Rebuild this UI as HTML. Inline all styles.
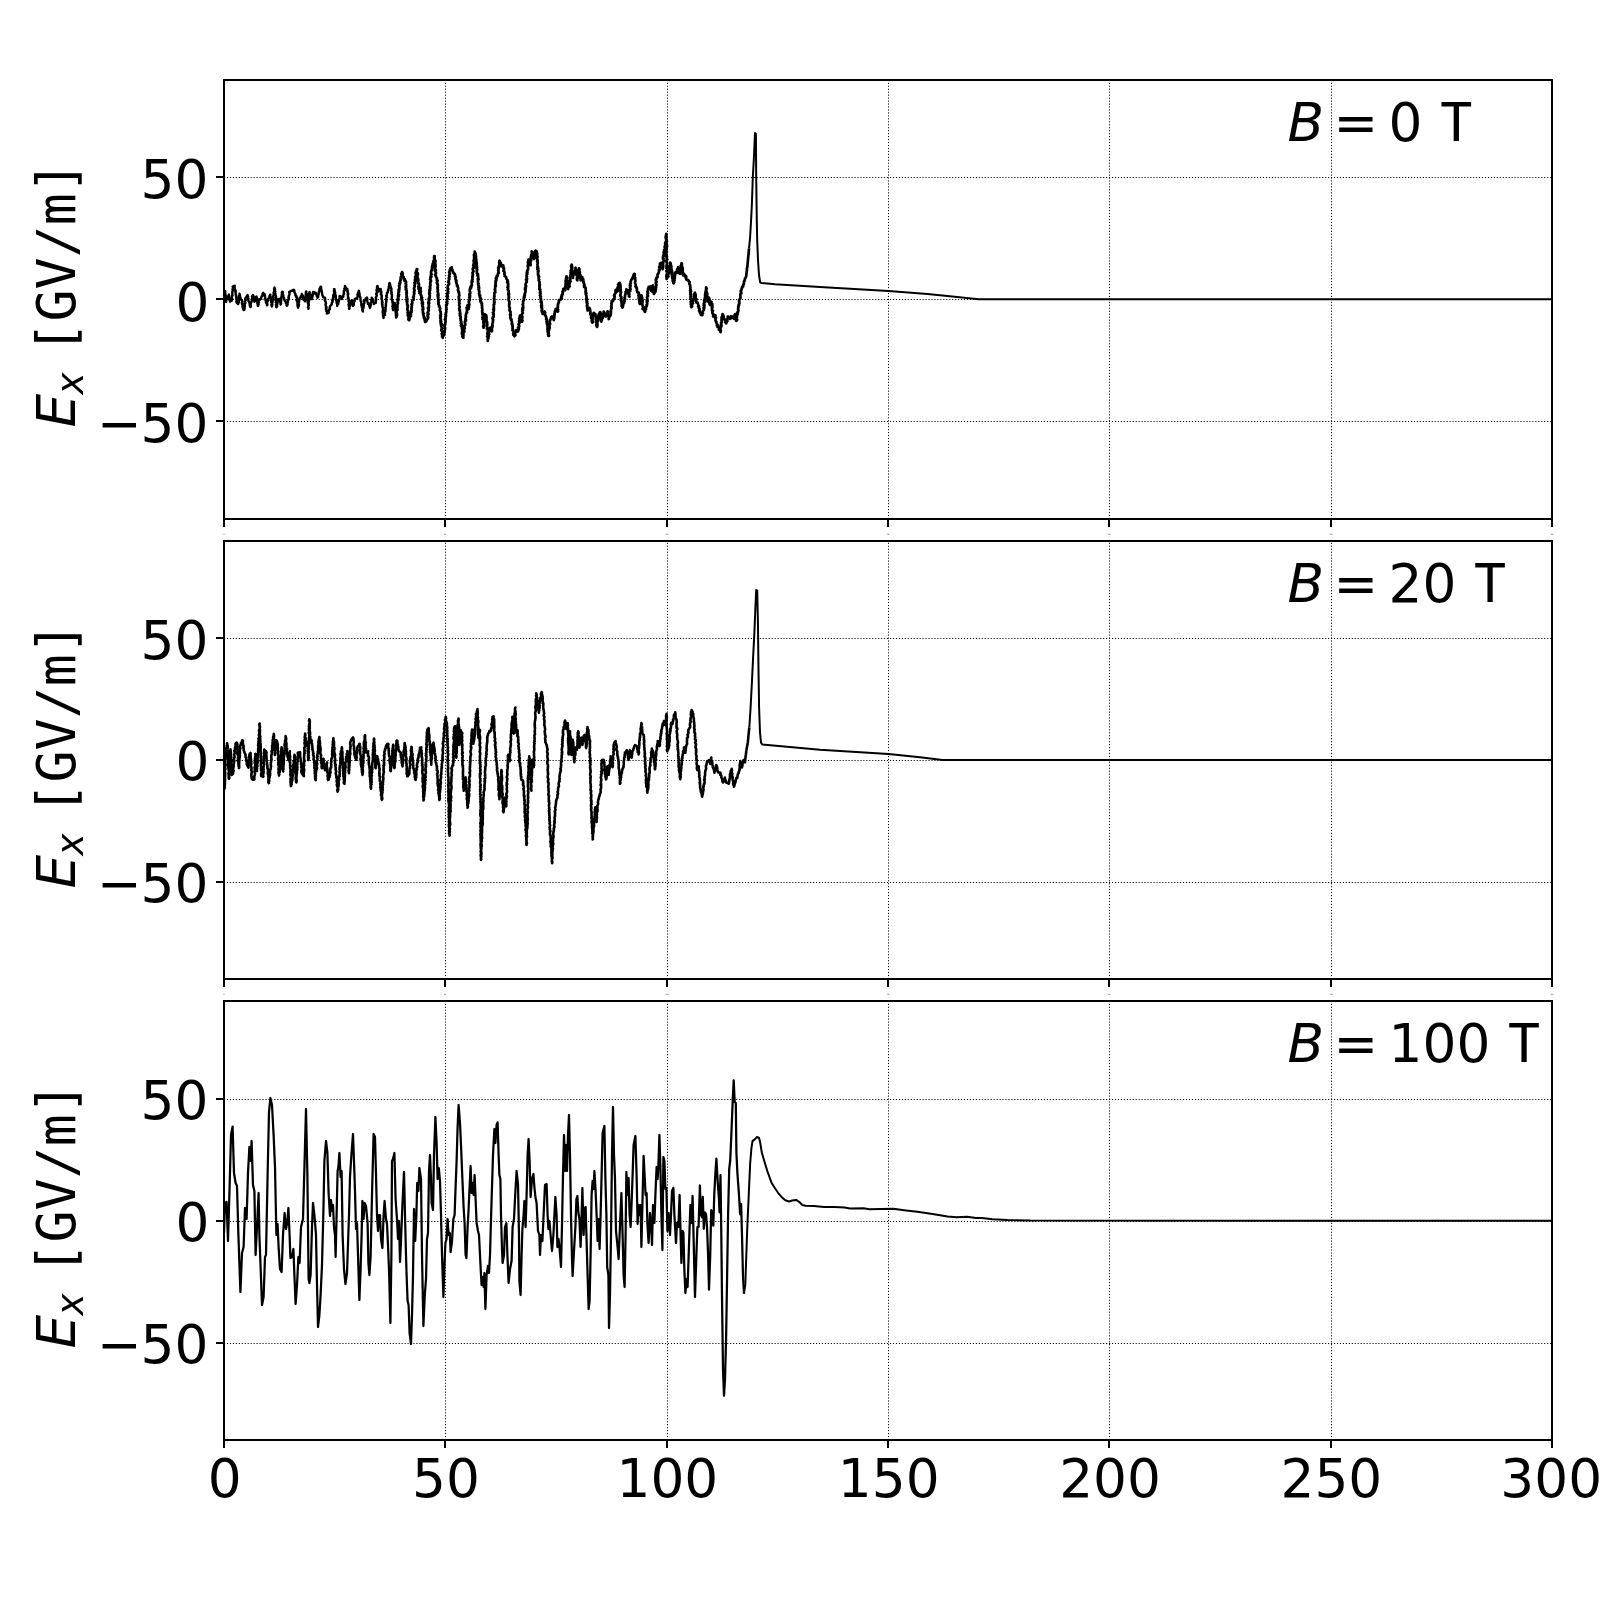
<!DOCTYPE html>
<html><head><meta charset="utf-8"><title>Ex</title>
<style>
html,body{margin:0;padding:0;background:#fff}
svg{display:block;will-change:transform}
text{font-family:"DejaVu Sans","Liberation Sans",sans-serif;fill:#000}
.m{font-family:"DejaVu Sans Mono","Liberation Mono",monospace}
.i{font-style:oblique}
.g{stroke:#000;stroke-width:1;stroke-dasharray:1.1 1.86}
.s{stroke:#000;stroke-width:2;fill:none}
.c{fill:none;stroke:#000;stroke-linejoin:round;stroke-linecap:butt}
</style></head><body>
<svg width="1600" height="1600" viewBox="0 0 1600 1600">
<rect width="1600" height="1600" fill="#fff"/>
<g id="p0">
<line class="g" x1="445.5" y1="519.0" x2="445.5" y2="80.0"/>
<line class="g" x1="667.5" y1="519.0" x2="667.5" y2="80.0"/>
<line class="g" x1="888.5" y1="519.0" x2="888.5" y2="80.0"/>
<line class="g" x1="1109.5" y1="519.0" x2="1109.5" y2="80.0"/>
<line class="g" x1="1331.5" y1="519.0" x2="1331.5" y2="80.0"/>
<line class="g" x1="224.0" y1="421.5" x2="1552.0" y2="421.5"/>
<line class="g" x1="224.0" y1="299.5" x2="1552.0" y2="299.5"/>
<line class="g" x1="224.0" y1="177.5" x2="1552.0" y2="177.5"/>
<polyline class="c" stroke-width="2.4" points="224.2,299.0 223.7,298.7 224.6,297.7 224.4,296.3 224.6,295.8 224.0,295.6 224.4,294.7 224.7,293.4 224.4,292.6 224.4,292.3 225.3,291.1 225.0,290.9 225.0,291.1 225.1,292.0 225.1,293.2 225.3,293.5 225.5,294.9 225.4,295.1 225.9,295.8 225.9,296.0 225.6,297.1 226.0,298.0 226.0,298.6 226.1,299.8 225.6,300.6 226.2,300.4 226.3,301.1 226.1,302.0 226.0,301.9 226.2,301.0 226.4,299.7 226.9,299.0 227.5,298.6 227.7,297.9 227.8,297.3 228.0,296.6 228.7,295.3 228.9,294.5 228.9,294.9 229.0,296.6 229.2,297.3 229.2,297.9 229.6,298.7 229.3,298.9 229.4,299.8 230.2,301.1 230.0,301.7 230.9,300.6 231.8,300.7 231.7,299.6 232.0,298.9 232.4,299.0 231.9,298.5 231.7,297.0 231.8,296.4 232.0,295.7 232.5,295.6 232.3,294.8 232.3,294.1 232.4,293.2 232.2,292.3 232.3,291.9 232.6,290.8 232.9,290.2 232.5,288.9 232.8,289.2 233.1,287.4 232.7,286.6 232.9,286.6 233.9,286.0 234.8,285.8 234.6,286.3 234.6,287.2 234.7,288.7 235.0,289.3 235.2,289.8 234.9,290.8 235.7,290.7 235.5,292.2 235.7,292.0 235.7,292.9 235.6,294.1 236.1,295.1 235.9,295.8 236.2,295.9 236.4,296.7 236.2,297.9 236.3,298.2 236.4,298.8 236.6,299.9 236.8,300.6 236.3,301.3 236.6,302.2 236.8,302.9 237.4,303.0 238.1,304.1 237.8,302.8 238.7,302.7 238.8,302.2 238.9,301.0 238.7,300.2 239.1,299.5 238.5,299.3 238.6,298.3 239.0,297.4 238.9,296.6 238.9,296.4 239.3,295.5 239.6,294.5 239.5,293.8 240.0,295.2 239.3,295.7 239.5,296.3 240.2,296.9 240.6,297.8 240.6,298.5 240.5,299.0 241.2,299.8 241.8,300.3 242.1,301.0 242.4,301.7 241.8,303.0 242.6,303.2 242.3,303.5 242.1,304.4 242.9,305.3 242.7,306.4 242.5,306.6 242.7,307.6 243.0,308.4 243.1,308.9 243.6,310.0 244.4,309.8 244.6,308.4 244.3,308.6 244.5,308.0 244.8,306.7 244.7,305.6 244.8,304.9 244.7,305.2 244.7,304.2 245.2,303.6 245.4,303.1 245.1,301.8 245.0,301.4 245.1,300.1 245.8,300.0 245.7,299.2 245.2,298.9 245.7,297.6 246.4,297.3 246.6,296.4 247.0,296.1 247.6,295.0 247.8,296.5 248.2,296.7 247.7,297.4 248.1,298.1 248.5,298.5 248.1,299.8 248.5,300.1 248.5,301.3 248.9,301.6 249.2,301.8 249.5,303.3 249.8,304.1 249.6,304.8 249.8,305.3 250.0,306.1 250.2,306.7 250.5,307.1 250.2,306.5 251.0,306.1 250.5,305.2 250.9,304.2 250.7,303.7 251.0,302.9 251.2,302.5 251.7,301.1 251.7,300.1 251.7,300.2 252.0,298.9 252.0,298.3 252.3,298.1 252.0,296.3 252.7,295.8 252.8,295.3 253.2,295.3 252.7,296.5 253.6,296.7 253.3,298.0 253.8,299.3 253.5,299.8 253.7,299.8 253.8,300.3 254.4,301.7 255.0,301.1 255.2,300.2 254.8,299.7 255.1,298.4 255.6,297.7 256.0,296.8 256.5,296.5 256.6,297.2 257.0,297.7 256.5,299.2 257.3,299.0 256.7,300.7 257.3,300.9 257.4,301.5 257.4,302.6 257.3,303.3 258.0,303.4 257.6,304.7 257.8,305.5 258.0,306.0 258.3,305.1 258.5,304.6 258.6,304.1 258.3,303.4 258.9,302.5 258.5,301.5 258.6,300.6 258.9,300.3 259.5,299.9 259.4,299.1 260.4,299.5 261.2,298.5 261.2,297.9 261.5,296.6 261.6,296.5 262.4,296.1 262.5,294.4 262.6,293.8 262.9,293.1 263.2,292.8 263.4,293.6 263.9,293.8 264.6,294.1 264.7,295.1 265.0,295.9 264.9,296.1 265.3,297.3 265.0,298.4 265.5,299.1 265.4,299.9 265.8,300.0 265.9,300.4 265.9,301.3 265.9,302.6 266.2,303.0 266.8,303.7 267.1,304.4 267.0,305.3 267.4,304.9 267.4,304.2 267.1,302.6 267.3,302.0 267.7,301.2 267.7,301.4 268.1,299.9 267.6,300.1 268.0,299.0 268.8,298.2 268.9,297.9 269.4,297.0 269.4,296.2 269.7,296.1 270.1,294.7 270.4,294.7 270.1,295.5 270.2,296.3 270.5,296.9 270.6,297.9 270.9,298.0 271.1,298.5 271.4,299.9 270.8,300.5 271.1,300.7 271.2,301.7 271.2,302.2 271.5,302.6 271.9,304.1 271.8,304.5 271.3,304.8 271.8,305.7 271.8,306.5 272.1,306.3 272.2,304.8 272.4,304.4 272.2,303.9 272.1,303.2 272.6,302.1 272.3,300.6 273.0,300.1 273.1,300.0 273.0,299.0 273.0,298.7 273.5,298.0 273.2,297.4 273.0,296.2 273.4,295.5 273.8,294.3 273.9,294.6 274.0,292.8 273.5,293.0 274.0,291.8 274.1,291.7 274.2,290.0 274.1,289.5 274.1,288.9 274.2,288.7 274.5,287.6 274.6,288.8 275.0,288.9 275.1,290.1 274.8,290.8 275.4,291.8 274.9,292.5 274.9,292.9 275.5,293.8 275.4,294.6 275.6,295.1 275.7,295.9 276.1,296.6 275.8,297.4 276.0,297.8 276.2,298.3 275.5,299.7 275.5,299.9 276.2,300.6 276.4,301.7 275.7,302.2 276.4,302.8 276.6,303.4 276.0,304.6 276.8,304.4 276.3,305.4 276.2,307.0 276.6,307.2 276.9,306.2 277.2,306.2 276.9,305.4 277.0,304.2 277.6,303.7 277.2,302.3 277.9,301.8 277.6,301.0 277.8,300.3 278.4,300.0 278.1,299.1 279.1,299.0 280.0,299.0 279.7,299.4 280.3,300.3 279.9,301.6 280.1,301.4 280.5,303.0 280.5,303.3 280.8,303.7 280.6,304.5 280.9,304.1 281.1,303.5 280.9,302.1 280.9,302.0 281.0,300.6 281.1,300.2 281.4,299.9 280.9,298.5 281.2,297.6 281.9,297.5 281.3,297.1 282.0,295.8 281.6,295.2 281.8,294.4 282.4,293.8 282.3,293.5 281.8,292.8 282.1,291.7 282.7,291.7 282.9,292.8 282.3,294.1 283.2,294.5 283.2,294.7 283.3,296.1 283.3,296.9 283.5,296.9 283.6,297.6 284.1,298.0 284.1,299.1 284.2,299.9 284.9,300.2 284.9,301.3 285.7,301.7 286.1,302.0 285.9,303.2 286.2,303.3 286.8,304.6 286.5,305.2 286.8,305.8 287.4,305.0 287.6,304.4 287.3,303.2 287.3,303.2 287.8,302.8 287.5,301.1 287.9,301.3 288.2,300.6 287.9,300.0 288.5,299.1 288.9,298.7 288.4,297.2 288.9,297.3 288.8,295.7 289.4,294.8 289.5,294.3 289.5,293.6 289.5,293.2 289.2,292.1 289.8,291.7 290.4,291.3 291.2,290.8 291.9,291.0 292.6,290.5 293.0,290.1 293.6,289.7 294.4,290.4 294.3,291.6 294.6,292.4 294.4,292.2 295.0,293.3 295.5,294.2 295.3,295.4 296.3,295.6 296.0,296.3 296.4,297.3 297.0,297.3 296.8,298.0 296.9,299.1 296.6,300.3 296.8,300.9 296.9,301.2 297.6,301.9 297.4,303.0 297.5,304.1 297.4,304.2 297.8,304.9 297.4,305.8 298.1,306.9 297.9,307.0 298.2,307.7 298.1,307.0 298.8,305.9 298.8,306.1 298.3,305.2 299.0,304.6 298.7,303.5 298.6,302.1 299.0,302.3 299.1,301.0 299.2,300.0 299.3,299.4 299.3,298.8 300.0,298.7 300.3,298.1 300.7,297.2 300.6,296.4 301.6,296.1 301.7,295.0 301.9,293.9 302.0,294.9 302.6,295.3 302.8,295.5 302.9,297.2 303.1,297.5 303.0,298.4 303.0,298.9 303.6,299.1 303.7,300.0 304.8,300.7 305.0,301.3 305.2,300.7 305.6,299.9 304.9,299.9 304.9,298.6 305.3,298.4 305.2,296.9 305.8,296.6 305.6,295.5 305.8,295.1 306.3,294.3 305.6,294.1 306.4,293.2 305.8,292.3 306.3,291.4 306.0,292.6 306.2,292.6 307.0,294.0 306.6,293.7 307.1,295.0 307.4,295.7 307.4,296.1 307.4,296.7 307.4,297.8 307.6,298.0 307.8,298.7 307.4,299.7 308.0,300.2 308.0,301.1 307.6,302.2 308.1,303.2 308.0,302.9 308.2,303.9 308.4,305.2 308.3,305.2 308.6,305.7 307.9,307.4 308.4,307.5 308.5,308.2 308.4,308.9 308.6,307.8 308.2,307.8 308.2,307.1 308.4,305.8 308.9,305.0 308.9,305.1 308.8,303.9 308.5,303.3 308.5,303.0 308.8,301.9 308.9,301.3 308.6,300.6 309.4,300.2 308.8,299.7 309.1,298.1 309.4,297.3 309.0,296.4 309.5,295.8 308.9,296.0 309.6,295.3 309.0,294.5 309.1,293.3 309.5,292.7 309.5,292.0 309.6,293.4 310.1,293.2 310.7,294.7 310.6,295.1 311.2,295.8 311.0,296.8 311.0,297.7 311.3,298.7 311.9,299.0 311.8,298.0 312.3,297.8 312.5,296.4 312.5,295.8 312.5,295.7 313.1,294.5 313.2,293.6 313.1,293.2 313.1,291.9 313.9,292.0 314.7,293.1 315.6,292.7 316.2,293.7 315.8,294.2 316.8,295.2 316.8,295.3 316.8,296.3 317.6,296.7 317.5,297.8 317.7,297.4 318.2,297.0 318.3,295.2 318.3,295.4 318.7,293.8 318.7,293.9 318.7,293.3 318.7,292.3 319.2,291.8 319.2,291.2 319.5,289.6 319.4,289.0 319.9,288.0 320.2,288.2 320.6,287.1 320.6,286.6 321.0,286.8 321.1,287.3 321.2,288.7 321.3,289.2 321.1,290.4 321.7,290.6 321.8,291.4 321.8,292.8 322.0,292.5 322.2,294.2 322.2,294.9 322.4,294.9 322.7,295.8 323.3,296.8 323.1,297.2 324.0,297.6 324.9,297.6 325.2,299.0 324.8,299.6 325.3,300.1 324.9,300.8 325.3,301.1 325.5,301.6 325.9,303.1 325.9,303.7 325.5,304.4 325.6,305.1 325.6,305.1 326.2,306.8 326.4,306.9 325.9,307.9 326.6,307.8 325.9,309.4 326.6,310.0 326.9,310.6 326.3,311.1 326.9,311.8 327.1,312.7 326.9,313.5 327.9,313.1 328.8,312.6 328.9,312.1 328.6,311.6 328.8,310.5 329.7,309.5 329.2,309.4 329.9,309.1 329.7,307.3 329.9,307.5 329.9,306.6 330.3,306.2 331.1,305.0 331.5,304.8 331.8,304.1 331.7,303.5 331.9,302.6 332.7,301.5 332.2,300.7 332.4,300.2 333.1,299.6 333.1,299.1 332.9,298.2 333.2,297.4 333.6,297.2 333.1,296.1 333.4,294.8 333.6,294.7 333.7,294.6 334.3,293.4 334.1,292.3 334.4,291.6 333.9,291.1 334.3,290.4 334.0,289.1 334.5,289.1 334.2,289.2 334.8,290.7 334.9,291.1 334.7,291.5 335.3,292.8 334.9,293.3 335.1,293.9 335.4,294.6 335.7,295.3 335.8,296.5 335.4,296.2 335.8,296.9 335.8,298.2 336.0,298.6 336.1,300.0 336.6,299.9 336.2,300.7 336.9,301.1 336.7,301.8 336.6,303.1 337.0,303.4 337.3,304.1 337.2,305.2 337.2,305.9 337.3,305.1 337.6,303.8 338.3,304.2 338.3,302.5 338.1,302.7 338.8,301.6 338.6,300.6 338.8,300.4 339.2,300.0 339.4,298.6 339.3,298.3 339.8,297.7 339.5,296.1 340.0,295.9 340.5,296.3 341.0,296.4 340.9,298.1 341.8,298.6 341.9,299.0 341.9,298.3 342.1,297.2 343.0,297.0 343.3,296.6 343.3,295.0 343.6,294.7 343.7,293.9 344.1,293.6 343.8,292.8 343.8,291.4 343.8,291.1 344.6,289.8 344.8,289.4 344.3,288.6 344.9,287.7 345.1,287.5 345.3,287.0 344.9,285.9 345.4,286.6 345.3,287.5 345.9,288.1 346.2,288.2 346.0,289.4 346.1,290.2 347.2,289.6 347.4,288.9 347.4,290.1 347.3,290.6 347.8,291.1 347.5,291.4 347.7,292.7 348.2,293.5 348.2,294.5 347.7,294.7 347.9,295.5 348.0,296.3 348.1,297.3 347.9,298.2 348.4,297.7 348.6,298.4 348.5,299.7 349.0,299.8 348.4,301.0 349.0,302.4 348.9,302.1 349.2,302.8 349.1,303.7 348.5,304.4 349.2,304.8 348.8,306.6 349.5,307.1 349.3,308.0 349.0,308.9 349.4,308.9 349.6,308.4 349.4,307.2 349.9,306.4 350.1,306.0 350.0,305.0 350.0,304.1 350.3,304.3 350.2,303.1 350.4,302.4 350.7,301.5 351.3,300.7 351.9,300.3 352.3,300.7 352.5,301.2 352.3,301.9 352.1,303.6 352.3,303.9 352.5,304.0 352.6,305.0 353.0,306.0 353.1,305.7 353.8,305.0 353.9,304.0 353.5,303.2 353.9,302.9 354.1,301.3 354.7,300.9 354.3,300.5 354.7,299.4 355.0,298.9 356.1,298.5 357.0,298.6 357.1,298.3 357.6,296.6 357.6,296.0 357.6,295.7 357.4,294.8 357.9,294.1 357.6,294.1 358.1,293.5 358.1,292.2 359.0,291.7 358.8,290.7 359.0,291.0 358.6,292.0 359.3,292.9 359.7,294.2 359.3,294.8 359.4,294.9 359.8,296.4 360.0,296.5 360.2,297.5 360.6,297.7 360.6,298.1 360.5,298.9 360.5,300.5 360.8,301.3 361.3,301.5 361.1,302.4 361.2,302.7 361.6,303.8 361.3,304.4 361.3,305.4 362.0,306.0 362.3,306.5 361.7,307.1 362.4,308.0 362.6,309.0 362.1,309.7 362.3,310.0 362.7,311.3 363.0,311.4 362.8,311.3 362.8,310.4 362.9,309.6 362.9,308.9 363.2,308.5 363.5,307.9 363.6,306.8 363.9,305.7 363.7,304.9 363.8,303.9 363.8,304.2 364.2,303.6 364.4,302.9 364.2,301.5 363.9,300.5 364.4,300.4 365.1,300.5 365.5,299.6 365.6,298.4 366.5,298.4 367.0,297.6 367.3,298.8 367.3,299.4 367.2,300.1 367.0,300.5 367.2,300.8 367.5,302.2 368.0,302.8 367.9,303.4 368.0,304.1 368.9,304.1 369.1,305.0 369.4,306.3 369.4,306.6 370.0,307.9 370.1,307.3 370.6,305.8 370.4,306.1 370.6,304.8 370.9,304.6 370.4,303.1 371.2,302.2 371.1,302.5 371.4,301.4 371.4,300.6 371.1,299.9 371.3,299.4 372.1,299.0 371.8,297.7 372.0,298.6 372.1,298.6 372.9,299.4 372.9,300.5 373.0,300.8 372.7,301.6 373.4,302.5 373.8,303.1 373.8,304.1 374.6,303.4 374.9,302.7 375.7,302.9 375.9,301.5 375.8,301.7 375.7,300.4 376.3,299.7 375.8,298.9 376.1,298.0 376.1,298.2 375.8,297.3 376.2,296.9 376.6,296.2 376.8,295.2 376.1,294.1 376.4,293.7 376.3,293.4 377.0,292.7 376.8,292.0 376.9,290.7 376.6,290.5 376.5,289.9 377.2,288.8 377.0,288.2 377.0,287.0 377.1,286.3 377.3,286.0 377.8,286.4 377.7,287.0 377.8,288.0 377.8,289.3 377.8,289.4 378.5,290.1 378.6,290.6 378.7,291.5 379.0,290.8 379.9,290.1 379.9,289.0 380.8,289.1 380.6,289.2 380.4,290.4 381.3,291.5 381.4,292.2 381.1,293.1 380.9,293.4 380.8,294.5 381.3,294.2 381.3,295.0 381.9,295.9 381.4,297.3 381.8,297.9 381.4,298.6 381.7,298.9 381.7,299.7 382.1,300.4 382.1,300.6 381.9,301.9 382.6,302.2 382.0,302.9 382.0,304.5 382.5,304.3 382.4,305.8 382.4,306.6 382.4,306.9 383.0,307.4 382.7,307.8 383.1,309.5 383.1,310.1 382.6,311.1 382.6,310.9 383.4,311.8 382.7,312.7 383.1,313.5 383.2,314.3 382.9,314.4 383.1,316.0 383.2,316.9 383.6,317.6 383.5,317.9 383.5,316.5 383.7,316.1 384.3,315.0 385.1,315.0 384.9,313.9 384.9,312.9 385.0,312.8 384.8,311.6 385.0,311.7 385.6,311.0 385.4,309.6 385.7,309.2 385.6,308.7 385.3,307.7 385.9,306.9 385.8,305.6 386.0,305.6 385.7,305.4 386.0,304.3 385.9,303.5 386.2,303.0 386.1,302.1 386.1,301.7 386.6,300.9 386.2,300.4 386.0,298.6 386.2,298.2 386.7,297.6 386.9,297.4 386.1,296.0 386.7,295.5 386.8,295.1 386.9,293.8 387.2,292.9 386.9,292.8 387.6,292.8 388.0,291.6 387.8,291.1 388.4,290.0 388.1,289.4 388.6,288.8 388.9,287.8 388.7,287.1 389.0,285.8 389.2,285.5 389.5,285.5 389.0,284.0 389.7,283.6 389.5,283.0 389.8,283.2 390.1,284.1 390.1,285.2 390.3,285.6 390.6,286.1 390.8,287.4 390.7,287.2 391.5,288.7 391.2,289.0 391.4,289.3 391.4,290.5 391.0,290.8 391.7,292.2 391.2,292.6 391.4,293.7 391.9,294.1 391.7,294.4 392.0,295.5 391.8,296.6 391.9,296.5 391.9,297.6 391.7,297.9 391.7,299.1 392.5,299.7 392.1,300.6 392.4,301.1 392.7,301.5 392.4,302.3 392.7,303.4 392.8,304.4 392.8,304.6 392.8,304.9 392.4,306.5 393.0,307.1 392.8,307.5 392.7,308.3 393.0,308.4 393.3,309.2 393.0,310.1 392.9,309.5 393.8,308.6 393.7,308.2 393.6,307.7 394.4,306.4 394.1,305.3 394.0,304.9 394.7,303.9 394.2,303.8 394.7,302.9 394.9,303.0 395.1,303.7 394.8,305.2 394.7,305.3 394.9,305.9 394.9,306.7 395.2,307.8 394.9,308.3 395.2,309.1 395.9,310.4 395.6,310.2 395.4,311.7 395.9,311.5 396.2,312.5 395.8,313.6 396.2,313.6 396.0,315.1 396.2,316.1 396.5,316.2 396.4,316.6"/>
<polyline class="c" stroke-width="2.7" points="396.4,316.6 396.2,317.5 396.6,316.6 396.1,316.6 397.0,315.6 396.1,315.4 397.0,314.9 396.2,313.2 397.0,313.4 396.4,312.2 396.7,311.1 396.8,310.3 396.5,310.3 397.4,309.9 397.5,309.1 397.4,308.4 397.3,307.5 397.5,306.5 397.1,305.2 397.4,304.8 397.6,304.4 398.0,303.1 398.1,303.1 397.6,302.3 397.8,301.3 398.0,301.0 397.4,299.6 398.4,300.1 398.4,299.1 398.0,297.9 398.5,297.1 398.1,296.5 398.9,296.0 398.0,295.4 399.1,294.5 398.3,293.9 398.3,293.5 398.5,291.9 399.1,291.8 399.1,290.4 398.5,290.0 399.3,288.9 399.4,289.1 399.1,288.5 399.5,287.8 399.4,286.9 399.0,285.6 399.6,285.2 400.0,283.9 399.3,283.4 399.9,282.8 400.4,282.8 400.0,281.6 400.2,281.2 400.6,280.0 400.6,280.1 400.6,278.1 401.3,277.7 400.8,277.0 401.5,276.2 401.5,275.1 401.5,275.0 401.2,273.8 401.9,273.7 402.2,273.2 402.1,272.1 401.9,272.6 402.7,273.1 402.3,274.1 402.7,274.7 402.8,276.1 403.1,276.6 403.3,277.0 403.7,277.1 403.8,278.3 403.9,279.7 404.9,279.1 404.4,280.6 405.6,280.8 405.7,281.3 406.1,282.5 405.8,282.7 405.6,283.5 406.2,284.3 405.9,284.5 406.1,285.6 406.2,286.4 405.5,286.6 405.9,288.3 406.3,288.3 405.7,289.6 406.4,289.9 406.6,290.2 406.6,291.9 406.3,292.4 406.7,292.1 406.8,293.9 406.4,294.3 406.6,294.9 406.6,295.8 406.9,296.4 406.4,297.4 407.2,298.1 407.2,298.7 406.8,299.0 406.6,300.4 407.3,301.0 406.7,301.5 407.3,301.8 407.1,302.0 407.1,303.4 407.1,304.4 407.4,304.7 408.0,305.6 407.4,305.5 407.8,306.5 407.7,307.3 407.7,307.6 407.2,309.2 407.6,310.2 408.0,310.4 408.3,311.4 407.6,312.5 408.2,312.2 407.8,313.9 408.2,313.9 407.7,315.3 408.0,315.0 407.9,315.8 408.3,316.3 408.9,318.1 408.4,318.8 408.5,319.0 408.3,319.1 408.8,320.1 409.3,320.1 409.5,319.5 409.5,318.5 410.1,316.9 410.5,316.3 411.0,316.2 410.2,314.6 410.9,314.4 410.9,313.1 410.5,312.9 411.5,312.2 411.3,310.8 411.6,311.0 411.6,309.3 411.4,308.5 411.3,308.8 411.8,307.6 411.5,306.8 411.8,306.1 412.0,304.8 411.5,304.2 411.8,304.0 412.1,303.9 412.4,302.3 412.1,301.9 412.2,300.7 412.3,300.9 412.6,300.2 413.5,300.0 413.7,298.1 413.4,297.6 413.1,297.2 413.9,296.4 413.9,296.3 413.7,295.7 414.0,294.5 414.3,293.7 414.2,293.3 414.3,292.2 413.9,292.2 414.2,291.0 414.6,290.5 414.4,289.5 413.9,288.6 414.3,287.6 414.4,287.1 414.4,286.7 414.9,286.6 414.4,285.8 415.0,284.4 414.6,283.4 414.4,282.6 415.1,282.9 414.9,282.4 415.2,281.8 415.3,280.1 414.8,280.2 415.3,278.9 415.1,277.6 415.7,278.1 415.1,277.0 415.7,276.3 416.1,276.1 415.8,275.1 416.0,274.3 415.6,272.9 416.8,273.1 416.0,271.3 416.5,271.2 416.4,270.4 417.2,269.2 416.8,269.1 416.9,269.4 417.0,270.1 416.7,270.5 416.8,271.8 417.1,272.7 417.7,273.1 417.8,273.6 417.9,274.5 417.4,275.9 417.4,276.6 417.2,277.1 417.4,277.7 417.5,277.6 418.3,279.3 417.7,280.2 418.3,280.4 417.7,281.1 418.4,282.2 417.9,283.1 418.3,283.2 418.7,283.3 419.0,284.7 419.1,284.6 418.5,286.3 418.3,286.3 418.5,288.1 419.4,288.1 418.5,288.9 419.4,289.0 419.5,290.6 419.6,291.5 419.2,291.4 419.7,292.2 419.3,293.1 419.6,292.8 419.6,291.8 420.0,290.9 419.5,290.0 420.1,290.4 419.5,288.6 419.5,288.4 420.1,287.8 420.6,287.9 420.5,289.5 420.5,290.4 420.2,291.2 420.8,291.9 420.9,291.7 420.4,292.2 420.6,294.0 420.9,294.6 420.7,295.0 421.4,295.6 421.4,295.8 421.3,296.8 422.1,297.7 421.3,298.2 421.9,298.9 421.7,299.7 421.6,300.3 422.4,301.0 422.5,302.4 421.9,301.9 422.9,302.6 421.9,303.5 422.9,304.1 422.3,305.5 422.2,305.9 423.1,307.1 422.7,306.8 423.1,308.7 423.2,309.0 422.5,309.3 423.0,310.6 422.8,310.3 422.9,312.3 422.9,312.9 423.8,313.5 423.6,313.7 423.2,313.9 423.3,314.7 423.7,315.9 423.7,316.4 423.9,317.8 424.4,317.2 424.7,318.3 424.6,319.2 424.5,319.6 425.0,320.6 425.0,321.8 425.1,322.0 425.5,321.8 426.3,321.2 426.6,320.5 427.0,319.6 427.8,318.8 427.6,318.6 428.2,317.6 428.1,316.7 427.6,316.4 427.6,315.2 428.5,314.3 427.7,313.7 428.2,313.0 427.7,312.4 427.9,312.2 428.4,310.9 428.5,311.0 428.8,310.3 427.9,308.3 428.8,308.2 428.4,307.5 428.9,307.5 429.0,306.3 428.8,306.1 428.7,304.4 428.7,304.1 428.3,302.8 429.3,303.1 428.5,302.1 428.6,301.4 429.3,300.4 428.8,300.0 428.7,298.5 429.6,298.7 429.7,297.1 429.6,297.5 429.5,296.8 429.9,295.9 429.4,294.6 429.1,293.6 430.0,293.4 429.3,292.6 429.6,291.3 429.4,290.5 429.4,289.9 430.1,290.4 430.2,288.6 429.9,288.0 430.2,287.8 429.8,286.4 430.5,285.6 430.3,285.0 430.4,284.7 430.1,283.5 430.4,283.2 430.3,281.9 430.9,281.4 430.7,281.0 431.0,280.6 430.1,279.4 430.5,278.7 430.6,277.6 431.3,277.2 430.4,277.1 431.4,276.7 430.8,274.9 431.3,274.7 431.6,274.5 431.1,273.3 431.0,271.9 431.4,271.1 431.3,270.4 431.5,270.3 432.0,270.0 432.0,268.4 431.9,267.9 432.1,267.9 432.1,266.2 433.1,265.6 432.3,265.1 432.6,265.0 433.2,264.2 432.8,263.6 433.8,263.1 433.7,261.4 433.2,261.6 434.2,259.8 434.4,260.0 434.1,259.5 434.1,258.6 434.2,257.0 434.1,256.1 434.6,256.1 434.2,257.0 434.7,257.4 434.6,257.8 434.5,259.2 434.8,259.2 434.4,260.7 435.4,260.7 435.5,261.9 434.6,262.2 435.3,263.6 434.9,263.8 435.5,264.5 434.9,265.1 434.7,266.5 435.7,266.2 435.5,266.9 434.8,267.9 435.0,268.8 435.0,269.9 435.9,269.9 434.9,270.8 435.9,272.1 435.7,272.5 435.9,272.6 436.0,274.0 435.1,274.6 435.5,275.4 435.7,275.9 436.3,277.3 436.7,277.9 437.0,279.1 436.9,279.0 436.8,280.1 437.6,280.4 437.1,281.5 437.4,281.6 436.7,282.7 437.5,283.5 437.2,284.3 437.9,285.1 437.8,284.9 437.7,286.0 437.6,287.2 437.9,287.2 437.4,288.0 437.9,289.6 437.8,289.5 437.7,290.2 437.9,290.8 437.6,291.6 437.8,292.3 438.1,293.2 438.4,294.3 437.6,294.8 438.4,295.5 437.7,296.0 438.3,297.3 438.0,297.1 438.0,298.3 438.5,299.1 438.6,300.3 438.2,300.7 438.2,301.1 438.8,302.5 438.7,302.5 438.4,302.8 438.4,304.2 438.6,304.4 439.3,305.8 439.4,305.8 438.9,306.5 439.5,306.9 440.2,308.8 440.1,308.8 439.8,310.1 439.9,309.9 440.0,310.5 440.7,312.1 440.5,312.6 440.8,313.4 440.9,314.7 440.8,314.2 440.1,315.7 440.9,316.1 440.5,317.5 440.2,318.0 440.4,317.9 440.7,319.8 440.9,319.2 440.4,321.3 440.5,321.4 441.2,321.3 440.6,322.8 441.7,323.6 440.8,323.6 440.9,324.8 441.7,325.4 441.1,326.2 441.5,326.9 441.7,327.6 441.6,328.2 441.8,329.1 441.2,330.3 441.5,330.8 442.2,331.8 442.5,331.8 442.6,332.9 441.7,333.8 441.8,334.0 442.3,334.5 442.0,336.3 442.7,335.7 442.7,336.7 442.7,337.8 442.7,337.2 443.0,336.8 443.3,336.0 444.0,334.6 444.3,333.7 443.6,333.0 444.4,332.8 444.8,332.0 444.5,330.8 444.7,330.5 444.9,330.0 445.0,329.1 444.4,328.3 445.1,327.8 444.9,327.6 444.4,326.0 444.4,325.1 444.9,325.3 445.3,324.1 445.2,323.6 445.1,323.5 445.4,322.4 445.5,322.1 445.5,320.2 444.9,319.4 445.6,319.9 445.4,319.1 445.7,317.8 445.4,317.0 445.9,316.8 445.9,316.5 446.0,315.4 445.5,314.5 446.0,313.6 445.9,312.7 446.1,313.2 446.3,311.6 446.3,310.7 446.3,310.1 446.5,309.4 446.2,309.1 446.7,309.0 446.5,308.3 446.2,307.1 446.3,306.6 446.1,304.9 446.9,304.9 446.6,304.1 447.3,303.3 446.8,302.8 446.7,301.9 447.3,301.4 447.1,301.0 446.9,300.4 447.6,298.8 447.2,297.9 447.1,297.5 447.9,296.5 447.7,296.3 447.0,295.0 447.4,294.7 447.3,293.4 448.2,293.1 447.5,292.9 447.6,292.3 448.2,291.8 447.5,290.1 448.2,289.6 448.3,288.9 447.7,288.7 447.8,287.3 447.8,287.3 447.8,285.7 448.1,285.2 449.0,284.4 448.8,284.5 449.1,283.3 448.2,282.1 448.9,282.0 448.8,281.4 448.6,280.8 449.4,279.0 449.1,279.5 448.7,278.0 449.5,277.0 449.6,276.3 449.4,275.9 449.0,275.6 449.9,273.9 449.8,273.2 449.4,273.2 449.1,272.2 449.4,271.9 449.8,270.7 449.8,270.4 449.8,270.0 450.5,268.2 450.8,268.7 451.4,267.8 451.8,267.3 451.5,267.9 451.7,268.3 451.8,270.0 452.4,269.7 452.5,271.0 453.1,271.6 452.9,271.9 453.0,272.7 453.8,273.2 454.2,274.0 454.8,273.9 455.2,275.3 454.9,276.1 455.8,277.1 455.4,278.0 455.4,277.9 455.3,278.7 456.1,280.0 456.0,281.1 456.4,280.8 456.0,281.6 456.4,281.9 456.6,283.8 456.8,284.1 457.2,284.8 456.9,285.7 457.7,285.8 457.5,286.6 457.9,287.2 458.2,288.3 458.2,289.0 458.1,289.2 457.9,290.1 458.3,290.9 458.8,291.4 458.4,291.9 458.9,292.4 459.2,293.1 458.9,293.7 459.4,295.5 458.7,296.5 458.8,297.0 459.0,297.4 458.8,298.2 459.1,299.1 459.3,299.3 459.0,300.3 459.6,300.4 459.4,301.0 459.2,302.6 459.0,302.5 459.6,303.4 459.2,304.3 459.1,305.5 459.2,305.4 459.8,306.9 459.7,307.0 459.1,308.7 459.3,309.4 459.3,309.9 460.0,310.2 459.7,311.1 459.9,311.7 460.2,312.8 459.7,313.7 460.3,313.2 460.3,315.0 460.1,315.4 459.8,315.5 460.5,316.2 460.7,317.1 460.4,318.6 460.8,319.2 460.6,319.8 460.7,320.6 461.0,321.3 461.3,321.4 461.2,322.6 460.7,323.5 461.6,323.3 461.8,325.1 460.9,325.6 461.5,325.7 461.6,326.2 462.0,328.1 461.9,328.9 462.0,329.0 462.2,330.1 462.4,330.3 462.3,331.8 462.1,331.4 462.0,332.1 461.9,334.0 462.6,334.6 462.9,334.6 462.6,335.1 462.4,336.6 463.2,336.9 462.8,337.5 463.4,337.7 462.8,336.9 463.5,335.7 463.2,335.3 463.4,334.7 463.5,332.8 463.7,332.3 463.8,331.2 464.4,331.7 464.3,330.9 463.8,330.3 464.3,328.9 464.8,328.5 464.5,327.1 464.6,327.4 464.3,325.5 464.6,325.5 465.3,324.9 465.3,323.7 464.8,322.8 465.1,322.2 464.9,322.0 465.0,321.1 465.9,320.7 466.0,319.9 465.4,319.4 465.5,318.2 465.8,317.8 466.0,316.7 465.9,316.0 465.6,315.9 466.1,314.3 466.2,314.0 466.1,313.9 466.7,312.0 467.1,312.6 466.9,311.6 467.0,310.3 466.9,310.2 467.0,309.1 466.6,307.6 467.6,308.2 467.6,306.2 467.5,305.8 467.4,305.3 467.6,305.6 467.5,306.7 468.3,308.0 468.5,308.7 468.6,309.2 468.3,308.7 468.8,308.0 468.9,307.3 469.0,305.8 469.3,305.1 469.3,304.3 469.0,304.0 469.1,302.8 469.0,302.7 468.7,301.3 468.9,301.3 469.8,300.1 469.4,299.5 469.6,298.8 469.7,298.8 469.2,297.3 469.9,297.5 469.6,296.1 470.1,295.9 469.3,294.8 469.6,293.6 470.2,293.7 470.3,292.7 470.1,291.6 469.8,291.5 469.7,290.0 469.7,290.3 470.0,288.8 470.2,288.2 470.9,288.4 470.4,287.1 471.4,286.9 471.0,285.9 471.9,285.3 471.8,283.8 471.6,283.0 471.9,282.8 471.7,281.5 472.5,281.6 472.0,280.2 471.9,280.1 472.6,279.4 472.3,277.9 472.4,277.9 472.7,277.1 472.4,276.4 472.6,275.3 473.0,274.9 472.9,273.8 472.7,274.1 472.5,272.6 473.4,271.6 473.2,271.1 473.4,271.0 472.7,269.3 472.8,268.7 473.1,267.9 473.9,267.8 473.8,267.0 473.6,266.3 473.2,265.4 473.6,265.7 473.5,264.4 474.0,263.3 473.8,263.4 474.1,262.7 473.9,262.1 473.5,260.3 474.4,260.6 474.4,259.6 474.6,258.6 474.1,258.4 474.1,256.6 474.8,256.2 474.0,255.5 474.3,255.2 473.9,254.7 474.7,253.8 474.8,253.1 474.7,251.9 474.7,251.5 474.9,252.4 474.7,253.4 475.4,253.2 475.1,254.3 475.8,254.3 475.1,255.1 476.1,256.1 475.8,256.9 475.8,257.9 476.1,258.1 476.2,259.8 476.1,260.1 476.3,260.5 476.2,261.3 476.5,262.3 476.8,263.0 476.8,264.1 476.1,263.9 476.5,265.8 476.9,266.0 476.3,267.1 477.1,267.4 476.6,268.4 477.2,269.2 476.7,269.4 477.1,270.1 476.6,271.2 477.0,271.8 476.8,273.0 477.6,273.7 477.2,273.9 477.9,273.9 478.1,275.8 477.4,275.5 478.1,276.4 478.3,278.1 477.7,279.0 478.3,278.9 478.6,279.4 478.0,279.9 478.1,281.4 478.0,282.5 478.0,282.7 478.6,283.7 478.1,283.7 478.2,284.4 478.3,285.6 478.9,285.8 478.5,287.4 478.7,287.7 479.2,288.0 478.5,289.4 478.9,289.1 479.1,290.6 479.0,291.4 479.2,291.1 479.4,292.0 479.1,293.6 479.0,293.2 479.4,294.5 479.4,295.8 480.2,295.5 479.7,296.4 479.9,297.6 480.5,297.5 480.5,299.2 481.0,299.0 480.3,300.7 480.4,301.5 480.8,301.2 481.6,302.5 481.3,303.0 482.1,303.6 481.7,305.1 482.0,305.2 482.0,306.3 482.0,306.0 482.2,307.0 482.0,307.5 482.3,309.4 482.3,308.9 482.4,310.6 482.2,310.3 482.1,311.1 482.3,312.7 482.6,313.5 482.7,313.0 482.4,314.1 482.9,315.5 483.3,315.9 483.1,316.7 483.2,317.7 482.4,317.3 483.3,317.9 482.5,319.2 483.3,319.5 483.4,320.4 483.6,321.1 483.3,321.7 483.3,322.7 483.8,323.8 483.9,324.3 483.7,324.6 483.2,326.0 484.0,325.8 483.2,326.6 483.6,327.7 483.5,327.3 483.9,325.9 484.1,325.1 483.7,325.2 484.0,324.2 484.0,323.5 484.1,322.0 484.5,321.9 484.2,321.8 484.4,320.0 484.4,320.2 485.0,319.7 485.0,318.4 484.4,318.2 484.2,316.4 484.9,316.8 484.9,315.2 485.2,314.4 484.9,314.1 485.1,314.5 485.9,315.4 486.2,315.2 486.4,316.7 486.5,316.7 486.6,317.3 486.5,318.1 486.5,320.0 486.2,320.3 486.6,321.4 487.0,322.0 487.0,321.6 487.3,323.0 487.0,323.8 487.0,324.0 487.3,324.6 487.0,325.8 486.7,326.1 487.4,327.4 487.5,328.6 486.8,328.6 487.6,328.8 487.8,329.6 487.7,330.3 487.9,331.4 487.8,331.9 487.4,333.4 487.5,334.0 487.4,333.8 488.0,335.1 487.2,336.5 487.3,336.9 487.8,337.4 488.0,338.7 487.8,338.2 488.1,339.6 487.7,339.6 487.8,340.9 487.8,340.1 487.9,339.6 488.2,338.2 488.5,337.8 488.4,337.2 488.9,336.5 488.4,335.5 488.7,335.2 489.3,334.1 488.9,334.1 489.0,333.1 488.9,332.7 488.8,331.5 489.9,330.8 489.3,331.0 489.8,330.2 490.1,329.6 489.5,328.9 490.2,327.7 489.9,329.0 490.9,328.8 491.6,329.8 491.6,331.2 491.8,331.3 492.0,331.1 491.9,329.8 491.9,329.4 491.9,329.2 492.1,327.6 492.4,327.0 492.0,326.7 492.2,325.7 492.7,325.8 492.3,325.1 492.4,323.8 492.6,323.0 492.9,322.2 492.9,322.0 492.9,320.5 493.1,320.4 493.2,319.4 492.6,318.6 492.5,318.4 492.8,317.3 493.6,316.9 493.6,316.5 493.7,314.7 493.2,314.4 493.3,314.1 493.7,313.7 492.9,312.6 493.5,312.1 493.7,311.3 494.0,309.8 493.2,309.6 493.8,309.1 494.0,308.6 493.6,308.0 493.8,307.2 493.9,306.8 493.7,304.7 494.2,304.7 494.2,304.4 494.3,303.9 494.1,302.6 494.7,302.2 494.1,301.4 494.2,300.0 494.5,299.2 493.9,298.4 493.9,298.1 494.3,298.0 494.2,296.3 494.6,296.3 494.2,295.4 494.4,294.5 494.4,293.3 494.3,293.4 494.4,292.8 495.3,292.4 495.0,291.8 495.3,290.1 494.7,289.5 495.0,289.1 495.2,288.1 495.2,287.2 495.5,286.4 495.2,286.5 495.8,285.9 495.2,285.4 495.8,284.2 495.4,283.1 495.8,282.8 495.6,282.5 496.0,281.4 495.5,281.2 496.4,280.2 496.4,278.9 495.8,278.7 496.1,277.7 497.0,277.6 496.8,276.1 497.8,275.7 497.7,274.2 498.0,273.9 498.3,272.7 498.8,273.0 498.8,272.2 498.1,270.5 498.5,270.1 498.6,269.6 498.7,268.6 498.1,267.9 498.5,267.6 499.2,266.3 498.7,266.3 499.4,264.8 499.3,264.3 499.6,264.4 499.1,262.6 499.3,262.0 499.7,262.0 499.4,260.7 499.6,261.2 500.1,262.2 500.1,262.9 500.8,262.8 500.9,263.6 501.2,264.9 501.2,265.5 501.2,266.4 501.9,265.6 502.3,266.0 503.3,265.4 502.9,266.2 502.9,266.7 503.8,267.5 503.4,268.3 504.0,268.7 503.9,269.7 503.4,270.9 503.8,271.2 504.2,271.2 504.6,273.1 504.5,272.9 504.3,274.1 504.8,275.2 504.9,275.8 504.7,276.1 505.9,276.8 506.1,277.3 506.4,278.6 506.4,278.9 507.0,279.5 507.6,280.1 507.3,281.6 508.0,281.6 507.2,282.4 508.0,282.7 507.9,284.0 508.3,283.8 508.0,285.5 508.3,286.4 507.5,287.2 508.2,286.6 508.1,288.6 508.1,288.4 507.7,289.4 508.2,290.4 508.3,290.3 508.7,290.8 508.8,292.0 508.3,293.5 508.3,294.1 508.3,294.2 509.1,294.2 508.6,295.4 508.6,296.1 509.2,297.3 508.8,298.2 508.5,297.9 508.7,299.8 508.6,300.5 509.1,300.7 509.2,301.4 509.5,302.6 509.2,303.3 509.4,302.8 509.4,304.1 509.1,305.0 509.1,305.3 509.2,306.1 509.3,306.9 509.7,307.8 509.9,307.9 509.4,309.8 509.7,309.2 509.9,310.9 509.7,310.8 510.6,311.8 510.5,312.4 510.4,313.7 510.8,314.9 510.0,314.7 510.2,315.5 510.5,316.7 510.2,317.8 510.8,318.4 510.6,318.8 511.1,318.8 511.5,319.4 511.2,320.4 511.7,321.0 512.0,322.6 512.2,323.4 511.9,323.7 511.7,323.7 511.9,324.4 512.6,325.2 512.5,326.4 512.8,326.9 512.6,327.5 512.5,328.8 513.1,329.8 512.5,330.4 513.5,331.0 513.5,331.4 513.5,332.8 513.5,332.8 513.4,334.4 513.4,334.9 514.0,335.1 514.4,335.6 514.4,336.3 514.5,335.7 514.5,334.6 515.5,335.2 514.7,333.1 515.5,332.7 515.6,332.3 516.2,331.7 516.4,331.1 516.3,330.1 516.6,331.4 517.8,331.2 518.0,331.5 518.0,330.8 518.5,329.8 518.8,329.1 518.9,328.6 518.0,327.6 519.0,326.8 519.2,326.1 519.3,326.0 518.5,324.4 518.6,324.5 518.7,324.1 519.5,322.9 519.5,322.2 519.0,321.2 519.3,320.6 519.5,319.6 520.0,318.9 519.1,318.4 519.4,318.5 519.8,317.4 520.0,317.0 520.2,316.4 520.2,315.3 519.7,316.6 520.5,316.2 520.9,317.1 520.5,318.8 521.5,319.0 521.5,318.7 521.9,320.0 522.2,321.2 522.0,321.7 522.1,321.1 522.5,320.4 521.8,319.5 522.3,318.1 521.6,317.5 521.7,316.6 522.5,317.1 522.0,316.0 521.8,315.1 522.0,314.1 522.7,313.2 522.6,312.9 522.9,313.1 522.2,311.5 522.5,310.3 522.2,309.7 523.1,310.1 522.3,308.3 523.3,307.9 523.0,306.8 523.2,307.2 523.0,305.6 523.1,305.5 522.6,304.5 523.1,304.1 523.1,303.4 523.2,301.9 523.1,302.3 523.1,301.2 523.6,300.6 523.7,300.1 524.1,299.8 523.7,298.2 523.9,297.0 524.6,297.3 524.3,295.6 524.6,295.6 524.9,295.2 524.5,294.4 525.2,293.0 525.0,292.9 525.4,292.2 525.5,291.6 525.6,290.2 525.0,289.6 524.9,288.8 525.8,288.8 525.6,287.7 525.2,287.4 526.0,286.8 526.2,285.9 525.5,285.2 525.5,284.4 526.0,283.0 526.6,282.2 526.5,281.8 526.8,281.7 526.9,281.0 526.0,279.9 526.9,279.6 527.1,279.1 526.5,277.8 527.0,276.8 526.7,276.6 526.5,275.4 526.8,275.1 526.7,273.9 527.4,273.9 526.8,272.9 527.5,272.3 526.9,272.2 527.2,271.3 527.6,270.1 527.6,269.8 528.1,269.4 528.1,268.6 528.1,266.8 527.7,266.1 528.3,265.5 528.3,264.7 527.9,265.0 528.3,263.6 528.0,262.8 527.8,262.2 528.0,262.3 528.4,261.7 528.5,260.2 528.5,259.5 528.7,261.0 528.4,260.8 528.8,261.7 529.5,262.1 530.0,263.7 529.4,263.9 529.4,264.7 530.0,265.0 530.6,265.2 530.5,264.2 530.5,263.6 530.5,262.4 530.3,262.1 530.5,261.3 531.2,260.6 530.6,259.4 530.4,259.3 531.4,258.4 530.7,257.4 530.9,257.1 531.0,256.3 531.2,255.2 531.6,253.8 531.8,253.4 532.0,252.5 531.8,252.1 531.7,251.4 532.1,251.6 532.1,253.4 532.1,253.3 532.2,254.0 532.5,255.2 532.9,255.2 533.5,256.2 532.8,257.3 533.8,257.6 533.8,258.3 533.8,259.1 533.8,258.8 534.1,256.9 534.4,257.3 534.4,256.4 534.4,254.8 534.2,254.4 534.5,253.6 534.9,253.7 534.8,252.0 535.0,251.5 535.6,250.6 536.6,251.1 536.2,250.9 536.7,251.8 536.6,253.3 537.2,253.4 537.2,254.2 536.8,255.1 536.6,256.4 537.5,256.1 537.6,257.2 536.9,258.7 536.6,258.5 537.5,259.7 537.6,260.8 537.5,261.4 537.0,261.2 537.7,262.5 537.7,263.7 537.6,263.9 537.4,264.6 537.6,265.4 538.0,266.6 537.7,266.0 537.2,267.7 538.3,268.3 537.4,269.2 537.7,269.0 538.4,270.2 538.5,271.6 537.8,271.6 538.1,271.8 537.9,273.9 538.3,273.8 538.1,274.9 538.1,275.6 538.7,275.5 539.1,277.1 538.6,276.9 538.7,278.8 538.9,279.4 539.3,279.5 538.6,280.2 539.2,281.4 539.5,282.2 539.6,283.1 539.5,283.5 539.4,284.2 539.9,284.8 539.3,285.7 539.5,286.8 539.6,286.3 539.7,287.1 539.3,288.5 539.4,289.2 540.3,289.5 540.0,289.9 540.3,291.7 540.6,291.9 540.0,291.9 540.0,293.3 540.6,293.8 540.1,294.8 539.9,295.4 541.0,296.6 540.4,297.0 540.5,297.1 540.5,298.7 541.0,299.0 541.0,300.3 540.9,300.9 541.0,301.5 541.5,301.3 540.7,301.9 541.7,302.8 541.4,304.1 541.9,304.1 541.1,305.8 542.0,305.9 541.9,307.2 541.2,307.2 542.3,308.9 541.9,309.1 542.2,309.2 541.6,310.6 541.8,310.5 541.9,312.0 542.6,312.4 542.6,313.8 542.6,314.0 543.2,313.4 543.5,313.1 543.6,312.5 544.4,311.5 544.4,311.6 545.2,312.6 544.5,314.2 545.2,314.8 545.1,315.4 545.6,315.5 545.9,316.1 545.8,316.6 546.2,317.2 546.5,318.6 546.1,319.2 546.8,319.4 546.9,319.8 546.5,321.6 546.8,322.1 546.8,323.0 547.0,323.7 546.9,323.9 547.8,324.0 547.4,325.5 547.6,326.4 547.5,326.0 547.6,327.9 548.3,328.7 547.4,329.0 547.8,329.1 547.6,330.8 547.9,330.3 547.6,331.6 548.3,332.1 547.9,332.4 548.7,334.4 548.0,334.3 548.3,335.8 548.6,336.0 549.1,335.9 548.6,334.1 548.6,333.6 548.7,332.8 548.7,331.8 548.5,331.2 548.7,330.3 548.9,330.5 549.3,329.7 548.8,329.0 549.3,328.0 549.8,327.9 549.4,326.4 549.6,325.6 549.5,325.0 550.2,323.9 549.4,324.2 549.8,322.8 549.4,321.8 549.9,321.4 549.8,320.6 550.3,320.2 550.3,319.4 551.0,318.4 551.0,317.7 551.2,317.0 551.9,316.4 552.5,317.2 552.6,317.9 553.4,319.0 553.9,319.3 553.7,320.1 553.7,319.4 554.2,318.7 554.2,318.2 554.2,317.4 554.4,316.3 554.2,315.7 554.7,314.8 554.5,315.2 554.4,314.0 554.8,313.3 554.7,313.0 554.7,311.9 554.9,311.4 555.2,310.7 555.5,310.3 555.6,309.2 556.1,309.8 556.4,310.5 557.2,311.3 557.6,311.7 558.1,311.3 557.9,310.1 558.2,309.6 557.3,308.1 557.9,307.4 558.0,307.0 557.7,306.4 557.9,306.0 557.8,304.8 558.0,305.0 558.3,303.2 558.1,303.7 559.0,302.0 558.6,302.3 559.0,300.8 558.8,300.2 559.7,299.8 560.6,299.5 561.3,299.2 561.9,298.1 561.1,297.4 561.8,296.6 561.4,296.3 561.7,295.1 562.2,294.3 562.7,294.4 562.6,292.8 562.9,292.6 562.4,291.6 562.7,291.8 563.2,290.8 563.3,289.4 563.2,288.8 563.8,289.8 564.4,289.6 565.1,290.2 565.0,290.1 565.3,289.5 565.0,288.6 565.1,286.7 565.9,286.9 566.0,286.4 565.9,284.9 566.0,283.9 565.5,284.2 565.7,283.4 566.2,281.9 565.6,281.8 565.6,280.4 566.1,280.7 565.7,280.0 566.7,278.7 566.0,278.3 566.5,276.6 566.5,276.3 566.8,276.7 567.0,278.5 566.7,278.9 566.8,279.6 566.8,280.3 567.6,280.8 567.1,281.4 566.8,281.5 567.6,282.5 567.2,283.6 567.2,284.4 567.2,284.6 567.7,286.1 567.9,286.9 567.4,287.1 568.0,287.4 567.8,288.6 568.1,289.1 568.3,288.0 568.6,287.4 568.5,286.5 569.0,286.2 569.7,286.3 569.2,284.7 569.3,284.1 569.7,283.2 570.1,282.6 569.8,282.0 570.6,281.3 569.8,280.3 570.2,279.3 570.4,279.5 569.8,277.9 570.3,277.9 570.9,276.4 570.2,276.0 571.1,275.8 570.4,274.6 570.9,273.8 570.6,272.8 570.6,272.2 571.4,272.4 571.4,270.8 570.7,270.5 571.3,270.3 571.5,268.6 571.3,267.9 571.8,268.1 571.2,266.9 571.1,265.9 571.9,265.2 571.6,264.6 571.1,266.0 571.4,265.9 572.0,266.9 572.3,266.9 572.2,268.5 572.2,268.8 572.0,269.7 571.8,270.7 572.1,271.1 572.3,271.9 572.4,272.8 573.0,273.8 573.2,273.6 573.3,275.2 573.3,275.2 572.5,277.0 572.9,276.6 573.1,277.9 572.9,277.0 573.1,276.4 573.4,275.1 573.6,274.7 574.3,273.7 573.7,272.8 574.5,272.9 574.4,272.6 574.8,270.9 574.7,271.1 575.2,270.3 575.6,268.7 575.6,268.1 575.5,267.7 575.6,268.8 575.7,269.7 575.9,270.5 576.3,270.1 576.0,270.8 576.1,271.7 576.7,272.5 576.5,273.9 576.2,274.6 576.8,275.1 577.1,275.8 577.1,275.5 577.0,277.4 577.0,277.4 577.4,277.6 576.8,278.9 577.1,280.0 577.3,280.4 577.0,279.3 577.9,278.3 577.1,278.1 577.2,276.7 577.8,276.4 578.2,276.0 578.2,275.0 578.2,274.9 578.3,274.6 578.2,273.0 578.4,272.6 578.7,271.8 578.3,271.7 578.4,270.1 578.6,270.2 579.1,269.7 578.9,268.3 579.0,269.0 579.5,269.1 579.2,270.5 579.2,270.9 579.7,271.4 579.9,272.5 579.5,272.9 579.7,273.9 580.1,274.4 580.5,274.9 580.2,275.9 580.1,276.5 580.3,277.3 580.6,278.1 580.6,278.9 580.9,279.2 580.6,280.3 580.6,280.0 581.0,279.1 581.6,278.9 582.0,278.0 582.3,277.1 582.5,278.3 583.1,278.8 583.3,279.7 582.9,279.7 583.2,281.5 583.8,281.6 583.5,282.6 583.6,282.7 584.4,284.3 583.9,285.2 584.5,285.3 584.1,286.9 584.6,287.1 585.0,287.3 585.7,287.8 585.6,289.2 585.8,290.2 585.6,290.6 585.9,291.8 585.5,292.0 585.7,291.9 585.7,293.6 586.4,293.4 585.8,294.5 586.4,295.7 586.5,296.0 586.4,296.3 586.6,297.8 586.2,298.9 587.0,298.8 586.0,299.2 586.9,300.9 586.8,300.7 586.6,302.0 587.3,301.9 586.7,302.7 587.4,303.8 587.1,304.0 587.3,305.6 586.8,305.9 587.5,307.3 587.1,307.7 587.1,308.1 587.8,308.4 587.5,309.3 587.5,310.4 588.3,309.3 588.3,309.2 589.0,308.1 589.4,307.9 589.9,308.9 590.0,309.6 590.1,309.8 590.0,311.3 590.3,311.0 590.5,312.2 590.3,313.3 590.3,314.2 591.3,314.3 590.8,314.4 591.2,315.9 591.2,316.4 591.0,317.3 591.3,318.5 591.6,318.2 592.2,319.1 591.8,319.5 592.0,321.1 591.8,321.3 591.9,321.8 592.3,322.6 593.1,322.0 592.6,320.7 592.3,319.9 592.7,319.2 592.6,319.4 592.7,318.2 592.8,317.2 593.1,317.0 593.6,315.9 593.5,315.3 593.5,315.1 593.2,314.1 593.8,312.8 593.7,313.1 593.9,313.9 594.9,313.7 595.5,314.2 595.6,315.4 595.4,316.2 595.8,316.2 596.0,316.8 596.4,317.8 595.7,318.4 595.9,320.1 596.3,319.9 596.6,321.0 596.1,322.1 596.8,322.4 596.6,322.8 597.0,324.1 596.3,324.1 596.4,325.3 596.6,325.8 597.3,326.3 596.9,326.9 596.8,326.6 597.5,325.8 597.0,324.6 597.5,324.0 597.4,323.4 597.0,323.2 597.6,321.6 598.0,320.9 597.8,321.2 597.6,320.1 597.6,319.3 598.4,319.2 597.6,318.0 598.0,316.5 598.2,316.3 598.7,315.8 598.9,315.5 598.6,314.8 599.3,313.4 599.9,312.8 600.1,312.0 599.8,312.8 600.6,312.8 600.8,314.4 600.1,315.2 600.0,315.9 600.9,317.0 600.3,317.4 600.5,318.3 600.6,318.3 601.3,319.5 601.1,320.4 601.5,321.2 601.3,321.6 600.9,320.3 601.8,319.9 601.5,318.9 601.7,318.8 602.4,318.6 602.7,317.7 603.0,316.2 602.5,315.3 602.3,314.3 603.3,314.6 603.6,314.4 603.7,313.2 603.6,312.5 603.7,311.5 604.2,312.4 604.3,312.4 605.0,314.1 605.1,314.7 605.0,315.3 605.2,316.1 605.7,316.6 605.8,315.1 606.5,315.3 606.9,314.0 606.7,314.0 607.3,312.9 607.7,312.6 607.5,311.3 608.0,311.7 607.8,313.5 607.7,313.7 607.9,313.9 608.4,314.9 608.3,316.1 608.7,316.3 608.8,318.1 608.7,318.1 608.7,319.2 609.0,318.6 608.9,316.8 609.3,317.0 610.3,315.6 610.4,315.7 610.7,314.7 610.9,314.0 610.8,313.1 610.9,311.9 610.6,311.2 611.1,311.0 610.8,309.9 611.4,308.9 611.7,308.1 611.4,307.9 611.1,306.7 611.4,306.9 611.5,305.3 611.3,305.6 611.6,304.8 611.6,303.6 611.4,303.5 612.0,301.6 611.7,301.2 612.7,300.5 613.0,301.0 613.2,299.4 613.7,298.8 614.3,299.0 614.5,297.0 614.7,296.5 614.1,295.8 614.6,295.0 614.4,294.4 615.1,293.4 615.5,293.2 615.3,293.0 615.8,292.5 615.4,290.9 615.7,290.0 616.3,291.1 617.1,291.1 617.6,291.4 617.4,291.1 618.2,290.7 617.5,289.1 617.5,288.3 617.6,287.2 618.4,286.5 618.5,286.9 618.9,285.9 618.0,284.6 618.7,284.4 618.8,283.3 619.9,282.9 619.8,282.9 620.2,284.5 619.9,284.9 620.5,284.9 620.5,286.8 620.0,287.7 620.7,287.6 620.1,287.9 620.6,289.6 620.8,289.3 620.6,290.4 620.5,291.8 620.9,292.0 621.1,292.1 620.7,293.0 620.7,294.2 620.2,295.5 620.2,295.2 620.7,296.6 621.4,297.1 621.3,298.1 621.5,298.6 620.8,298.9 621.3,299.4 620.8,300.4 621.4,300.8 621.4,301.7 621.5,302.3 621.6,303.3 621.8,304.6 622.2,305.1 621.9,305.2 621.6,306.0 622.5,306.8 622.4,307.6 622.5,306.6 623.0,306.8 622.9,305.6 623.1,305.4 622.8,304.8 623.1,303.9 624.1,303.1 623.4,301.6 624.1,302.0 624.6,301.3 624.5,300.3 624.1,300.0 625.0,298.8 624.5,297.8 624.5,297.9 625.0,296.7 624.9,296.4 625.0,295.5 625.3,294.3 625.8,293.6 625.5,293.6 626.3,293.0 625.5,291.9 626.4,291.6 626.5,290.9 626.4,289.4 627.1,289.8 627.7,291.2 628.3,291.4 628.3,291.9 628.8,293.3 628.9,293.9 628.4,293.9 629.3,294.8 628.9,296.1 629.5,296.6 628.9,295.5 629.2,295.2 629.4,294.3 629.2,293.3 629.2,292.8 629.2,291.5 630.3,290.9 630.0,290.3 629.5,289.7 630.5,289.3 629.8,289.3 630.4,288.6 630.0,287.1 630.5,286.3 629.9,285.6 630.6,285.4 630.1,283.8 630.6,283.6 630.9,283.0 630.5,281.7 630.8,281.4 630.8,281.0 631.4,279.5 632.2,279.1 632.4,278.1 632.4,277.9 632.9,276.7 633.5,276.3 633.5,275.0 633.9,274.2 634.3,273.8 634.8,274.0 634.5,275.5 634.8,275.5 634.5,277.1 634.6,277.8 635.3,277.9 635.1,279.5 635.2,279.8 635.2,280.9 635.5,280.9 635.0,282.5 635.1,282.5 635.1,283.1 635.4,283.8 635.8,285.2 635.8,285.8 635.4,286.6 635.5,286.4 636.4,287.1 636.7,287.6 636.5,288.2 637.0,289.0 636.8,290.3 637.2,291.5 637.3,292.1 637.5,292.5 638.8,292.5 638.9,293.8 638.9,294.4 638.4,295.3 639.0,296.5 639.4,296.6 638.7,297.0 638.7,298.8 639.0,299.3 639.8,299.4 639.3,300.4 639.2,300.7 640.0,302.5 639.9,302.0 639.5,302.9 639.9,303.9 639.7,302.5 639.5,301.8 640.3,302.1 640.3,301.8 640.0,300.8 640.6,299.7 640.8,298.3 640.8,298.6 640.7,298.0 641.1,296.8 641.3,296.6 641.4,295.3 641.7,296.2 641.9,297.3 642.2,297.9 641.3,298.5 641.6,298.6 642.4,299.4 642.6,300.0 642.6,301.6 641.9,301.9 642.5,302.0 642.4,303.1 642.0,304.4 642.7,305.2 642.7,306.1 643.2,306.8 643.0,307.4 643.3,307.6 642.6,308.8 643.1,308.7 643.4,309.4 644.2,309.6 644.4,310.8 644.9,311.8 645.3,311.5 644.8,310.6 645.9,309.2 645.8,309.1 646.0,307.9 646.2,307.0 646.0,306.8 646.5,306.4 647.0,305.1 646.6,304.7 647.1,304.3 647.2,303.5 647.2,303.1 646.7,301.8 647.6,301.1 646.8,300.3 647.4,300.2 647.3,298.4 647.2,297.6 646.9,297.6 647.4,296.4 647.9,296.4 648.1,296.0 647.2,294.7 647.5,294.0 648.1,293.6 647.6,291.9 647.5,292.4 647.5,291.7 647.8,290.9 647.9,289.8 648.0,288.8 648.5,288.3 648.7,286.8 649.2,287.1 650.1,286.5 650.7,286.4 650.0,287.7 650.8,289.1 650.7,289.7 650.9,290.7 651.1,290.8 652.0,291.6 652.2,291.0 651.8,290.4 652.2,289.2 652.4,289.3 652.5,287.8 652.1,287.9 652.0,286.9 653.0,286.2 652.9,285.3 653.1,286.0 652.6,286.5 653.1,286.9 653.0,288.7 653.4,288.9 652.7,289.0 653.3,291.0 653.2,291.4 653.8,291.7 653.4,292.3 653.7,292.9 653.9,294.0 653.8,293.5 654.6,293.0 654.5,291.6 655.5,291.8 655.4,290.2 655.7,290.2 655.9,289.1 655.5,287.9 656.2,287.4 655.9,286.5 656.2,285.6 656.5,284.8 655.9,283.9 655.9,283.9 655.8,282.7 655.9,282.2 656.6,281.9 655.9,280.7 655.8,279.4 656.4,279.3 656.1,279.1 656.5,277.7 656.9,277.5 657.6,277.2 657.6,276.1 657.5,274.4 657.7,274.4 658.2,273.9 658.7,272.5 659.0,271.6 659.0,271.6 658.9,270.2 659.6,270.4 659.7,268.9 659.9,268.0 659.2,267.8 659.1,267.3 660.1,265.8 659.9,265.2 660.0,265.3 659.9,263.7 660.7,263.1 661.3,262.9 661.9,263.0 661.6,264.1 661.2,264.5 661.6,265.5 661.6,266.9 661.8,266.9 662.0,268.0 662.4,267.6 662.6,269.2 662.6,267.8 663.1,267.8 663.1,267.2 663.2,266.5 663.3,265.7 663.1,265.2 662.8,263.7 663.2,263.4 663.1,262.0 663.2,261.6 663.4,261.6 663.8,260.8 663.4,259.4 662.9,258.8 663.7,258.9 663.0,258.0 663.0,256.4 664.0,256.0 663.3,255.5 663.8,255.2 663.7,254.1 663.8,253.6 664.1,252.6 663.6,252.2 664.2,250.9 664.0,250.1 664.0,250.0 665.1,249.5 665.1,248.7 664.6,246.8 665.0,246.5 665.0,245.2 665.5,244.8 665.5,243.7 665.1,243.5 665.5,242.2 666.0,242.2 665.9,241.7 666.1,241.2 666.2,239.6 666.3,239.3 665.7,238.2 665.6,237.3 666.1,236.3 665.8,236.3 666.0,235.2 666.5,234.6 666.3,233.8 666.4,235.3 666.6,234.7 666.1,236.3 666.5,236.4 666.5,237.1 666.2,238.7 666.7,239.3 666.1,239.1 666.2,239.8 667.0,241.3 666.1,241.5 666.3,242.7 666.3,242.6 666.9,244.1 666.1,245.0 667.0,245.4 667.1,246.6 666.9,246.4 666.3,246.9 666.8,248.5 666.6,249.3 666.4,250.1 666.3,249.9 666.2,251.3 666.9,251.9 666.7,252.2 666.2,252.7 666.2,253.9 666.5,254.2 666.3,254.9 667.0,256.4 666.4,256.9 666.8,257.6 666.6,258.0 666.9,259.2 666.9,259.1 667.3,259.4 666.4,260.2 666.3,262.0 666.6,261.5 667.0,262.6 666.9,263.4 666.8,264.6 666.5,265.4 666.9,266.0 666.8,266.2 666.5,266.8 666.7,267.8 666.4,268.2 667.0,268.7 667.3,269.9 666.3,270.9 666.5,271.2 667.0,271.6 667.1,273.3 667.0,273.8 667.2,273.8 666.6,274.6 666.5,275.4 666.4,276.5 666.7,277.3 667.4,277.2 666.5,277.6 666.7,279.0 667.1,278.0 667.5,277.3 667.9,276.5 668.5,276.6 667.9,275.9 668.3,274.1 668.6,273.7 668.5,272.9 669.0,272.2 669.5,272.2 668.6,271.1 669.1,269.9 669.4,270.3 668.9,269.7 669.2,267.9 669.3,268.1 670.1,267.6 670.2,266.4 669.5,265.9 670.1,265.1 670.4,264.5 669.9,263.7 670.2,262.6 670.7,263.1 670.7,264.1 670.8,265.1 671.1,265.4 671.1,266.9 671.4,266.4 671.1,267.5 671.4,268.3 671.5,269.0 671.3,269.4 672.0,271.1 671.7,271.0 672.2,272.4 671.8,273.0 671.5,273.9 672.5,274.3 671.9,275.5 672.4,275.4 672.2,276.9 672.5,277.6 672.3,278.1 673.0,277.8 672.6,278.9 672.7,280.5 673.2,280.7 672.7,280.9 673.2,281.9 673.6,283.1 673.6,283.5 673.3,282.9 673.7,282.5 674.3,281.9 674.0,280.2 674.6,280.2 674.0,279.6 674.8,278.3 674.8,277.4 674.0,276.8 675.1,276.0 675.0,275.1 675.1,275.1 674.9,273.7 675.3,272.5 676.1,272.9 677.0,272.9 677.1,272.0 676.7,271.8 677.2,270.3 677.1,269.7 677.4,268.9 678.3,268.1 678.1,268.5 678.1,267.1 678.3,268.3 678.8,268.1 678.6,269.4 679.0,270.3 679.1,271.2 679.1,271.3 679.0,272.5 680.0,272.5 679.6,273.7 679.9,273.8 680.1,273.0 680.6,271.9 679.8,271.8 680.5,270.6 680.9,271.0 680.3,269.7 680.7,269.1 680.6,268.3 681.2,267.9 680.8,267.5 681.1,265.8 680.7,265.7 681.8,264.7 681.9,264.3 681.5,263.2 681.9,263.7 681.3,264.6 681.6,265.1 682.0,265.9 681.5,267.6 682.5,267.7 682.1,267.7 682.7,268.6 682.3,270.1 682.7,269.8 682.9,271.0 682.5,272.4 682.4,271.8 683.3,273.0 682.6,274.4 682.9,274.1 683.1,275.4 684.1,274.3 685.0,275.1 684.8,276.4 686.0,276.1 686.3,276.8 686.1,277.5 685.9,278.4 686.6,279.8 686.9,279.9 687.8,279.9 688.7,280.5 688.5,281.2 689.2,281.7 689.6,281.9 689.7,282.6 689.4,283.1 689.3,284.0 690.2,285.3 690.3,286.4 690.1,286.4 690.2,286.6 690.4,288.0 690.2,288.3 690.6,289.6 690.5,290.0 690.1,290.6 691.0,291.1 690.3,292.2 690.8,293.5 690.2,294.1 691.0,294.7 691.0,295.4 690.3,296.4 691.3,296.5 691.2,296.5 690.6,297.5 690.5,298.8 690.7,299.2 691.2,299.5 691.0,301.1 690.6,301.8 691.2,301.5 691.7,303.2 691.2,303.6 690.8,304.0 691.5,304.4 691.0,306.3 691.6,306.8 691.4,307.2 692.1,306.6 691.9,305.5 692.0,305.1 692.3,304.0 693.0,303.2 692.4,303.1 692.5,301.9 693.0,301.5 693.1,300.3 693.6,299.4 693.5,298.8 694.1,298.9 694.1,297.6 694.5,297.2 694.3,296.1 694.4,295.7 694.1,294.3 694.3,294.5 695.0,292.9 694.9,292.7 694.6,293.9 695.3,294.4 695.6,294.4 695.7,295.0 695.7,295.9 695.7,297.1 695.6,297.3 695.9,299.1 695.5,299.1 696.6,299.4 696.0,300.0 696.1,301.0 696.1,301.7 696.5,302.6 697.6,302.6 698.0,304.0 698.4,305.4 698.6,305.7 698.1,306.6 699.1,306.3 698.8,307.7 698.8,308.2 699.7,309.0 699.6,309.2 699.1,310.9 699.9,311.2 699.7,311.7 699.9,312.9 700.8,313.1 700.7,314.8 701.5,315.1 701.8,315.0 702.4,315.1 702.5,313.3 703.0,313.4 702.4,312.6 702.5,312.2 703.1,310.8 703.2,310.7 703.9,309.9 703.8,309.1 703.5,307.9 704.3,308.1 704.3,306.8 703.7,305.4 704.6,305.2 703.7,304.6 703.8,303.8 704.0,302.7 704.1,303.0 704.9,302.3 704.2,300.7 705.1,299.8 704.6,299.1 705.3,298.8 704.9,297.8 705.1,297.7 705.1,296.6 705.1,295.3 705.7,295.5 705.0,294.8 705.7,293.3 705.2,293.3 705.7,291.6 705.7,291.1 706.2,291.4 706.1,290.2 706.0,288.8 706.1,288.9 706.4,287.8 706.1,287.4 706.1,287.9 706.8,288.7 706.5,289.2 706.3,289.9 706.4,290.9 706.5,291.7 706.5,292.6 707.0,292.8 707.3,294.0 707.0,294.6 707.3,294.7 706.7,296.3 707.0,296.9 707.7,297.1 707.1,298.3 706.7,298.2 707.0,299.4 707.8,300.2 708.0,300.6 707.5,301.4 708.2,300.4 707.7,299.6 708.9,299.8 708.3,297.7 708.9,297.6 709.4,298.9 709.0,299.9 709.6,300.2 709.5,300.3 709.5,302.0 709.4,301.9 709.5,303.5 709.6,304.4 709.7,304.2 710.1,305.0 710.4,304.3 711.0,304.3 711.3,302.6 711.3,302.6 711.5,301.7 711.1,302.3 711.3,303.6 712.3,304.0 712.0,304.0 711.7,305.3 712.5,305.1 712.0,306.1 712.5,307.0 711.8,307.8 711.9,308.2 712.2,308.8 711.9,310.5 713.0,310.8 712.5,311.7 712.5,311.7 712.2,312.4 712.6,313.6 713.2,314.1 713.3,314.6 713.3,315.8 713.1,316.4 713.5,315.9 714.3,315.3 715.0,315.1 715.5,315.4 715.3,317.3 715.1,318.0 716.0,317.7 715.5,319.4 715.4,319.6 715.6,320.9 716.3,321.7 715.9,321.6 716.5,323.1 716.6,323.1 717.0,323.9 716.8,325.4 717.8,325.4 717.5,327.0 717.9,326.9 718.8,327.8 719.4,327.8 718.8,329.7 719.8,329.3 719.9,330.1 720.2,331.1 720.4,332.1 720.7,331.9 720.3,330.6 720.9,330.7 720.5,328.8 720.3,328.7 720.4,328.4 721.0,327.3 720.4,326.6 721.5,325.9 721.5,325.1 720.8,324.9 721.4,323.4 721.1,322.7 721.4,322.5 721.7,321.9 721.5,320.4 721.9,320.0 721.5,319.3 722.2,318.2 722.2,318.4 721.5,318.0 722.0,316.4 722.7,316.8 722.4,315.6 722.9,314.4 722.5,314.1 722.9,314.4 723.3,315.1 723.4,316.2 723.8,316.8 723.4,317.6 723.9,318.7 724.4,319.0 724.7,319.9 725.3,320.9 725.5,321.5 725.1,322.2 726.4,322.6 726.2,323.4 726.6,322.1 726.5,321.9 726.5,321.8 727.4,321.1 727.1,319.5 727.6,318.7 727.6,318.4 727.7,318.3 727.8,317.7 727.7,316.5 728.5,316.6 729.2,317.8 729.8,318.5 730.1,318.9 730.6,318.5 731.1,317.6 731.1,316.2 732.0,316.5 732.6,317.6 732.6,317.4 733.3,317.7 733.8,318.8 734.3,318.9 734.6,317.4 734.3,316.4 734.2,316.5 734.9,315.9 734.6,315.1 735.1,314.1 735.2,314.7 735.5,315.6 735.8,315.5 735.9,317.2 735.4,317.9 735.4,318.0 736.4,318.9 736.7,319.9 736.2,320.8 736.5,320.8 736.4,320.2 737.2,319.8 736.5,318.7 736.4,317.4 737.0,317.3 736.9,316.5 737.1,315.3 737.0,315.1 737.5,314.6 737.7,313.8 737.8,313.8 737.2,312.5 738.0,312.4 737.8,311.6 738.4,310.9 738.4,309.4 738.0,308.9 738.4,307.8 738.5,307.3 738.1,306.7 738.3,306.4 739.0,305.3 738.6,305.0 739.0,303.6 739.3,303.9 739.5,302.4 739.1,302.1 739.1,300.3 739.3,300.1 739.6,299.4 739.8,298.9 740.3,298.6 740.5,296.8 740.6,297.2 740.4,296.1 740.3,295.7 740.4,293.9 741.1,293.4 741.3,293.4 741.3,292.1 740.8,291.8 740.8,290.6 741.4,290.1 741.5,289.0 741.9,288.4 742.0,288.2 742.0,286.9 742.9,286.7 743.1,286.6 743.2,285.4 743.2,284.6 743.8,284.4 743.9,282.9 743.9,282.3 744.0,281.7 744.0,281.2 744.7,280.6 744.8,279.6 744.9,279.1 744.9,278.7 745.6,277.8 745.8,277.1 746.1,276.6 746.3,275.8 746.3,275.2 746.4,274.3 746.4,273.3 746.6,272.8 746.7,271.8 746.7,271.4 747.0,270.5 746.9,269.7 746.9,269.0 747.1,268.1 747.2,267.3 747.4,266.8 747.4,265.8 747.5,265.0 747.5,264.5 747.7,263.6 747.6,262.8 747.8,262.2 747.8,261.4 747.9,260.7 748.0,259.9 748.0,259.2 748.1,258.4 748.2,257.7 748.2,256.9 748.3,256.3 748.4,255.5 748.5,254.8 748.6,254.0 748.6,253.3 748.7,252.6 748.7,251.8 748.8,251.1 748.9,250.4 748.9,249.7 749.0,249.0 749.0,248.2"/>
<polyline class="c" stroke-width="2.0" points="749.0,248.2 749.1,247.5 750.1,237.2 751.1,220.0 751.9,203.8 752.8,177.5 753.8,160.0 755.0,133.1 755.9,133.8 756.2,177.5 756.8,220.0 757.2,240.6 758.0,259.9 759.0,275.0 760.1,282.2 761.1,282.9 775.0,284.2 820.0,286.9 888.5,291.0 927.5,294.0 950.0,296.2 978.5,299.2 1552.0,299.2"/>
<rect class="s" x="224.0" y="80.0" width="1328.0" height="439.0"/>
<line class="s" x1="224" y1="519.0" x2="224" y2="527.0"/>
<text x="224" y="535.1" font-size="1.6" text-anchor="middle">0</text>
<line class="s" x1="445" y1="519.0" x2="445" y2="527.0"/>
<text x="445" y="535.1" font-size="1.6" text-anchor="middle">50</text>
<line class="s" x1="667" y1="519.0" x2="667" y2="527.0"/>
<text x="667" y="535.1" font-size="1.6" text-anchor="middle">100</text>
<line class="s" x1="888" y1="519.0" x2="888" y2="527.0"/>
<text x="888" y="535.1" font-size="1.6" text-anchor="middle">150</text>
<line class="s" x1="1109" y1="519.0" x2="1109" y2="527.0"/>
<text x="1109" y="535.1" font-size="1.6" text-anchor="middle">200</text>
<line class="s" x1="1331" y1="519.0" x2="1331" y2="527.0"/>
<text x="1331" y="535.1" font-size="1.6" text-anchor="middle">250</text>
<line class="s" x1="1552" y1="519.0" x2="1552" y2="527.0"/>
<text x="1552" y="535.1" font-size="1.6" text-anchor="middle">300</text>
<line class="s" x1="216.0" y1="177" x2="224.0" y2="177"/>
<text x="208.4" y="197.5" font-size="53.3" text-anchor="end">50</text>
<line class="s" x1="216.0" y1="299" x2="224.0" y2="299"/>
<text x="209.5" y="320.7" font-size="53.3" text-anchor="end">0</text>
<line class="s" x1="216.0" y1="421" x2="224.0" y2="421"/>
<text x="208.4" y="442.1" font-size="53.3" text-anchor="end">50</text>
<text x="96.9" y="442.1" font-size="53.3">−</text>
<text x="1287.5" y="140.7" font-size="53.3" class="i">B</text>
<text x="1333.4" y="140.7" font-size="53.3">=</text>
<text x="1388.6" y="140.7" font-size="53.3">0</text>
<text x="1440.2" y="140.7" font-size="53.3" class="m">T</text>
<text transform="translate(74.8,427.4) rotate(-90)" font-size="53.3" class="i">E</text>
<text transform="translate(83.2,394.4) rotate(-90)" font-size="37.3" class="i">x</text>
<text transform="translate(74.8,353.7) rotate(-90)" font-size="53.3" class="m">[GV/m]</text>
</g>
<g id="p1">
<line class="g" x1="445.5" y1="979.0" x2="445.5" y2="541.0"/>
<line class="g" x1="667.5" y1="979.0" x2="667.5" y2="541.0"/>
<line class="g" x1="888.5" y1="979.0" x2="888.5" y2="541.0"/>
<line class="g" x1="1109.5" y1="979.0" x2="1109.5" y2="541.0"/>
<line class="g" x1="1331.5" y1="979.0" x2="1331.5" y2="541.0"/>
<line class="g" x1="224.0" y1="882.5" x2="1552.0" y2="882.5"/>
<line class="g" x1="224.0" y1="760.5" x2="1552.0" y2="760.5"/>
<line class="g" x1="224.0" y1="638.5" x2="1552.0" y2="638.5"/>
<polyline class="c" stroke-width="2.6" points="223.9,787.5 224.6,788.7 224.2,788.0 224.7,787.1 224.4,785.2 224.9,784.7 224.7,783.9 224.9,783.1 224.9,782.0 224.9,780.9 225.1,779.1 224.8,779.2 224.9,777.1 225.2,776.3 224.9,775.5 225.2,774.3 224.8,773.5 225.3,772.7 224.9,771.6 224.9,770.5 224.7,769.6 225.5,769.0 224.9,767.5 225.3,766.2 225.2,765.2 225.5,764.8 225.2,763.2 224.9,762.7 225.4,761.1 225.0,760.5 225.6,759.0 225.7,758.7 225.1,757.6 225.3,756.0 225.9,755.7 225.7,754.5 225.5,754.0 225.7,752.6 226.1,751.1 225.9,750.9 226.2,749.7 226.3,747.8 226.7,747.3 226.7,746.0 226.8,745.5 227.1,744.7 227.1,743.3 227.2,744.4 227.6,745.5 227.7,745.7 227.8,747.7 227.8,747.7 227.2,749.6 227.7,750.3 228.0,751.8 227.3,752.6 227.9,753.5 227.6,754.1 228.1,755.3 227.9,756.7 227.9,757.4 227.7,758.1 228.3,759.0 228.3,760.2 228.5,761.2 228.1,762.4 228.4,764.0 228.2,764.0 227.9,765.3 228.4,766.2 228.3,767.9 228.6,768.4 228.7,769.8 228.8,771.0 228.9,771.3 229.0,772.9 228.4,773.4 228.9,775.2 228.6,775.9 228.9,777.1 228.6,778.1 229.0,778.7 229.4,777.7 228.9,776.3 228.9,775.3 229.6,774.4 229.7,774.2 229.5,772.3 229.0,771.6 229.1,770.1 229.2,769.3 229.8,769.1 229.7,768.1 229.6,766.4 229.9,766.0 229.5,764.4 229.9,763.1 229.8,762.8 229.8,761.5 229.8,760.2 230.3,759.3 230.2,758.9 230.4,757.5 230.0,756.0 230.6,755.2 230.4,753.9 230.2,753.0 230.6,752.8 230.5,750.9 230.3,750.8 230.5,749.3 230.5,749.8 230.7,751.3 230.9,752.6 230.7,753.7 231.0,754.1 230.9,755.9 231.3,757.1 230.7,757.9 230.9,759.0 231.4,759.9 231.5,760.5 231.3,761.5 230.9,763.2 231.2,764.2 231.4,765.2 231.6,765.6 231.5,766.6 231.7,768.0 231.7,768.4 231.5,770.2 231.4,771.4 231.8,772.0 231.5,772.6 232.2,773.9 231.8,775.0 233.0,773.6 233.1,772.9 233.1,771.7 233.7,770.6 233.0,769.9 233.2,768.7 233.4,767.6 233.7,766.2 233.6,765.0 233.6,764.3 233.9,763.4 234.0,762.8 233.8,761.6 234.4,760.9 233.8,759.6 234.2,757.8 234.6,757.3 234.5,755.8 234.2,754.9 234.4,753.6 234.7,753.6 235.0,751.8 234.3,751.1 234.7,750.1 235.1,749.3 234.9,748.1 235.4,747.1 235.7,745.3 235.5,744.4 235.6,743.4 236.8,742.5 237.2,743.8 237.4,744.8 237.0,745.0 237.2,746.8 237.5,747.1 237.2,748.6 237.4,750.0 237.7,750.2 237.6,751.3 237.6,752.4 237.3,754.0 237.8,754.8 238.0,755.4 238.2,756.6 237.9,758.2 237.9,758.8 238.1,760.1 237.9,761.1 238.7,762.0 238.4,762.8 238.4,764.6 239.1,765.3 238.5,765.9 239.2,766.8 238.9,768.1 239.2,767.6 239.2,766.1 239.0,765.4 239.1,764.1 239.2,762.9 239.2,762.2 239.1,761.0 239.5,760.2 239.3,758.9 239.3,758.5 239.7,757.6 239.7,755.6 239.9,755.3 239.4,754.1 240.0,752.9 239.9,751.8 239.7,751.2 240.0,749.5 239.8,749.0 240.4,748.5 239.8,746.4 240.2,745.9 240.3,745.2 240.9,744.4 240.9,742.9 241.8,742.6 241.9,741.5 242.4,740.1 243.0,741.2 242.7,742.1 242.8,742.9 243.0,743.4 242.8,745.5 243.6,745.5 243.6,747.2 243.2,747.6 243.8,749.1 243.7,750.2 244.2,751.6 244.2,751.5 244.7,753.0 245.0,753.7 245.6,754.9 245.5,755.7 245.6,757.1 246.3,757.9 246.1,759.4 246.5,759.7 246.4,761.1 246.7,762.1 247.0,762.9 246.7,763.8 247.0,764.7 247.6,766.1 248.5,767.7 248.2,766.4 248.5,765.1 248.7,764.7 248.7,763.8 248.7,762.6 248.6,761.7 248.7,760.8 249.4,759.5 249.4,757.9 249.0,756.9 249.3,755.8 249.3,755.1 249.8,753.7 250.5,753.0 250.6,754.3 250.4,754.7 250.8,756.6 250.7,757.4 250.6,757.7 250.9,758.9 251.2,760.8 251.4,761.7 250.7,761.9 251.4,763.8 251.3,764.4 250.9,765.0 251.1,766.5 251.4,767.4 251.6,768.2 251.2,770.0 251.4,770.7 251.8,771.4 251.7,772.8 251.5,773.3 251.3,775.0 251.3,775.9 252.0,776.6 251.5,777.3 251.9,778.9 253.0,779.8 254.4,779.4 254.3,778.1 254.3,777.3 254.3,776.8 254.5,775.7 254.8,774.8 255.0,773.6 254.5,771.9 254.8,771.0 254.6,769.6 254.9,769.2 254.9,768.3 254.5,767.6 255.2,766.0 255.3,764.5 255.1,764.4 254.7,762.4 254.9,761.9 255.0,760.6 255.1,760.2 254.9,758.7 255.4,757.5 255.1,757.4 255.6,755.6 255.6,754.9 255.3,753.9 255.6,754.8 255.5,756.2 255.6,756.9 256.1,757.8 256.0,759.4 256.0,759.5 255.8,760.6 256.2,762.5 256.3,763.2 256.3,764.2 256.6,765.1 256.3,766.6 256.4,767.7 256.3,768.5 256.3,769.2 256.7,770.6 257.0,771.2 256.8,770.8 256.8,768.7 257.2,768.1 256.8,766.9 257.4,766.2 257.2,764.9 257.0,764.5 257.7,762.8 257.3,762.5 257.9,760.6 257.5,759.7 257.4,759.1 257.5,758.1 258.1,757.0 257.8,756.4 258.1,754.7 257.6,753.8 258.2,753.3 258.2,751.5 258.1,751.4 258.2,750.2 258.1,748.5 258.5,748.3 258.5,746.6 258.0,745.5 258.2,744.7 258.6,743.7 258.3,743.4 258.6,742.5 258.4,741.5 258.9,740.3 258.5,738.6 259.2,738.0 259.2,736.4 259.3,735.6 258.8,735.0 259.1,734.0 259.5,733.2 259.2,731.3 259.0,730.9 259.0,730.0 259.6,729.3 259.6,727.8 259.7,726.6 259.8,726.1 259.3,724.3 259.6,723.5 259.6,724.2 259.5,726.0 260.0,726.3 259.9,727.5 259.7,728.9 260.0,730.0 260.0,730.9 259.9,732.2 259.9,733.1 259.8,733.5 259.9,735.2 259.7,735.9 260.4,736.5 260.0,737.7 260.3,739.4 260.1,739.4 260.4,741.2 260.0,741.6 260.2,743.0 260.7,744.0 260.2,745.1 260.7,745.8 260.7,746.6 260.7,748.0 260.6,748.7 260.7,750.0 260.5,751.0 260.8,751.8 260.9,752.7 260.9,753.8 260.8,754.9 261.0,755.9 260.8,757.4 260.9,758.4 261.1,758.7 260.8,759.9 260.6,761.1 261.1,762.3 261.4,762.9 261.0,763.7 260.8,765.4 261.0,766.3 261.2,767.6 261.4,768.6 261.0,768.7 261.1,770.3 261.6,770.8 261.5,772.6 261.8,773.2 261.1,773.7 261.1,775.3 261.5,776.1 263.0,776.7 263.4,776.4 263.0,775.2 263.3,773.3 263.5,773.3 263.7,771.7 263.3,770.4 263.3,769.7 263.7,769.2 263.2,768.1 263.6,767.0 264.0,765.2 263.9,764.3 263.9,763.7 263.7,762.3 263.6,761.1 263.6,760.9 263.8,759.0 263.9,758.7 263.8,757.6 263.8,756.2 264.5,756.0 264.2,754.1 263.9,753.5 264.3,752.9 264.4,751.4 264.1,750.7 264.3,749.6 265.0,750.7 266.0,751.1 266.4,752.5 266.5,752.8 266.1,754.3 266.4,755.0 266.4,756.8 266.6,758.1 266.5,758.7 266.6,759.9 266.6,760.9 266.8,762.0 267.0,762.5 267.0,764.4 267.3,764.9 267.5,766.3 267.4,766.7 267.3,768.1 267.9,768.8 267.9,769.7 268.0,770.7 267.9,772.3 267.7,773.1 267.9,774.3 268.2,774.9 268.4,776.3 268.4,777.6 268.6,777.5 268.4,779.7 268.4,780.0 268.4,781.0 268.4,782.5 268.9,783.1 268.6,782.4 269.2,780.9 269.3,780.4 268.9,779.4 269.3,778.2 269.7,776.4 269.4,775.8 270.1,775.2 270.1,773.5 270.1,773.1 269.8,772.4 270.2,770.8 270.1,770.3 270.7,768.9 270.9,767.2 270.8,767.0 271.1,766.2 270.8,764.8 270.8,763.2 270.8,762.8 271.1,762.1 271.2,760.5 271.2,759.6 271.6,759.3 271.2,757.3 271.4,757.1 271.2,755.5 271.6,754.7 271.9,753.6 271.9,752.8 271.6,751.6 271.8,750.3 272.3,750.0 272.2,748.7 272.2,747.9 272.2,747.2 272.1,745.6 272.7,745.4 272.5,743.9 272.6,742.4 272.9,741.5 272.6,740.2 272.9,739.8 273.2,738.8 273.1,737.2 273.6,736.2 273.8,735.6 273.7,734.4 273.8,733.9 274.0,734.9 274.0,735.2 274.0,737.3 273.7,738.0 273.9,739.3 273.7,740.0 273.9,741.3 274.4,742.3 274.4,742.7 274.0,743.4 274.1,744.5 274.8,746.1 274.8,747.3 274.4,748.3 275.0,748.6 274.7,749.7 274.7,751.5 274.7,752.1 275.2,752.8 274.8,754.1 274.9,755.0 275.2,753.6 275.1,752.6 274.9,751.6 275.1,750.6 275.1,750.0 275.8,749.6 275.2,747.5 275.6,746.4 275.9,746.4 276.0,744.8 276.2,744.4 276.0,743.3 276.3,741.7 276.2,740.6 276.1,740.0 276.9,741.1 277.1,741.9 277.3,742.9 277.8,744.6 277.8,745.5 277.6,746.3 277.6,747.0 278.0,748.2 277.7,749.5 278.1,750.9 277.9,751.2 278.3,752.1 277.9,752.9 278.2,754.8 278.6,755.5 278.4,756.5 278.6,757.1 278.0,758.1 278.1,759.6 278.4,760.3 278.7,761.0 278.2,762.6 278.5,763.2 278.3,764.8 278.6,766.0 278.8,766.6 278.8,767.8 278.5,768.9 278.4,769.4 279.1,770.6 278.5,771.8 278.6,773.1 278.7,773.9 279.3,774.2 279.0,775.6 278.9,774.2 279.0,773.1 279.7,772.1 279.7,771.6 279.7,770.8 280.1,769.3 280.2,768.2 280.1,768.0 280.4,766.6 280.1,766.0 280.7,764.2 280.7,763.6 280.5,762.4 280.8,762.1 280.6,760.5 281.1,759.2 280.7,758.5 280.6,757.9 281.1,756.8 281.4,755.4 281.1,754.9 281.2,753.7 281.5,752.6 281.1,751.5 281.2,750.9 281.7,749.7 281.7,748.8 281.6,747.3 281.8,748.2 281.3,749.2 281.6,750.7 281.6,752.1 281.7,752.8 281.7,753.1 282.3,755.2 282.1,755.8 282.2,756.9 282.0,758.2 282.2,758.7 282.7,760.1 282.3,760.5 282.2,761.6 282.3,763.6 282.5,764.3 282.8,764.9 282.6,766.5 283.1,766.8 282.5,768.0 283.0,769.8 282.8,770.2 283.2,771.4 282.9,770.2 283.4,769.1 283.4,768.5 283.0,766.7 283.5,766.7 283.3,765.7 283.8,763.9 283.7,763.5 283.8,761.7 283.8,760.6 283.9,760.7 283.8,758.9 283.8,758.2 283.9,757.6 284.0,756.2 284.1,755.6 284.4,754.6 284.6,753.5 284.0,751.5 284.2,751.3 284.5,750.1 284.6,749.4 284.8,747.6 284.9,746.5 284.8,746.0 284.5,745.1 284.7,743.6 285.4,743.1 285.0,741.5 285.2,740.2 285.6,739.8 285.6,738.5 285.7,737.0 285.6,736.1 286.0,737.9 286.1,737.8 286.2,739.8 285.7,740.2 285.9,741.4 286.1,742.1 286.5,743.5 286.4,745.2 286.5,745.7 286.4,746.7 286.3,747.8 287.0,748.8 286.8,750.0 286.8,751.4 287.0,752.2 287.1,753.5 287.8,754.5 287.4,754.7 287.5,756.1 287.7,757.1 288.3,758.3 288.7,758.8 288.4,760.2 288.3,758.9 288.7,757.4 288.7,757.0 289.4,756.1 289.4,755.0 289.3,753.4 289.9,752.0 289.9,751.3 289.6,752.6 289.6,752.9 289.6,753.8 289.8,754.6 290.1,756.7 290.2,757.0 289.7,758.6 290.3,759.8 290.1,760.7 289.7,761.2 289.8,762.3 290.2,762.7 290.1,764.7 290.0,765.6 290.7,766.4 290.1,767.5 290.1,768.1 290.6,769.4 290.6,770.4 290.4,771.4 290.6,772.4 290.6,772.8 290.2,774.5 290.7,775.8 290.8,776.0 291.0,776.9 290.7,778.1 290.4,779.0 290.9,779.7 290.6,780.9 290.5,782.8 291.3,783.5 290.8,784.0 290.7,785.0 291.0,786.1 291.0,785.1 291.6,784.5 291.5,783.4 291.8,782.0 292.1,780.3 292.5,779.7 292.3,778.3 292.4,777.3 292.7,776.0 292.5,775.2 292.9,774.9 292.4,773.3 292.8,771.9 293.4,771.3 293.2,770.9 293.2,769.0 293.4,768.5 293.2,767.4 293.8,766.3 293.1,765.5 293.6,763.8 294.1,762.7 293.5,761.7 293.8,760.8 294.2,760.7 294.3,759.1 294.5,757.9 294.2,757.6 294.4,755.7 294.5,754.8 294.8,756.0 294.4,756.8 294.9,757.6 294.5,759.2 295.0,759.5 294.7,761.4 295.0,762.3 294.6,763.1 294.8,764.7 295.1,764.7 294.9,766.0 295.2,767.7 295.5,768.2 295.4,769.3 295.8,769.9 295.7,770.8 295.3,772.0 295.3,773.0 296.0,774.5 295.9,775.0 295.9,776.5 295.6,778.0 295.8,778.5 295.8,779.7 296.3,780.6 296.0,781.6 296.4,782.4 296.6,781.3 296.6,780.3 296.6,779.6 296.2,778.6 296.4,777.5 296.5,776.7 296.4,775.6 296.7,774.5 296.9,773.3 296.9,772.3 296.8,771.9 297.0,770.6 297.4,769.9 297.1,768.9 297.4,767.2 297.1,766.0 297.1,765.6 297.3,764.9 297.3,763.4 297.1,762.4 297.6,761.9 297.8,760.8 297.5,759.2 297.6,758.6 297.6,757.8 297.6,756.6 298.0,755.4 298.1,754.6 297.7,753.0 298.1,752.5 300.1,752.3 300.1,753.4 300.0,754.5 300.1,755.2 300.2,756.1 300.1,757.1 300.6,758.6 300.7,759.8 301.0,760.8 300.6,761.4 301.3,763.2 301.3,763.4 301.0,764.3 301.5,765.0 301.2,767.1 301.7,768.1 301.8,769.2 301.4,770.2 301.6,770.7 301.3,771.2 301.4,772.2 301.9,773.5 302.6,774.1 303.0,775.3 303.9,776.1 303.7,775.4 303.8,774.6 303.8,773.2 303.9,772.2 304.0,771.2 303.9,770.0 304.3,769.8 303.8,768.5 303.6,767.5 303.9,765.6 304.3,765.3 303.9,764.6 304.0,763.4 303.9,761.6 304.5,761.6 304.6,760.6 304.1,759.2 304.0,758.2 304.1,756.4 304.2,756.2 304.3,755.0 304.1,754.2 304.7,753.1 304.3,752.1 304.7,750.4 304.4,750.5 304.4,749.0 304.2,747.7 304.7,747.3 305.0,746.1 304.9,744.4 304.7,744.1 304.4,743.2 305.1,741.8 304.7,741.0 304.6,739.7 305.1,738.6 305.2,738.3 304.7,737.3 304.8,736.2 305.3,734.7 305.1,733.6 305.2,735.1 305.3,735.5 305.0,736.3 305.7,738.4 305.6,738.8 305.6,740.0 305.4,741.5 305.6,741.9 305.8,743.5 306.0,743.6 306.4,745.0 306.2,746.0 306.5,745.5 307.3,743.9 307.6,742.3 307.8,743.1 307.9,744.9 308.0,746.1 308.1,747.1 307.9,748.1 307.7,748.7 308.3,750.2 307.6,750.7 307.9,751.8 308.4,753.1 307.9,753.5 308.4,754.3 308.1,755.6 308.1,757.3 308.4,757.5 308.2,759.5 308.5,759.9 308.3,758.7 308.9,757.9 308.3,756.9 308.8,755.4 308.5,754.8 308.3,753.4 308.7,752.9 308.8,751.4 308.5,750.4 308.6,749.5 308.6,749.2 308.9,747.4 308.8,747.1 308.8,746.1 308.8,744.6 308.8,743.6 309.0,742.6 308.8,742.2 308.6,740.7 309.3,739.1 308.8,738.2 309.1,737.9 309.3,736.7 309.2,735.5 309.4,734.5 309.3,734.2 308.7,733.0 309.5,731.8 308.9,730.6 309.0,729.1 308.9,728.7 309.2,727.4 308.9,726.5 309.1,725.2 309.5,724.4 309.7,723.9 309.6,722.0 309.6,721.4 309.0,721.0 309.3,719.3 309.8,720.9 309.8,721.5 309.8,722.6 309.3,723.7 309.8,725.0 309.7,725.7 309.7,726.4 309.5,727.2 309.9,728.1 309.4,729.3 309.8,730.8 309.8,731.3 310.1,732.8 309.7,733.2 310.3,733.9 309.6,735.7 310.4,736.7 310.3,737.2 310.3,738.0 309.8,739.6 310.0,741.0 310.6,741.0 310.3,742.6 310.9,741.6 311.2,739.9 311.8,741.1 311.6,741.6 311.6,743.0 312.1,744.1 312.0,745.3 312.3,746.0 312.4,747.8 312.5,748.9 312.3,749.3 312.8,750.0 312.8,751.0 313.2,752.4 313.6,753.6 313.0,754.4 313.4,755.5 313.9,756.8 313.9,757.2 313.4,759.1 313.9,759.6 314.3,761.3 314.0,762.3 314.3,762.9 314.6,764.1 314.4,764.9 314.5,765.6 314.6,766.4 314.2,768.0 315.0,768.5 314.8,770.0 314.6,770.5 315.2,772.5 314.7,772.9 315.2,774.5 314.9,774.8 315.2,776.5 315.0,776.5 315.1,778.3 315.3,779.5 315.7,780.1 315.8,778.8 315.6,777.8 315.6,776.7 316.0,775.9 315.7,774.7 315.8,774.4 315.9,773.5 316.0,771.4 316.1,771.5 316.3,770.0 316.9,768.5 317.0,768.0 316.5,766.5 316.5,765.9 317.0,765.1 317.3,763.7 316.6,762.9 316.9,761.5 316.9,760.8 317.3,760.1 317.5,759.1 317.1,757.7 317.7,756.5 317.2,755.8 317.5,754.3 317.6,754.1 317.8,752.6 317.7,751.8 318.1,751.1 318.2,749.2 318.1,748.5 318.3,747.2 318.1,745.9 318.6,745.8 318.4,744.9 318.6,743.3 318.3,742.1 318.8,741.4 318.8,739.9 319.0,738.7 319.5,737.6 319.4,737.0 319.1,738.1 319.5,738.5 319.3,740.2 319.9,741.1 319.7,741.6 320.1,742.9 319.7,744.2 320.0,745.2 319.8,746.3 320.4,746.6 320.3,748.4 320.7,748.9 320.6,750.1 320.4,751.6 320.3,752.1 320.4,753.7 320.7,754.6 321.2,755.1 320.9,756.2 320.9,757.7 321.1,758.6 321.3,759.4 321.1,760.1 321.1,761.8 321.1,762.8 321.7,764.0 321.9,765.1 321.7,765.4 321.6,766.9 321.8,768.2 322.4,767.7 322.4,766.1 322.5,765.1 322.5,763.9 323.2,763.1 322.6,761.9 323.3,760.5 323.6,760.0 323.4,758.7 323.6,760.3 323.6,761.4 323.8,762.0 323.7,762.7 323.9,764.2 324.6,764.4 324.5,765.6 324.8,767.3 324.8,767.5 324.6,768.6 325.0,770.2 325.3,769.4 325.8,768.1 326.1,766.5 326.0,765.3 326.3,764.9 326.8,763.8 327.0,762.4 327.0,763.7 326.8,764.0 326.7,765.9 327.0,767.0 327.0,768.0 327.2,769.1 327.4,769.6 327.2,771.3 327.5,772.4 327.5,772.4 328.0,774.4 327.8,774.9 327.5,776.0 327.8,776.8 328.2,778.5 327.8,779.2 328.1,780.0 328.7,779.6 328.8,777.5 329.6,777.3 329.6,775.6 330.0,775.1 329.9,773.9 329.8,772.5 330.7,772.4 330.1,771.4 330.3,769.2 330.6,768.7 330.4,768.2 331.2,767.4 331.1,765.8 331.3,764.6 331.1,763.8 331.0,762.9 331.4,762.0 331.2,760.8 331.4,759.1 331.8,758.3 331.9,757.5 332.2,756.2 332.4,754.9 332.0,754.2 332.3,753.6 332.4,752.8 332.2,751.8 332.3,749.8 332.8,749.0 332.4,748.2 332.5,747.1 333.0,746.0 332.8,744.9 332.6,744.2 332.9,743.8 332.9,741.6 332.9,741.3 333.5,739.9 333.2,739.4 333.4,738.3 333.4,739.2 333.3,740.0 333.7,740.8 334.1,742.6 333.9,742.9 334.0,744.1 334.1,745.8 333.8,746.7 334.5,747.7 334.2,747.8 334.5,749.1 334.2,750.5 334.1,751.7 334.3,751.8 334.4,752.8 334.7,753.7 335.1,755.2 334.8,756.4 334.8,757.4 334.9,757.8 335.3,759.9 334.8,760.6 335.1,760.9 335.0,762.2 335.0,763.6 335.8,765.0 335.1,765.8 335.4,766.6 335.7,767.5 335.7,768.5 335.6,769.5 336.0,770.7 336.2,771.5 335.7,773.4 336.0,774.6 336.2,774.8 336.4,776.2 336.3,777.7 336.9,778.3 337.0,778.7 336.7,780.7 336.6,780.8 336.9,782.5 337.3,784.0 336.7,784.8 337.5,785.2 337.1,786.2 337.8,787.4 337.6,789.2 337.2,790.1 337.5,790.4 337.6,791.7 337.7,790.9 338.3,789.4 338.2,788.8 337.8,787.4 338.4,786.8 338.6,785.5 338.8,784.9 338.7,782.9 338.7,782.0 338.4,781.1 338.9,780.0 339.3,779.8 339.0,778.2 338.9,776.9 339.7,776.3 339.4,775.2 339.8,774.2 339.9,773.4 339.4,772.2 339.8,771.0 339.7,770.2 339.6,769.2 339.5,768.3 339.7,767.4 339.8,766.0 340.2,764.5 340.4,763.5 340.3,763.4 340.4,761.8 340.5,760.8 340.3,760.0 340.4,759.5 340.4,757.9 340.9,756.8 340.8,756.5 340.7,755.0 340.4,754.1 340.9,753.4 340.9,751.4 341.5,751.1 341.7,749.5 341.6,748.8 341.8,747.4 342.1,749.1 341.9,750.1 342.1,750.9 342.4,751.6 342.5,753.1 342.3,753.5 342.4,754.1 342.3,755.9 342.5,756.2 342.5,758.2 342.2,759.2 342.8,759.3 342.3,760.7 342.5,762.0 342.9,762.2 342.9,763.7 342.6,765.1 343.3,765.4 342.9,767.0 342.6,767.9 343.3,769.0 343.0,770.2 343.0,770.8 343.5,772.4 343.3,772.7 343.4,774.3 343.5,775.0 343.4,776.4 343.9,777.0 343.7,779.0 343.7,779.5 344.3,780.4 343.8,782.1 343.9,783.2 344.5,783.8 344.3,783.2 344.6,781.3 344.7,781.3 344.6,779.9 344.9,778.4 344.8,777.4 344.6,776.2 345.1,775.8 344.7,775.1 344.9,773.6 345.1,772.4 345.1,771.4 345.1,770.9 345.1,769.4 345.2,769.1 345.2,768.0 345.7,767.1 345.4,766.0 345.4,764.8 345.2,763.3 345.6,762.5 345.7,761.7 346.2,760.5 345.9,759.2 346.2,757.9 346.1,756.8 347.0,757.0 347.2,755.3 346.7,754.6 346.9,753.5 347.5,752.4 347.4,751.1 347.9,751.9 347.9,753.6 347.8,753.8 348.1,755.7 348.1,756.6 348.1,757.3 348.4,758.3 348.2,760.1 348.4,761.2 348.4,761.2 348.5,762.5 348.7,763.2 348.8,764.9 348.7,766.0 348.6,767.1 348.6,768.0 349.0,769.1 348.5,770.6 349.1,770.5 348.9,771.6 349.0,773.1 348.7,771.8 348.8,771.0 349.3,769.6 348.9,768.7 349.1,768.3 349.4,766.9 349.2,766.4 349.5,765.4 349.4,764.0 349.5,763.4 349.9,761.8 349.6,761.5 349.6,760.3 349.8,758.6 349.7,758.1 349.8,757.4 349.7,755.9 350.2,754.6 350.3,753.9 350.3,752.7 349.9,751.7 350.2,751.0 350.1,749.6 350.4,748.6 350.4,747.7 350.1,747.2 350.7,746.3 350.5,744.8 350.2,744.4 350.2,742.5 350.5,741.6 350.8,741.2 351.4,739.4 351.8,739.3 352.3,738.3 353.1,737.4 353.4,739.0 353.6,739.3 353.4,740.2 353.8,741.7 353.8,742.4 353.6,743.2 353.5,745.1 353.5,745.0 354.1,746.9 354.1,747.6 353.9,748.5 354.1,749.0 354.1,750.0 354.7,751.4 354.4,752.6 354.3,754.2 354.7,755.2 354.8,755.4 355.2,757.1 355.4,758.0 355.8,758.5 356.2,759.8 356.4,758.4 356.9,757.4 356.6,756.6 356.5,756.0 356.4,754.2 357.1,753.3 356.7,752.4 357.0,751.6 357.4,750.3 357.1,749.9 357.1,748.0 357.4,747.3 357.8,746.3 358.7,746.0 359.1,744.3 359.7,743.8 359.6,744.4 359.6,746.5 360.2,746.5 360.2,747.5 360.2,749.4 359.8,750.2 360.2,751.5 359.9,752.3 360.3,752.8 360.3,754.1 360.7,755.5 360.9,756.6 360.8,756.9 361.1,758.6 360.4,759.0 360.7,759.9 360.8,761.5 361.0,762.6 360.8,763.8 361.2,765.1 361.1,765.3 361.3,766.8 361.7,767.2 361.9,768.9 361.7,769.5 362.1,771.1 361.9,772.1 362.5,772.9 362.7,773.9 362.4,774.8 362.4,773.9 362.9,773.1 362.4,771.9 363.0,771.3 362.8,769.6 362.5,768.5 362.7,767.4 362.9,767.0 363.0,765.8 362.9,764.4 362.6,764.0 363.4,763.3 363.4,762.2 363.4,760.2 362.9,759.1 363.1,759.3 363.6,757.3 363.2,756.8 363.7,755.8 363.3,754.3 363.9,753.7 363.8,752.7 363.5,751.7 363.9,750.5 363.9,749.1 363.5,748.2 363.8,747.4 364.0,746.0 363.9,744.9 363.7,743.8 364.5,743.4 363.9,742.7 364.3,740.9 364.8,740.8 364.6,739.5 364.8,738.7 364.6,736.5 364.8,735.9 365.1,735.1 365.2,735.7 365.1,737.0 365.1,738.5 365.0,738.9 365.4,740.7 365.6,741.5 365.9,742.5 365.5,743.4 365.5,744.7 365.6,745.8 365.6,746.6 365.5,747.7 366.2,748.9 365.9,748.9 366.0,750.8 366.5,751.6 366.3,752.4 367.2,751.9 368.2,751.3 367.8,751.9 368.1,753.5 368.0,753.9 368.0,755.9 368.8,756.5 368.9,757.6 369.0,758.8 368.6,759.4 368.7,760.2 368.8,760.9 368.7,762.8 368.9,762.9 368.8,764.0 369.1,765.3 369.6,766.8 369.4,767.6 369.7,768.4 369.6,769.0 369.9,770.5 369.9,771.3 369.5,772.3 369.9,774.1 370.0,774.0 369.7,775.6 369.9,777.2 370.2,777.4 370.6,778.9 370.1,779.2 370.4,780.4 370.3,781.2 370.6,782.9 370.6,783.9 370.5,784.4 371.0,785.9 370.5,786.6 371.2,787.3 370.9,788.7 370.8,787.9 371.1,786.5 370.8,785.1 371.5,784.5 371.5,784.2 371.1,783.1 371.8,781.9 371.4,780.9 371.6,779.6 371.5,778.9 371.5,777.3 371.3,776.5 371.9,775.5 371.4,774.6 371.8,773.1 372.2,772.1 371.8,771.1 371.7,770.7 372.3,769.7 372.3,769.0 372.1,767.3 372.1,766.7 372.1,765.1 372.1,764.0 372.2,763.0 372.6,762.1 372.6,761.7 372.7,760.5 372.9,759.9 372.9,759.0 372.8,757.5 373.0,756.7 372.9,755.3 372.7,754.3 373.1,753.1 373.0,752.3 373.5,751.9 373.0,750.4 373.1,749.2 373.5,748.2 373.4,747.5 373.2,746.5 373.6,745.2 373.4,743.6 374.1,743.0 373.8,742.4 374.0,740.3 374.3,739.5 373.9,738.6 373.9,739.4 374.0,741.2 374.3,741.7 374.4,742.6 373.9,743.6 374.5,745.0 374.5,746.0 374.5,746.9 374.8,747.7 374.7,748.8 374.7,749.5 375.0,750.8 374.5,752.0 374.6,753.5 374.7,754.1 375.1,755.0 375.2,755.5 374.8,757.5 374.7,757.9 375.4,759.4 375.1,760.3 375.2,761.3 375.6,762.0 375.2,763.1 375.7,764.2 375.1,764.9 375.6,766.1 375.2,767.4 375.7,768.1 375.6,767.3 376.0,765.5 376.1,764.5 376.5,764.2 376.2,762.6 376.4,761.2 377.1,760.5 376.6,759.8 376.9,758.4 377.5,756.8 377.3,756.3 377.3,757.6 377.7,758.7 378.1,759.0 378.1,760.9 378.3,761.5 378.7,763.0 379.1,764.4 379.1,764.8 379.1,766.5 379.2,767.6 379.5,768.6 379.6,768.6 379.6,770.0 379.3,771.4 379.4,772.5 379.3,773.8 379.7,773.8 379.3,775.8 379.6,776.2 380.0,776.9 379.7,778.8 380.0,779.8 379.7,780.9 380.4,781.3 380.5,783.0 380.2,783.7 380.3,784.9 380.8,785.6 380.6,786.5 380.2,787.4 380.6,788.6 380.7,789.9 380.8,791.1 381.1,791.4 381.2,793.4 381.0,794.2 381.0,795.0 381.4,795.7 381.8,797.1 381.5,798.0 381.5,798.8 381.9,799.8 382.1,799.5 382.3,797.8 381.7,797.0 382.1,795.5 382.0,794.4 382.0,794.3 382.2,793.2 382.5,792.4 382.4,790.9 382.8,789.5 382.5,789.4 382.4,788.1 382.8,787.4 382.5,786.2 382.5,785.5 383.1,784.3 382.7,783.4 383.1,781.7 383.1,781.2 383.2,780.0 383.3,779.5 383.4,777.7 382.9,776.9 383.3,775.4 383.3,774.9 383.5,773.8 383.5,772.9 383.9,771.9 383.8,771.4 383.4,769.9 383.8,769.0 383.5,768.1 383.7,767.0 383.4,765.4 384.2,765.2 383.9,763.3 384.3,763.0 383.9,761.6 383.7,761.0 384.3,760.1 383.9,759.2 384.4,758.0 384.3,756.2 383.9,755.5 384.6,754.0 384.6,753.6 384.3,752.3 384.5,751.4 385.0,750.4 385.0,750.0 385.2,748.8 386.0,748.2 385.7,747.0 386.3,745.5 387.1,744.2 388.1,743.8 388.4,744.2 388.1,746.0 388.2,746.9 388.5,747.7 388.8,748.4 388.6,749.7 388.7,750.6 388.9,752.1 388.8,752.9 388.9,753.8 388.9,754.9 389.2,756.0 389.6,756.4 389.7,757.9 389.9,758.5 389.4,760.4 390.0,761.0 389.7,761.9 389.9,763.3 390.1,764.1 390.3,764.6 390.4,766.6 390.2,767.6 390.5,767.8 390.4,769.0 390.2,770.2 390.7,771.2 390.9,770.8 390.7,769.3 391.1,767.8 391.2,766.6 391.2,765.8 391.5,765.1 391.0,764.5 391.3,763.8 391.1,762.2 391.4,761.4 391.4,760.4 391.9,758.9 391.7,758.1 392.1,757.1 392.0,756.4 392.3,754.9 392.6,753.7 392.2,753.4 392.7,751.9 392.2,751.0 392.7,749.5 392.7,748.5 392.6,748.3 393.1,746.7 393.0,745.5 393.1,744.9 393.5,746.2 393.3,747.4 393.1,748.1 393.1,749.3 393.5,749.5 393.5,751.4 393.4,751.9 393.8,753.5 393.4,754.4 393.6,755.1 393.5,756.0 393.7,756.8 393.9,758.5 394.1,758.7 393.7,760.4 394.1,761.0 393.9,761.9 393.8,763.4 394.1,764.3 393.9,765.4 394.2,765.8 394.1,767.0 394.4,768.1 394.7,766.8 394.5,766.4 394.7,764.5 394.9,763.9 394.7,763.1 395.3,761.9 394.8,761.0 394.9,760.4 395.5,758.6 395.3,758.4 395.4,756.5 395.4,755.8 395.7,755.4 395.6,753.5 395.6,752.5 395.9,751.8 396.1,750.2 396.4,749.4 396.0,748.8 396.4,747.6 396.5,746.6 396.2,745.6 396.2,744.3 396.3,743.1 397.0,743.0 396.4,741.1 396.9,740.5 397.4,741.1 397.5,742.6 397.3,743.7 398.0,744.8 397.6,745.5 398.5,747.1 398.0,747.8 398.3,748.6 398.8,750.2 399.3,751.3 399.7,751.8 400.6,752.3 400.8,753.5 400.6,754.9 401.1,755.7 400.9,756.9 401.3,757.6 401.5,758.8 401.6,760.1 401.8,761.1 401.6,762.3 401.9,763.5 402.2,763.6 402.1,765.1 402.6,766.3 402.4,765.0 402.6,764.6 403.0,763.2 402.9,762.6 402.9,761.6 403.4,760.0 402.9,759.5 403.1,758.5 403.0,757.5 403.2,755.6 403.3,754.6 403.6,754.0 404.1,753.3 403.5,752.1 403.6,751.1 404.1,750.1 404.1,749.4 404.5,747.9 404.2,747.7 404.6,745.6 404.5,745.2 404.5,743.9 404.7,743.0 404.9,744.7 405.3,745.8 405.2,746.7 405.7,747.4 405.3,748.0 405.6,749.0 405.8,750.9 406.1,751.5 405.6,752.7 406.1,754.2 405.7,755.3 405.9,756.1 406.1,756.8 406.3,757.7 406.6,759.3 406.0,759.8 406.2,761.0 406.2,762.2 406.3,762.8 406.4,763.4 406.7,764.7 406.4,765.6 406.8,766.8 406.8,768.1 406.5,769.4 406.8,769.9 406.8,771.5 406.8,772.0 406.6,773.8 407.3,774.1 407.4,774.6 407.1,776.2 407.9,776.1 408.7,774.9 409.4,773.6 409.4,772.6 409.2,772.0 409.4,771.1 409.4,769.6 409.5,768.5 410.0,768.2 409.8,766.8 410.1,765.6 410.4,764.9 409.9,763.0 409.9,761.9 410.0,761.2 410.8,760.1 410.1,759.1 410.5,758.3 410.4,756.8 411.0,756.1 411.2,754.9 411.1,754.4 411.1,752.7 411.3,752.1 410.8,750.8 411.1,750.0 411.2,748.9 411.8,747.4 411.4,746.8 411.6,748.4 411.8,749.1 411.8,749.5 411.8,751.4 412.0,751.8 411.9,753.5 412.5,753.7 412.6,755.4 412.4,755.5 412.4,757.5 412.7,758.1 412.5,759.5 412.9,759.8 412.5,760.8 413.1,761.8 413.1,763.4 413.0,763.5 413.1,764.8 413.3,766.3 413.1,767.3 413.3,768.1 414.0,768.7 413.8,769.4 414.2,771.0 414.3,771.5 414.1,772.5 414.5,773.5 414.9,775.3 414.7,776.6 414.9,777.4 415.6,778.5 415.1,779.1 415.7,779.9 415.4,778.8 415.6,778.3 416.3,777.4 416.1,776.5 416.4,774.6 416.4,773.3 416.2,772.8 416.2,771.6 416.3,770.5 416.9,769.3 416.8,769.2 416.6,768.1 417.4,766.7 416.8,765.4 417.1,764.1 417.1,763.8 417.6,762.5 418.0,761.9 417.5,760.1 418.0,759.3 417.9,758.5 418.7,757.3 418.4,755.9 418.8,755.5 418.7,754.5 419.2,753.2 419.5,752.5 419.6,751.8 419.9,750.3 420.0,749.5 420.0,748.0 420.0,747.7 421.3,747.4 421.0,748.8 421.0,749.6 421.6,750.6 421.3,752.0 421.6,752.4 421.9,753.3 421.6,755.0 421.6,755.7 421.5,756.5 421.9,757.2 422.1,758.0 422.2,759.2 422.1,760.5 422.1,761.4 422.3,762.4 421.9,763.9 422.5,764.8 422.0,765.6 422.6,766.6 422.6,767.4 422.4,768.2 422.8,770.1 422.3,770.1 422.3,771.6 422.3,773.0 422.5,773.5 422.7,774.0 422.9,775.2 422.8,776.7 422.5,778.1 422.7,778.6 422.6,779.9 422.7,780.5 422.6,781.7 422.9,782.8 423.3,783.5 423.4,785.1 422.7,785.2 422.7,786.2 422.9,787.9 423.4,788.3 423.3,789.4 423.2,790.6 423.1,791.3 423.4,793.1 423.2,793.4 423.6,794.8 423.3,795.1 423.2,796.7 423.4,797.9 423.7,798.4 423.4,799.9 423.5,800.5 423.9,799.1 423.5,798.9 423.7,797.2 424.3,796.2 423.7,795.1 424.4,794.7 424.4,793.1 424.4,791.9 424.1,791.4 424.7,790.8 424.9,788.8 424.7,787.9 425.0,787.5 424.9,786.1 424.8,784.8 425.2,784.5 425.2,783.1 425.0,782.7 425.1,780.6 425.6,780.0 425.1,779.8 425.0,777.8 425.7,777.2 425.5,776.4 425.3,774.8 425.4,773.9 425.9,773.2 425.9,771.8 425.5,770.7 425.7,769.9 425.4,769.5 425.6,767.7 426.1,766.5 425.6,765.6 425.4,764.9 426.1,764.7 425.8,762.9 425.7,762.5 426.4,761.2 426.4,760.0 426.0,759.4 426.4,758.0 426.5,756.7 425.8,755.5 426.4,755.0 425.9,753.5 426.4,752.9 426.5,752.1 426.2,751.0 426.8,749.4 426.2,749.4 426.4,747.6 426.9,746.9 426.5,746.3 427.0,744.9 426.3,744.4 426.6,742.6 426.8,742.1 426.7,741.2 426.5,739.8 426.9,739.0 426.9,737.7 426.6,737.4 426.8,735.8 427.1,734.6 426.9,733.8 426.9,732.9 426.9,732.4 427.2,730.9 427.2,729.9 427.9,729.0 428.6,728.2 428.8,728.9 428.7,730.4 428.9,731.2 428.8,731.9 428.8,733.2 429.2,734.2 429.3,735.5 429.3,737.0 429.5,737.1 429.3,738.6 429.3,739.2 429.1,740.8 429.9,741.4 429.7,743.0 429.8,743.6 429.8,745.0 430.1,745.6 430.2,747.5 430.2,748.2 430.0,749.1 430.3,749.8 430.2,750.6 430.0,751.7 430.4,752.6 430.5,754.1 430.5,755.5 431.0,756.0 430.9,757.6 430.9,758.3 430.7,759.0 430.9,760.1 431.0,761.0 431.2,762.3 431.3,763.3 431.2,764.6 431.2,763.9 431.4,762.4 431.2,761.6 431.3,760.6 431.6,759.2 431.9,758.0 431.8,757.1 431.5,755.8 431.7,755.4 431.9,753.7 432.1,753.2 432.1,751.9 432.2,750.7 431.8,749.7 431.8,748.6 432.3,747.9 431.9,747.1 432.4,745.5 432.4,745.1 432.6,744.1 433.5,742.6 433.5,743.1 433.7,744.0 433.5,745.4 434.1,746.3 434.1,747.9 434.6,749.0 434.2,749.4 434.8,750.9 434.3,751.6 434.6,753.5 435.1,753.8 435.0,755.0 435.5,756.2 435.7,757.5 435.2,758.3 435.7,759.1 435.5,760.8 435.6,761.3 435.8,762.1 436.2,762.8 436.4,764.2 436.7,765.9 437.0,766.3 436.9,767.3 437.0,768.4 436.8,770.2 437.4,770.4 437.6,771.1 437.6,772.9 437.1,774.0 437.1,774.6 437.6,776.3 437.5,777.0 437.5,777.6 437.6,778.5 437.9,780.5 437.5,780.9 437.8,782.0 437.5,783.5 438.1,784.0 437.7,785.2 438.1,786.1 438.5,786.9 438.4,788.7 438.0,789.9 438.3,790.6 438.7,791.4 438.4,793.1 438.7,794.0 439.1,794.7 438.9,796.2 439.1,796.4 439.4,797.8 439.2,798.9 439.4,799.9 439.4,798.7 439.9,798.6 439.5,797.5 439.8,795.5 439.7,795.5 439.6,793.7 439.8,792.8 440.0,791.6 440.1,790.5 440.4,789.8 440.0,788.4 440.4,788.2 440.6,786.5 440.2,786.4 440.4,784.9 440.8,783.7 440.2,783.6 440.9,782.5 440.4,781.0 440.6,779.8 440.7,778.8 440.9,778.1 441.2,777.4 440.8,775.4 440.7,774.8 441.4,774.1 441.2,772.2 441.4,771.2 441.5,770.6 441.5,769.7 441.5,768.4 441.9,767.5 441.6,766.6 442.0,766.0 441.7,764.7 441.9,763.5 442.2,762.7 442.4,760.9 442.4,760.2 442.7,759.1 442.4,758.4 442.6,757.3 442.5,756.8 442.5,754.7 442.5,754.8 443.0,753.6 443.0,752.5 442.7,751.0 442.6,749.5 443.0,749.7 442.9,747.7 443.3,746.8 443.4,745.7 443.1,745.0 442.8,743.5 443.2,742.8 443.0,741.9 443.7,741.5 443.4,739.5 443.4,739.4 443.6,737.6 444.0,736.5 443.9,735.5 443.9,734.3 443.6,733.3 443.9,732.8 444.3,731.8 444.5,730.0 444.0,729.1 444.0,728.4 444.4,727.6 444.4,726.1 444.8,725.3 444.4,723.9 445.0,723.4 445.0,722.5 445.4,720.7 444.9,720.0 445.7,719.0 445.6,718.2 445.7,716.7 446.1,718.4 445.8,719.4 445.9,720.6 446.3,721.4 446.3,722.2 446.8,722.5 447.0,723.9 446.9,725.0 446.9,725.5 447.1,726.6 447.4,728.0 446.8,728.9 447.2,730.2 447.3,730.9 447.2,732.5 447.0,733.1 447.4,733.5 446.8,735.4 447.5,736.0 447.1,737.2 447.1,738.6 447.8,739.0 447.2,739.6 447.8,741.4 447.3,741.5 447.5,743.3 447.8,743.9 447.4,745.1 447.8,746.0 447.8,747.4 448.1,747.7 447.6,749.5 447.8,750.2 448.1,751.0 447.4,752.0 447.6,752.5 448.1,753.8 448.2,755.0 447.9,756.0 447.7,757.2 447.8,757.9 448.0,759.2 447.7,759.5 447.6,761.4 448.0,762.5 447.8,763.3 448.0,763.8 448.1,764.8 447.8,766.2 448.2,767.0 448.3,768.3 447.7,769.2 448.1,770.1 447.9,771.1 448.0,772.5 448.2,773.3 448.3,773.7 448.0,774.9 448.2,776.6 448.6,777.7 448.5,778.0 448.4,779.1 448.5,780.1 448.3,781.3 448.6,782.0 448.6,783.2 448.0,784.9 448.7,785.4 448.4,786.6 448.4,787.4 448.6,789.0 448.4,789.8 448.6,790.5 448.1,791.6 448.5,792.5 448.5,793.9 448.7,794.8 448.4,795.3 448.5,796.0 448.7,797.0 448.3,798.4 448.5,799.5 448.4,800.9 448.6,801.4 448.8,803.1 448.9,803.4 449.0,804.7 449.1,806.1 449.1,807.0 448.6,807.6 448.8,809.0 448.8,809.2 449.1,810.4 448.5,811.2 449.3,813.0 449.3,813.3 448.6,814.2 449.1,815.8 448.6,817.1 449.1,817.5 449.2,818.8 449.0,819.6 449.2,820.5 448.8,822.1 448.9,822.4 449.3,823.1 448.8,825.2 448.8,825.5 448.9,826.4 449.1,827.2 449.2,828.2 449.6,829.7 449.0,830.9 449.4,832.1 449.6,832.6 449.0,833.2 449.6,834.7 449.5,835.6 449.7,834.9 449.5,833.9 449.5,833.1 449.9,831.4 449.5,830.2 449.7,829.0 450.0,829.1 449.4,827.8 449.6,826.7 449.9,825.2 450.2,824.9 450.2,823.4 449.9,821.8 449.8,820.8 449.6,820.6 449.9,819.2 449.8,818.4 450.1,816.9 450.1,816.1 450.1,815.4 450.2,814.7 450.0,813.1 450.5,811.7 450.7,810.9 450.1,809.9 450.6,809.2 450.5,807.8 450.6,806.6 450.5,805.9 450.6,805.2 450.6,803.8 450.3,802.4 450.7,801.5 450.7,800.6 451.1,800.5 450.5,798.8 451.1,798.1 451.2,796.4 451.0,796.4 450.7,794.7 450.7,793.6 450.9,792.2 450.7,792.3 451.1,790.5 451.0,789.5 451.3,789.2 451.5,787.4 451.5,786.8 451.5,786.2 451.2,784.8 451.1,783.2 451.2,782.1 451.3,781.8 451.4,780.3 451.3,780.0 451.5,778.3 451.4,778.1 451.5,776.2 451.9,775.0 451.7,774.5 451.5,773.5 451.5,772.6 451.6,772.1 451.8,771.0 452.0,769.8 451.4,768.8 451.9,767.5 452.4,765.8 453.2,765.1 452.9,764.2 453.2,763.0 453.5,761.9 452.9,761.0 453.6,760.5 453.5,759.3 453.4,757.5 453.0,757.3 453.7,756.0 453.0,754.5 453.0,753.9 453.5,752.7 453.7,752.2 453.3,750.9 453.6,749.5 453.4,749.4 453.6,748.5 453.3,746.6 454.0,745.9 453.4,744.9 453.6,744.0 453.8,742.5 454.1,742.6 454.1,741.0 454.1,740.1 453.4,738.5 453.8,738.4 453.5,737.0 454.1,735.8 453.7,734.6 454.2,734.5 454.2,733.1 454.1,732.2 453.8,731.5 454.1,730.0 454.0,728.8 454.3,727.3 455.1,726.2 454.7,727.1 455.2,727.8 455.4,728.9 455.0,730.3 455.3,731.1 455.1,732.3 455.3,733.4 455.3,734.3 455.0,735.5 455.6,736.7 455.3,737.1 455.1,738.0 455.2,739.7 455.6,740.1 455.9,741.4 456.0,741.8 455.8,743.4 455.9,744.8 455.7,745.1 456.1,746.4 455.6,747.3 455.6,748.9 455.8,749.1 456.3,750.5 455.7,751.9 456.0,753.0 456.0,753.3 456.0,754.9 456.0,755.9 455.9,756.3 456.3,757.7 456.5,756.1 456.0,755.1 456.0,754.3 456.8,753.0 456.7,752.7 456.8,751.1 456.7,750.4 456.3,748.9 456.9,748.7 456.5,746.8 456.6,746.8 457.2,744.8 456.6,744.7 456.9,742.9 457.1,742.6 456.6,741.4 457.2,740.1 456.8,738.8 456.9,738.5 457.1,736.8 457.0,736.1 457.2,735.0 457.0,733.7 457.2,732.5 457.4,731.4 457.2,731.5 458.0,730.3 457.5,728.8 457.5,727.8 457.7,726.3 457.7,726.1 457.6,724.9 458.0,723.5 458.1,722.9 458.1,721.4 457.9,720.9 458.3,719.9 458.5,718.5 458.7,720.0 458.3,721.1 458.6,722.1 458.4,722.4 458.4,723.7 458.8,724.6 458.5,725.8 459.1,726.7 459.1,727.8 458.7,729.0 458.4,730.0 458.7,730.9 459.2,732.4 458.6,733.4 459.1,733.4 458.8,734.9 459.1,735.9 459.1,736.6 459.0,738.2 459.2,738.9 459.4,739.9 459.1,741.5 459.5,742.5 459.0,742.5 459.1,744.1 459.4,744.9 459.2,744.3 459.6,743.4 459.3,742.5 459.5,740.6 459.5,740.0 460.2,739.6 459.7,738.4 459.6,737.4 460.0,736.5 460.3,734.9 460.6,733.8 460.4,732.9 460.8,732.1 460.7,731.6 460.5,730.0 460.9,731.3 462.0,732.7 462.3,733.3 461.7,735.0 461.6,735.4 462.1,736.0 462.2,737.5 462.0,738.5 461.8,739.8 462.4,740.4 461.9,741.4 461.7,742.2 462.1,743.7 462.1,744.0 462.5,745.3 462.0,747.1 462.3,747.8 462.4,749.0 462.3,749.1 462.1,750.1 462.3,751.4 462.8,752.8 462.0,753.1 462.2,754.8 462.7,755.8 462.6,757.1 462.1,758.1 462.4,758.3 462.5,759.8 462.8,760.6 462.3,761.3 462.6,762.6 462.4,763.4 462.4,764.9 462.7,765.9 463.0,765.9 462.8,767.3 463.1,768.2 463.0,769.7 463.0,771.0 463.1,771.7 462.8,772.8 463.0,773.5 463.0,774.5 463.0,775.7 462.9,777.0 463.1,777.6 462.9,779.1 463.3,779.0 463.7,780.6 463.4,781.9 463.3,782.1 463.6,783.4 463.4,784.0 463.3,785.3 463.2,786.3 463.4,787.9 464.0,788.1 463.9,789.4 463.7,790.7 463.7,789.3 464.4,788.4 464.1,788.2 464.0,786.1 464.5,785.9 464.3,784.9 464.5,783.2 465.1,783.1 465.1,781.1 465.5,780.4 465.4,779.6 465.6,778.8 465.6,777.3 465.7,778.2 465.9,779.8 465.8,780.1 466.2,781.9 465.7,782.5 465.7,783.8 465.9,784.6 466.5,785.1 466.3,786.5 466.6,787.9 466.4,788.6 466.2,789.8 466.8,790.6 466.4,791.7 467.1,792.5 467.1,793.5 466.6,795.0 467.2,796.3 467.0,796.7 467.1,798.7 466.7,798.7 467.3,800.5 467.2,800.9 467.2,802.0 467.2,803.3 467.3,804.8 467.4,805.5 467.7,806.0 467.6,807.7 467.9,806.6 467.8,805.8 467.7,804.3 468.4,803.3 468.2,801.6 468.7,801.3 468.5,799.3 468.8,798.5 468.4,798.3 469.1,796.6 469.2,795.4 469.2,794.5 469.3,794.0 468.7,793.3 468.7,791.5 469.4,790.6 469.0,789.8 469.3,788.1 469.4,788.0 469.5,786.5 469.4,785.8 469.7,784.5 469.4,783.7 469.1,782.2 469.7,781.5 469.6,780.3 469.2,779.6 469.2,779.1 469.2,777.2 469.9,776.6 469.9,775.4 470.0,774.6 469.9,773.7 469.4,772.5 470.1,771.7 470.1,770.2 469.8,769.1 469.8,768.3 470.1,767.4 469.8,767.0 470.1,765.5 470.0,764.4 470.3,763.9 469.9,762.3 470.5,761.9 470.4,760.7 470.4,759.9 470.3,758.8 470.4,757.8 470.4,756.6 470.9,755.0 471.0,754.3 470.9,753.6 470.6,752.5 470.4,751.9 470.6,750.7 471.0,749.3 471.2,748.3 471.4,747.2 470.8,746.9 471.0,745.1 471.4,744.0 470.8,743.3 471.3,742.6 471.4,741.8 471.1,740.1 471.7,740.0 471.5,738.8 471.6,737.1 471.6,736.8 471.4,735.4 471.7,734.1 471.8,733.5 471.7,732.0 471.9,731.4 471.9,730.7 472.1,729.6 472.5,730.1 472.3,731.9 472.2,732.9 472.3,733.0 472.9,734.7 473.1,735.2 473.0,737.1 473.3,737.2 473.4,738.1 473.2,739.7 473.4,740.5 473.2,741.5 473.6,743.1 473.4,743.6 473.2,742.1 473.6,741.2 473.8,741.1 474.2,739.7 474.2,739.0 474.4,737.6 474.5,736.8 474.6,735.8 475.0,734.5 474.8,733.9 475.0,732.5 475.0,731.8 475.2,730.8 474.9,729.3 474.9,728.6 475.4,726.8 475.2,725.9 475.7,725.7 475.4,723.7 475.5,722.9 475.4,722.3 475.9,721.5 476.1,720.2 475.5,719.1 476.3,717.4 476.0,716.7 476.4,716.3 475.9,714.2 476.3,713.8 476.7,712.7 476.9,711.5 477.2,710.2 477.6,709.2 477.3,710.3 477.8,711.5 477.3,712.4 477.9,713.0 477.6,714.7 477.6,715.3 477.4,716.5 478.0,717.2 477.5,718.8 477.6,719.9 478.2,720.4 478.3,721.1 478.3,722.4 478.1,723.3 477.9,724.2 478.2,726.0 478.3,727.0 478.5,728.0 477.9,728.4 477.9,729.7 478.4,731.1 478.1,731.7 478.1,732.5 478.1,733.9 478.3,735.4 478.8,735.9 478.8,737.5 478.6,738.2 478.3,737.3 478.5,735.9 478.7,735.4 479.3,733.8 479.2,732.8 479.7,732.0 479.2,731.0 479.8,729.8 480.0,731.0 479.6,731.9 479.5,732.7 479.4,733.9 479.8,735.4 479.9,736.4 480.2,737.4 479.7,738.3 480.2,739.1 479.6,740.5 479.7,740.8 480.0,742.5 480.3,743.1 479.7,743.9 479.6,745.3 480.2,746.5 480.3,747.6 480.0,747.5 480.1,748.6 480.0,750.4 479.6,751.4 479.7,751.9 480.3,753.0 480.2,754.1 480.1,754.5 480.0,756.0 479.8,756.9 480.0,758.3 480.0,758.6 479.9,759.6 479.9,761.5 480.4,762.2 479.7,763.1 480.5,764.5 480.1,765.1 480.6,766.5 480.3,766.6 480.0,768.6 480.6,769.6 480.5,770.4 480.1,770.7 480.5,772.6 479.9,773.6 480.7,773.6 479.9,775.0 480.2,775.7 479.9,777.2 480.1,778.1 480.4,778.6 480.4,780.5 480.5,781.0 480.1,781.6 480.1,782.6 480.2,783.6 480.8,785.5 480.1,786.4 480.3,786.6 480.5,787.6 480.1,789.1 480.6,789.7 480.1,790.7 480.2,791.8 480.4,792.7 480.1,794.2 480.7,794.9 480.4,795.9 480.2,796.5 480.6,798.0 480.4,799.4 480.6,800.3 480.8,801.0 480.3,801.9 480.8,802.5 480.8,803.4 480.5,805.0 481.0,806.4 480.6,807.4 480.7,807.8 480.9,808.6 480.4,810.3 480.4,811.3 481.0,811.5 480.4,813.0 480.3,813.5 480.4,815.5 480.6,816.6 481.0,816.5 481.0,817.9 480.8,819.3 480.8,820.2 480.8,821.2 480.9,822.2 480.6,822.4 480.3,823.5 481.0,825.3 480.4,826.0 480.5,826.9 480.8,828.1 480.8,829.4 480.8,830.3 480.4,830.6 480.7,831.9 480.8,833.1 480.4,833.9 480.4,835.6 480.7,835.9 480.7,837.5 480.5,837.9 480.7,838.8 480.7,839.5 480.7,840.6 480.8,842.0 480.9,842.8 480.5,844.4 481.1,845.6 480.5,845.6 480.9,847.2 480.6,848.0 481.2,848.5 480.9,850.0 480.8,851.3 480.6,851.5 481.1,853.4 481.0,854.4 480.7,854.8 480.6,855.4 481.2,857.5 481.0,857.4 480.9,859.2 481.0,859.9 481.3,859.2 481.0,857.8 481.1,857.1 481.4,855.9 480.7,854.5 481.5,854.0 481.4,853.1 481.3,851.6 480.9,850.3 481.4,849.2 481.3,848.6 481.4,847.8 481.4,846.2 481.8,846.1 481.7,844.8 481.4,843.5 481.2,842.5 481.9,841.1 481.6,840.2 481.8,839.8 481.6,838.6 482.2,838.1 481.8,836.3 481.9,834.9 481.6,834.0 482.1,832.9 481.9,832.6 482.2,831.3 481.9,830.0 482.1,828.9 481.9,828.1 482.1,827.5 482.1,825.9 482.7,824.8 482.7,824.4 482.8,823.1 482.8,822.9 482.4,821.3 482.7,820.5 482.8,819.7 482.9,817.8 482.4,817.2 482.9,816.0 482.8,815.3 482.4,814.0 482.9,813.3 482.7,812.4 482.6,811.1 483.0,809.6 483.2,809.1 483.3,808.0 483.3,806.6 483.1,805.2 483.3,805.0 483.1,803.3 483.2,802.5 483.5,801.2 483.4,800.2 483.1,799.3 483.4,799.0 483.4,797.2 483.6,796.3 483.8,794.9 483.5,795.0 483.8,793.5 483.6,792.1 483.8,791.8 484.1,790.7 484.6,789.3 484.7,788.6 484.4,787.6 484.6,786.1 484.4,785.6 484.6,784.6 484.8,782.8 484.9,782.1 484.4,781.2 485.1,780.5 484.5,778.9 485.3,778.0 485.2,776.8 484.9,775.7 485.3,774.8 485.1,774.0 485.0,773.1 484.9,772.5 485.0,770.8 485.2,770.3 485.3,768.6 485.2,768.5 485.2,767.5 485.5,766.5 485.9,765.2 485.8,763.9 485.6,762.9 485.7,762.3 485.6,761.2 485.9,759.9 485.7,758.6 485.9,758.0 486.4,756.6 486.0,755.3 486.4,754.5 486.8,754.1 486.2,753.1 486.6,751.4 486.7,750.2 486.9,749.2 486.5,748.2 486.6,747.9 486.7,746.6 486.7,745.2 486.9,744.5 486.9,742.9 487.2,742.6 487.3,741.3 487.3,740.4 487.4,739.3 487.1,738.0 487.4,737.1 487.4,736.3 488.0,735.0 488.0,733.7 488.5,733.3 489.2,732.2 489.4,731.0 490.5,731.5 491.2,729.9 491.0,729.2 491.3,728.2 491.8,727.1 491.9,725.7 491.4,724.6 492.1,723.7 491.7,723.5 492.2,721.8 492.5,720.8 492.1,719.7 492.3,718.7 492.7,717.8 492.5,717.0 493.6,716.4 493.6,717.4 493.6,718.3 494.2,719.2 494.1,719.9 494.2,721.1 494.2,722.8 494.2,722.9 494.2,723.8 494.1,725.8 494.4,725.9 494.4,727.4 494.0,728.5 494.3,729.0 494.1,730.2 494.2,731.8 494.8,732.1 494.6,733.7 494.7,734.0 494.7,735.6 494.7,736.0 494.6,737.5 495.2,738.6 495.0,739.6 494.7,740.9 495.1,741.3 495.5,742.9 495.4,744.1 494.9,744.4 495.2,746.2 495.5,746.3 495.3,747.5 495.7,749.3 495.9,750.3 495.6,750.7 496.1,752.0 495.7,753.4 495.5,753.5 496.1,755.0 495.6,756.4 495.7,756.8 496.2,758.3 495.9,759.3 496.2,759.9 496.4,760.6 496.6,762.2 496.8,763.3 496.6,764.5 496.9,764.7 496.9,766.1 496.9,767.5 497.3,768.3 496.9,769.2 497.0,769.7 497.0,770.6 497.4,771.6 497.5,773.4 497.8,773.8 497.9,774.8 497.9,776.3 498.2,776.5 498.3,778.5 498.2,779.4 498.1,779.8 498.5,781.4 498.6,782.4 498.4,782.7 498.8,784.0 498.7,785.1 498.5,786.1 498.4,786.7 498.6,787.7 498.4,789.3 498.6,790.2 499.1,790.8 499.1,791.9 498.9,793.6 499.2,794.5 498.8,794.7 499.1,796.3 499.6,796.8 499.4,798.4 499.4,799.2 499.4,797.8 499.3,796.7 499.8,796.6 499.9,795.5 499.9,794.0 499.7,793.4 500.0,792.0 500.0,791.1 500.4,790.2 500.9,788.2 500.7,787.6 500.4,786.0 501.1,785.0 500.6,785.0 500.6,783.9 501.1,782.7 501.0,781.0 501.0,780.5 501.0,779.0 501.1,777.7 500.9,777.2 501.2,776.1 501.6,775.4 501.2,773.5 501.4,773.3 501.6,772.1 501.3,771.5 501.4,770.1 501.4,771.2 501.9,771.6 501.3,773.0 501.6,773.6 501.7,775.5 501.9,775.6 501.9,777.5 502.1,778.4 501.8,778.8 502.1,780.0 501.7,781.2 501.5,782.5 501.5,783.2 501.8,784.6 502.1,785.5 502.1,786.5 502.4,787.6 502.0,788.8 502.4,789.8 502.1,790.2 502.1,792.0 502.3,792.6 502.3,793.3 502.8,794.1 502.5,795.4 502.2,796.9 502.4,797.3 502.6,798.9 502.9,799.0 502.9,800.7 502.6,801.0 502.5,802.9 502.9,803.9 503.0,804.8 503.5,805.5 503.0,807.0 503.5,807.2 503.3,808.2 503.3,809.7 503.0,810.9 503.8,810.9 503.4,812.3 503.5,811.3 503.4,810.7 503.8,809.7 503.9,808.9 504.1,807.8 503.9,806.2 504.4,805.2 504.5,805.0 504.1,803.3 504.6,802.1 504.9,802.0 504.4,800.0 504.7,799.8 504.7,798.0 504.9,797.6 505.4,798.7 505.0,799.3 505.2,801.0 505.4,802.4 506.2,803.1 506.0,804.6 506.1,805.7 506.3,806.3 506.3,805.1 506.3,804.3 506.1,803.5 506.1,802.5 506.5,801.7 506.0,800.7 506.4,798.6 506.7,797.5 506.7,797.0 506.9,795.9 506.3,795.0 506.4,793.6 506.6,793.3 507.0,792.1 507.0,790.5 506.7,789.4 506.8,788.4 506.9,787.9 506.9,787.4 506.8,786.0 506.7,784.3 507.2,784.2 506.7,782.9 506.9,782.0 507.2,780.4 507.1,779.4 507.4,778.6 506.8,777.7 506.8,776.7 507.1,775.9 507.5,774.5 507.2,773.4 507.2,772.5 507.2,771.6 507.3,770.6 507.2,769.8 507.6,768.6 507.8,767.6 507.6,766.0 507.5,765.2 507.8,764.5 507.8,763.2 507.9,762.1 507.8,761.1 507.7,760.3 508.2,758.7 508.1,758.4 507.9,757.6 507.9,755.7 508.2,754.9 508.4,756.4 508.4,757.1 508.9,758.7 509.3,759.1 509.6,760.3 509.7,761.3 509.9,760.1 510.2,759.4 509.6,757.7 509.6,757.8 509.9,756.4 509.9,754.7 510.0,754.4 509.8,753.6 510.5,752.3 510.0,751.5 510.4,750.7 510.1,748.7 510.1,748.3 510.4,747.8 510.5,746.1 510.9,745.8 510.8,744.3 510.9,743.3 510.5,742.1 510.6,741.4 510.8,740.6 511.2,739.4 510.7,738.1 510.7,737.2 511.1,736.4 510.8,734.7 511.0,733.9 511.2,733.1 511.4,732.5 511.1,731.4 511.5,729.6 511.3,729.3 511.4,728.5 512.0,727.3 511.5,726.3 511.6,724.7 511.7,723.7 511.7,722.7 512.1,721.9 512.2,720.5 512.4,719.8 512.7,719.3 512.2,717.8 512.4,716.8 512.4,718.1 512.7,718.4 512.5,719.9 512.5,720.7 512.7,722.6 512.9,723.6 513.2,724.8 513.2,725.0 513.0,726.6 513.5,727.8 513.0,728.8 513.4,729.5 513.3,730.5 513.3,732.1 513.9,732.6 513.7,733.6 513.7,733.0 514.0,731.3 514.2,731.2 513.9,730.3 514.4,729.0 514.1,727.7 514.4,726.6 514.6,725.1 514.4,724.6 514.2,724.2 514.5,722.7 514.8,722.0 514.8,720.1 514.9,719.2 514.6,718.9 514.6,717.4 515.0,716.2 514.5,715.7 514.6,714.5 514.5,713.7 514.9,712.1 515.1,711.3 515.4,710.9 515.0,710.1 515.1,708.5 515.4,707.5 515.1,708.2 514.9,709.5 515.2,710.9 515.5,711.0 515.5,712.4 515.4,712.9 515.9,714.4 515.4,715.5 515.4,717.1 515.4,718.0 515.8,718.7 515.7,719.7 515.6,720.5 515.4,722.1 515.9,722.0 515.7,724.1 516.3,724.8 515.8,725.2 515.9,726.2 516.2,727.1 516.0,728.9 515.7,729.5 516.0,730.5 516.5,731.6 516.2,732.5 517.0,731.1 517.3,729.9 517.6,731.0 517.7,731.9 517.4,732.8 517.8,733.7 517.3,735.6 517.4,736.4 518.2,736.6 518.2,737.5 518.2,738.9 518.2,740.0 518.4,740.5 517.9,742.1 518.4,742.8 518.8,743.7 518.6,745.0 518.3,746.0 518.8,747.5 518.9,747.5 518.6,748.7 519.2,750.5 518.9,751.6 519.1,752.2 519.1,753.3 519.2,753.7 519.6,754.9 518.9,756.6 519.3,757.3 519.9,758.0 519.2,758.9 519.5,759.6 519.3,761.0 519.4,762.3 520.2,763.2 520.1,763.9 520.0,765.1 520.0,766.0 520.5,766.9 520.5,768.3 520.7,769.4 520.7,770.6 520.9,771.3 520.8,771.7 520.6,773.1 521.1,774.5 520.8,774.7 520.8,776.0 521.4,776.9 521.0,778.3 521.3,779.0 521.5,780.0 522.7,780.2 523.2,781.4 523.0,782.2 523.4,783.6 522.9,784.2 523.2,785.7 523.7,785.7 523.8,787.2 523.9,788.1 523.4,789.0 523.8,790.5 524.0,791.4 523.9,792.6 523.9,793.6 523.9,794.8 523.9,796.1 524.5,796.1 524.1,797.9 524.4,799.0 524.6,800.0 524.2,800.4 524.8,801.3 524.4,802.9 524.5,803.8 524.5,804.6 525.0,805.5 524.7,806.7 524.8,808.1 524.6,808.9 524.9,809.3 524.7,810.7 524.7,811.0 524.7,813.0 525.1,813.5 525.2,814.8 524.8,815.9 524.8,816.9 525.3,817.5 525.6,818.6 525.0,820.1 525.5,821.1 525.2,821.4 525.3,822.5 525.7,823.5 525.6,825.1 525.5,825.8 526.0,827.0 526.1,828.1 525.8,828.5 525.4,830.2 526.2,831.1 526.3,831.7 525.9,832.6 526.4,833.5 526.2,834.9 525.8,835.8 526.2,836.6 526.4,838.1 526.3,839.3 526.3,840.0 526.6,840.9 526.4,842.0 526.3,843.0 526.3,844.2 526.5,845.0 526.6,844.1 527.0,843.4 526.4,841.6 526.5,841.1 526.6,840.4 526.5,838.8 526.6,837.7 527.0,836.7 527.0,836.5 526.7,834.6 526.7,834.2 526.9,833.2 526.8,831.8 526.8,830.3 527.0,829.4 526.9,829.0 527.4,827.7 527.3,827.1 527.4,825.8 527.6,825.1 527.4,823.6 527.8,823.2 527.4,821.7 527.4,821.2 527.8,819.9 527.8,818.7 527.7,817.7 527.5,816.5 527.5,815.1 527.5,814.3 527.5,813.2 528.0,812.0 527.3,811.5 527.5,810.7 527.6,809.2 527.6,808.8 528.1,807.0 527.8,806.9 527.8,806.0 527.5,804.6 528.1,802.9 527.7,802.3 528.1,801.8 528.2,800.7 527.8,799.8 528.2,798.2 527.9,797.6 528.2,796.7 527.8,795.0 528.1,794.4 528.1,793.8 528.3,792.0 527.9,790.8 528.3,789.8 528.3,789.7 528.3,788.7 528.0,786.7 527.8,786.7 527.9,784.8 528.0,784.0 528.0,783.0 528.0,782.3 527.8,780.8 528.0,780.0 528.2,779.2 527.8,778.4 528.2,777.2 528.0,776.0 528.5,774.8 528.6,773.7 528.3,772.6 528.5,771.9 528.8,770.1 528.5,770.2 528.7,768.7 528.5,767.6 528.3,766.6 528.7,765.6 528.7,764.8 529.0,764.0 528.6,762.9 529.0,761.5 528.6,760.1 529.0,759.0 529.1,758.4 529.2,756.8 529.2,756.4 529.3,757.9 529.7,758.5 529.5,758.7 529.6,760.7 530.0,761.6 529.8,762.2 529.9,763.3 530.2,763.8 530.1,764.9 530.3,766.5 530.2,767.4 530.5,768.8 530.0,769.1 530.1,770.0 530.4,772.0 530.6,772.5 530.6,773.9 530.9,774.5 530.9,776.0 530.6,776.7 530.3,777.0 530.8,778.6 530.7,779.2 530.8,780.1 530.9,781.2 530.7,782.1 531.1,783.4 531.2,784.6 530.9,785.7 531.0,786.4 531.3,787.1 531.1,789.1 531.4,790.0 531.4,790.7 531.3,789.7 531.1,789.0 531.2,787.5 531.0,786.9 531.5,786.0 531.0,785.1 531.1,783.8 531.1,782.5 531.9,781.6 531.6,780.7 531.7,779.5 531.2,778.4 531.8,777.1 531.6,776.2 531.9,775.7 531.9,774.0 531.9,773.0 532.1,772.4 531.8,771.1 532.0,770.0 532.0,769.0 531.8,768.5 531.7,766.8 531.7,766.2 531.7,765.4 531.9,763.7 532.1,763.2 531.7,762.3 531.8,760.6 532.2,759.8 532.4,761.2 532.2,762.1 532.9,762.7 533.2,764.4 533.1,765.5 533.5,766.4 533.7,767.3 533.6,765.9 534.2,765.1 534.1,764.5 534.0,763.6 533.9,762.3 533.9,761.8 534.2,760.5 534.3,759.1 533.8,758.6 534.2,757.6 534.2,756.4 533.9,755.4 534.1,754.0 534.0,753.1 533.8,751.8 534.2,750.9 534.1,750.9 534.3,749.7 534.3,748.2 534.0,746.8 534.2,746.4 534.2,744.6 534.4,743.9 534.6,743.6 534.0,742.6 534.7,741.1 534.3,740.7 534.5,739.7 534.6,738.4 534.5,736.5 534.4,736.3 534.6,734.5 535.0,734.4 534.8,732.5 534.7,731.6 534.8,731.2 534.8,730.1 534.9,729.4 535.0,727.9 535.0,727.5 534.7,726.2 534.9,724.9 534.6,724.1 534.8,722.9 534.8,721.6 535.2,720.3 535.1,720.3 535.5,718.2 535.4,717.7 535.6,716.5 535.5,715.9 535.3,714.1 535.2,713.6 535.2,712.4 535.5,711.6 535.8,711.0 535.7,709.2 535.5,708.5 535.5,708.0 535.3,706.7 536.0,705.0 535.8,704.3 536.1,703.2 535.8,702.1 535.8,701.0 536.3,700.7 535.8,699.8 536.2,698.1 536.4,697.0 536.0,695.6 536.4,694.8 536.4,694.5 536.1,693.3 536.6,694.4 536.7,695.6 536.5,696.9 536.9,697.2 537.2,697.7 537.0,699.3 537.8,700.9 538.0,701.8 537.9,702.5 538.1,703.1 537.9,704.5 538.1,705.1 538.0,707.1 538.2,708.0 538.2,708.5 538.4,709.0 538.5,710.0 538.8,711.6 538.9,712.6 538.9,711.2 539.2,710.5 539.0,709.7 539.4,708.2 539.7,707.6 539.3,706.6 539.9,705.4 539.6,704.7 539.5,703.5 539.7,702.3 539.9,700.6 540.4,700.1 540.1,699.0 540.3,697.9 540.8,696.7 541.2,695.6 541.1,694.9 540.9,693.9 541.3,693.2 541.6,692.0 542.0,693.0 541.7,694.2 542.2,694.7 542.4,696.1 542.6,696.5 542.7,698.3 542.8,698.6 542.7,700.0 542.4,700.8 543.0,702.0 542.6,703.1 543.4,703.6 543.3,704.6 543.2,705.5 543.3,707.4 543.4,708.3 543.4,709.2 543.7,710.1 543.9,711.4 543.9,711.6 544.1,713.6 544.2,713.9 543.6,715.6 544.0,716.3 544.4,717.1 544.0,718.6 544.0,719.3 544.5,720.7 544.5,721.8 544.4,722.3 544.5,723.1 544.2,724.9 544.5,725.6 544.8,726.8 545.0,727.9 545.0,727.9 545.1,729.4 545.0,730.0 544.7,731.2 544.7,731.9 545.0,733.7 545.0,734.9 545.4,735.8 545.6,737.0 545.4,737.4 545.0,738.3 545.4,739.9 545.4,740.2 545.3,742.1 545.6,742.4 546.0,743.5 546.5,744.7 546.8,745.5 546.9,746.6 547.1,747.4 547.3,748.8 547.7,749.3 547.2,750.8 547.1,752.0 547.5,753.1 547.8,753.8 547.5,754.2 547.5,755.4 547.3,756.6 547.6,758.0 547.7,759.0 547.9,759.2 548.0,760.3 547.3,761.4 547.4,762.9 547.4,763.8 547.9,764.7 547.9,766.1 548.1,766.8 547.8,767.8 547.9,768.6 547.6,770.1 547.9,771.1 547.9,771.6 547.9,773.5 548.2,773.6 547.9,775.3 547.7,775.9 547.7,777.2 548.1,778.3 548.4,779.1 548.2,780.1 548.0,780.6 548.0,782.3 548.5,782.5 548.5,784.2 548.6,785.0 548.2,786.1 548.3,787.3 548.5,788.1 548.5,789.1 548.5,790.7 548.8,791.7 548.7,791.6 548.6,792.7 548.4,793.8 548.3,794.8 549.0,795.7 548.7,797.8 548.9,797.9 548.7,799.8 549.1,800.6 548.7,801.1 549.3,802.8 549.2,803.0 549.2,803.9 548.9,805.0 549.1,806.4 549.3,807.5 549.1,808.6 549.5,809.9 549.3,809.9 548.9,811.0 549.4,812.3 549.0,813.2 549.5,814.1 549.3,815.2 549.6,816.3 549.3,817.6 549.7,818.1 549.2,819.8 549.8,820.4 549.6,821.3 550.0,822.6 549.5,823.4 549.9,824.5 550.1,825.6 549.7,826.9 549.5,827.5 549.9,828.4 549.7,829.4 550.2,830.3 550.5,831.2 549.9,832.0 550.1,833.1 549.9,834.5 550.5,835.5 550.6,835.9 550.7,837.1 550.7,838.6 550.8,839.5 550.5,841.0 550.3,841.7 550.7,842.7 550.7,843.7 550.9,844.6 550.9,845.4 550.7,846.3 551.0,847.1 551.4,848.5 551.5,850.2 551.6,850.1 551.4,851.6 551.3,852.7 551.6,854.3 551.5,854.8 551.4,855.8 551.8,857.1 551.8,858.4 551.9,859.5 552.1,859.7 551.8,861.5 552.3,861.7 552.1,863.2 552.3,862.7 551.9,860.9 552.0,860.0 552.1,858.6 552.4,858.6 552.5,857.2 552.2,855.9 552.3,855.1 552.4,853.4 552.2,852.8 552.3,852.5 552.7,850.7 552.5,849.3 553.0,848.6 552.5,847.6 552.7,846.5 552.7,845.8 553.2,844.3 553.3,843.8 553.1,842.8 552.8,842.1 553.1,840.5 553.0,840.1 553.2,838.6 553.4,837.3 553.5,836.8 553.6,836.0 553.2,834.6 553.2,833.9 553.4,832.4 553.7,831.3 553.5,831.1 554.0,830.2 553.7,828.4 554.2,827.7 554.5,827.0 554.1,826.0 554.1,825.1 554.4,823.9 554.8,822.2 554.2,821.6 554.8,820.1 554.8,819.9 554.7,819.0 554.5,817.4 554.9,816.4 555.1,815.9 554.9,814.7 555.2,812.9 554.8,811.8 554.9,811.0 555.6,809.7 555.4,809.1 555.1,807.6 555.3,807.6 555.6,806.1 555.7,804.9 556.0,803.8 555.8,803.0 556.1,802.5 556.1,800.7 556.5,800.0 556.6,799.2 557.3,798.0 557.5,797.5 557.4,795.6 557.4,794.8 557.8,794.6 558.1,793.5 557.5,791.9 558.0,791.1 558.1,789.5 558.1,788.4 558.2,788.1 558.2,787.3 558.9,786.5 558.9,785.1 558.7,784.4 558.7,783.0 559.1,781.4 559.6,781.5 559.3,779.9 559.7,779.3 559.5,777.6 559.4,776.6 559.6,776.4 559.7,775.0 559.8,774.2 560.1,772.5 560.4,772.5 560.6,770.4 560.9,770.5 560.4,768.4 560.8,768.4 561.1,766.6 560.8,766.4 561.2,765.1 561.0,764.6 561.0,762.6 561.2,761.8 561.7,761.4 561.4,759.6 561.4,759.3 561.8,757.5 561.7,756.9 561.6,756.4 561.8,754.6 562.2,754.2 561.7,752.6 562.2,752.5 562.2,751.5 561.7,749.8 561.8,748.8 562.0,748.4 562.3,746.5 562.6,745.6 562.0,744.4 562.3,744.5 562.5,743.2 562.2,741.4 562.7,740.9 562.3,739.4 562.5,739.3 562.8,738.3 562.6,737.6 563.0,735.6 563.2,734.6 563.2,733.5 562.9,733.5 563.0,732.0 563.0,731.1 563.0,729.9 563.5,729.6 563.7,728.0 563.6,727.1 564.3,726.3 564.5,724.4 564.6,724.2 564.4,722.4 564.9,721.6 565.0,720.5 565.2,721.3 565.5,722.1 565.2,724.0 565.4,724.9 566.1,726.2 565.9,727.1 565.9,728.3 566.2,728.8 566.5,727.8 566.7,726.4 566.9,725.8 567.4,723.7 567.7,723.2 567.9,724.3 567.9,725.4 567.7,725.6 567.6,727.1 568.0,728.2 568.1,729.1 567.8,730.1 568.0,731.3 568.0,732.5 568.1,732.7 568.3,734.3 568.3,735.5 568.5,736.2 568.5,737.8 568.1,737.8 568.1,738.9 568.3,740.3 568.0,740.8 568.1,742.4 568.3,743.1 568.4,744.2 568.4,745.8 568.9,745.9 568.6,747.1 568.5,747.8 568.9,748.8 568.6,750.3 569.0,750.9 568.9,752.2 568.4,753.2 568.8,754.4 569.0,754.0 568.5,752.1 568.6,751.2 568.8,750.9 569.2,749.4 569.2,748.2 569.2,747.5 569.5,746.2 568.9,745.3 569.2,744.6 569.0,743.1 569.4,742.0 569.4,741.5 569.1,740.2 569.8,739.6 569.7,738.4 569.3,736.7 569.6,736.1 569.4,735.3 570.0,733.8 569.6,733.4 569.5,732.6 570.0,731.3 570.0,732.7 569.8,733.3 570.1,733.8 569.9,735.4 570.5,736.3 570.7,738.0 570.8,738.2 570.8,740.1 570.6,740.5 570.7,742.0 570.4,742.6 571.0,743.6 570.9,744.9 570.7,745.6 570.6,747.0 570.9,747.7 571.4,748.9 571.1,749.8 571.5,750.9 571.0,752.0 571.6,752.6 571.4,754.5 571.5,754.8 571.5,753.9 571.5,752.4 571.7,752.5 572.1,750.7 572.0,749.7 571.9,749.5 572.1,748.3 572.5,746.8 572.2,745.7 572.5,744.8 572.1,744.1 572.5,742.9 572.8,741.5 572.6,740.6 572.7,739.8 573.0,741.4 573.1,742.4 573.3,743.3 573.4,744.3 573.0,745.1 573.4,746.1 573.0,747.1 573.3,747.9 573.3,749.4 573.2,750.8 573.4,751.3 573.6,752.8 573.9,753.8 573.7,754.7 573.5,755.3 574.3,756.2 573.8,757.4 574.1,757.9 573.9,759.7 574.0,760.1 574.2,761.7 574.3,762.3 574.5,761.4 574.3,760.6 574.5,759.1 575.0,758.4 574.5,757.6 574.7,756.1 575.3,755.2 575.4,754.0 575.5,753.6 575.3,751.9 575.1,751.5 575.4,750.1 575.2,749.5 575.1,748.7 575.6,747.5 576.4,748.5 576.9,749.8 576.8,749.4 577.0,748.4 576.9,746.6 577.4,745.9 577.3,744.6 577.4,744.2 577.5,743.1 577.7,742.0 577.4,740.9 577.5,739.9 577.9,738.9 577.5,736.9 577.9,736.6 577.7,735.9 577.9,734.9 577.7,732.8 578.2,732.7 578.2,731.4 578.4,732.2 578.7,733.2 578.0,734.6 578.6,735.4 578.8,735.9 578.6,737.2 578.5,738.0 578.5,739.5 579.2,740.2 579.2,741.4 579.0,742.9 579.2,743.9 579.3,744.9 579.1,745.4 579.5,746.8 579.3,747.6 579.9,746.4 579.5,745.4 580.0,744.6 579.9,743.4 580.5,742.9 580.3,741.1 580.8,740.4 580.6,739.6 580.8,738.5 581.3,737.7 581.8,738.9 581.9,739.4 581.9,741.1 581.9,741.8 581.9,742.4 582.4,744.4 582.4,744.9 582.7,743.5 582.5,743.2 582.7,741.3 583.2,741.1 583.3,740.4 583.7,738.5 583.8,738.2 583.6,737.2 583.8,735.7 584.9,734.9 584.7,735.7 584.8,737.2 585.4,738.0 585.5,739.6 585.8,739.5 585.7,740.5 585.5,741.6 585.8,743.2 586.1,744.3 585.9,745.1 586.0,745.7 586.0,747.0 586.2,748.1 586.2,747.4 586.6,745.7 586.4,745.5 586.8,744.1 586.6,742.9 586.9,741.9 587.0,741.2 587.0,740.1 586.7,739.5 587.0,737.8 586.5,737.1 586.8,736.2 587.2,734.6 587.3,733.7 586.9,733.0 587.0,732.3 587.2,730.6 587.6,730.4 587.1,728.8 587.5,728.3 587.5,727.1 587.5,727.9 588.0,729.6 588.4,729.9 588.6,731.4 588.3,733.2 588.7,733.6 588.5,735.1 589.3,736.0 588.9,736.6 589.3,738.5 589.5,739.0 589.7,739.9 590.1,740.9 590.1,741.9 589.6,743.3 590.0,744.0 589.9,744.6 589.8,746.5 590.0,746.4 590.0,748.3 589.8,749.1 589.8,750.1 590.0,750.7 589.6,752.0 589.7,753.4 590.0,754.2 590.1,755.1 589.9,755.7 589.8,757.4 590.4,757.9 590.2,759.0 590.4,760.3 589.8,761.3 590.6,762.0 590.0,763.2 590.5,764.0 590.5,764.5 590.1,765.8 590.2,767.4 590.0,767.7 590.5,769.4 590.3,769.8 590.7,771.4 590.5,772.3 590.4,772.9 590.2,773.5 590.1,774.8 590.5,775.8 590.8,777.1 590.2,778.1 590.6,779.0 590.5,779.9 590.4,780.9 590.4,782.5 590.4,783.3 590.6,783.8 590.8,784.9 590.7,786.4 590.9,786.5 590.7,788.4 590.6,789.2 590.5,790.3 591.2,790.7 591.1,792.1 590.8,792.9 591.0,794.4 591.4,795.2 591.0,796.6 591.3,797.0 590.8,797.9 591.2,799.2 590.9,800.5 591.3,800.4 591.6,801.5 591.1,803.1 591.6,804.3 591.0,805.1 591.0,806.3 591.4,807.5 591.4,808.5 591.1,808.4 591.1,810.1 591.2,810.6 591.5,812.2 591.7,812.9 591.5,813.4 591.5,814.9 591.6,816.5 591.8,817.1 591.4,817.7 591.9,819.6 592.1,820.5 591.5,821.0 591.5,822.1 591.8,823.5 592.3,824.4 592.2,824.6 591.9,826.4 592.2,826.9 592.0,828.1 592.3,829.3 592.3,830.3 592.4,831.7 592.4,832.8 592.1,833.1 592.8,834.4 592.7,835.7 592.5,836.5 592.8,837.8 592.7,838.2 592.7,839.4 592.9,838.9 592.7,837.1 592.9,836.7 593.0,834.9 592.8,834.5 593.3,833.0 593.6,831.7 593.1,830.8 593.5,830.2 593.4,829.1 593.4,828.4 593.9,826.6 594.1,825.7 593.7,824.4 594.1,824.0 594.0,822.7 593.8,821.9 593.8,820.5 594.2,819.6 594.3,818.6 594.5,817.5 594.7,815.9 594.8,815.8 594.7,814.5 595.0,813.9 594.6,812.0 595.0,811.2 595.1,810.6 594.8,809.8 595.3,808.0 595.2,807.4 595.2,808.3 595.4,809.9 595.9,810.8 595.2,811.7 595.5,812.8 595.7,813.6 595.5,814.2 595.6,815.2 595.9,817.0 596.5,817.6 596.5,819.0 596.1,820.2 596.6,821.0 596.5,821.9 596.7,820.9 596.3,819.4 596.9,819.0 596.4,817.9 597.0,817.1 596.6,816.2 596.9,814.3 596.7,813.8 596.9,813.1 596.9,812.2 597.6,810.8 597.5,809.1 597.2,808.3 597.5,807.4 597.4,806.9 597.4,805.8 597.8,804.8 598.2,803.7 597.9,802.2 598.1,801.3 598.2,800.1 598.8,798.8 598.8,798.1 599.2,796.4 599.8,795.1 599.7,794.5 600.4,793.1 600.6,792.5 600.6,791.8 600.7,790.6 600.5,789.6 601.1,788.1 601.1,786.9 601.2,785.9 600.5,784.9 601.2,784.1 601.0,783.5 600.9,782.2 600.9,781.4 601.3,780.6 601.3,779.1 600.8,777.9 601.0,776.7 601.2,776.6 601.4,775.6 601.0,774.7 601.7,773.4 601.7,772.2 601.1,771.7 601.9,770.6 601.8,769.5 601.5,768.7 601.6,767.2 601.6,766.1 601.4,764.9 601.6,763.6 601.4,763.5 602.0,762.1 601.7,761.3 601.9,760.1 603.6,759.9 604.1,761.1 603.8,761.9 604.4,762.7 604.3,763.9 604.5,764.7 604.4,765.8 604.7,766.9 604.6,768.1 604.4,769.0 604.5,771.0 605.1,771.2 604.9,772.5 604.8,773.9 605.5,774.2 605.4,776.2 605.6,777.3 605.9,778.6 606.1,779.3 606.5,778.0 606.4,777.5 606.7,776.2 606.6,775.9 606.4,774.4 606.3,772.8 607.2,772.0 606.9,771.5 606.9,770.0 606.8,769.2 607.6,768.9 607.3,767.5 607.4,766.3 607.8,767.1 607.6,769.1 608.0,769.8 608.2,770.6 608.4,771.3 608.7,772.9 608.8,773.5 608.7,774.8 608.6,773.7 608.6,772.8 609.0,771.9 609.0,770.4 609.1,769.4 609.7,768.6 609.4,767.7 610.0,767.3 610.0,765.7 609.5,764.9 610.3,763.6 610.1,762.0 610.0,761.7 610.3,760.2 610.4,759.2 610.7,758.4 610.7,757.9 610.6,756.4 611.0,756.8 611.4,758.5 610.9,759.4 611.5,761.0 611.9,761.1 611.4,762.2 611.8,763.6 612.1,764.7 612.1,766.4 612.6,767.1 612.9,765.7 612.8,764.9 612.7,763.7 613.0,763.2 612.5,761.7 612.6,760.5 613.2,759.3 613.2,759.2 613.0,757.2 612.8,757.4 612.9,756.1 613.2,755.0 613.7,754.1 613.7,753.3 613.3,752.3 613.8,750.8 613.9,749.5 613.4,749.3 613.7,747.4 613.5,746.5 613.9,745.7 613.6,745.0 614.0,743.9 614.5,742.4 615.6,741.1 615.7,742.4 615.9,743.8 616.2,743.9 616.5,745.5 616.7,746.6 616.8,747.5 616.3,748.6 616.5,750.0 616.9,750.3 617.3,751.8 617.3,752.5 617.2,753.5 617.4,754.7 617.5,756.1 617.9,756.3 618.1,758.1 617.9,758.2 618.4,759.6 618.5,761.1 618.8,762.4 618.5,762.6 618.6,764.1 618.8,765.0 618.7,766.6 618.6,767.1 618.8,768.5 618.8,768.7 619.2,769.8 619.2,770.8 619.6,772.8 619.2,773.0 619.5,774.0 619.5,774.9 619.9,776.2 619.7,777.9 620.0,778.5 620.0,779.2 619.9,780.6 620.1,781.9 619.8,782.7 619.9,783.8 620.5,782.9 619.9,781.8 620.7,780.0 620.7,779.8 620.8,777.8 621.2,777.4 620.9,776.6 621.2,775.1 621.5,773.5 621.9,772.9 621.9,771.6 622.1,770.7 622.4,769.1 622.9,768.6 623.0,767.6 623.6,767.1 623.5,765.5 623.7,764.7 623.8,763.0 623.8,762.7 623.7,760.9 623.9,760.8 624.2,759.2 624.1,757.9 624.4,756.9 624.9,757.0 624.6,755.1 624.8,754.5 624.9,753.9 624.9,752.4 625.9,752.1 626.2,751.0 626.9,750.2 626.8,751.6 627.0,751.6 627.1,752.6 627.8,754.0 627.6,755.1 628.2,755.8 628.1,757.5 628.0,757.7 628.4,759.0 628.6,759.9 628.4,759.5 628.8,758.3 629.1,757.1 629.5,756.0 629.2,755.2 629.6,753.6 629.4,753.0 629.8,752.4 629.5,751.4 629.9,750.2 630.5,751.4 630.5,751.8 630.4,753.3 631.2,753.8 631.0,755.8 631.2,756.8 631.6,757.7 631.9,756.8 631.8,754.9 632.3,754.1 632.2,752.7 632.3,752.0 632.6,750.9 633.1,750.2 633.4,748.9 633.8,748.1 634.1,746.8 634.5,746.0 635.0,745.1 635.8,745.4 636.8,746.2 637.3,747.5 637.2,748.5 637.3,749.6 637.9,750.6 637.6,751.8 637.8,752.0 638.7,752.9 638.5,754.5 638.9,753.4 639.0,752.7 638.7,750.8 638.5,750.0 638.5,749.0 639.1,748.0 639.0,746.7 639.2,746.4 639.3,745.1 639.4,744.2 639.4,743.2 639.2,741.7 639.4,740.7 639.8,740.3 639.6,738.8 640.1,737.6 639.7,737.2 640.2,735.9 639.9,734.9 640.0,733.8 640.7,732.7 640.8,731.9 640.7,731.2 641.0,729.5 640.5,728.9 641.1,727.2 641.0,726.0 641.3,724.8 641.5,724.5 641.4,723.1 641.9,723.9 641.4,725.6 641.5,726.8 642.1,727.1 642.0,728.0 642.2,729.9 642.2,730.8 642.3,731.9 642.2,732.2 642.5,733.8 643.7,735.0 643.9,736.4 643.9,737.5 643.9,737.8 644.1,739.3 643.8,739.9 644.4,740.9 644.0,742.0 644.2,742.5 643.9,744.1 644.3,744.7 644.2,745.8 644.2,747.0 644.5,748.2 644.3,749.2 644.5,749.8 644.7,751.1 644.8,752.2 644.7,753.1 645.0,753.5 644.7,755.0 644.9,756.4 644.6,756.6 645.2,757.9 645.2,759.4 645.0,760.2 644.7,761.1 645.3,761.9 645.3,763.3 644.9,763.8 645.6,765.4 645.4,766.4 645.1,766.9 645.6,768.8 645.6,769.6 645.8,769.9 645.3,771.1 645.6,772.0 645.9,772.9 646.1,774.8 645.6,775.6 646.2,776.4 646.1,778.1 646.3,778.3 645.8,780.1 646.5,780.6 646.1,782.0 645.9,782.6 646.2,783.8 646.5,784.4 646.3,785.8 646.4,787.0 647.1,787.5 647.4,789.5 647.1,790.1 647.2,791.3 647.4,792.6 647.3,791.5 647.7,790.7 647.7,789.6 648.1,789.0 648.4,787.2 648.3,786.5 648.4,785.4 648.5,784.1 648.2,783.1 648.4,782.3 648.3,781.3 648.4,780.9 649.1,779.7 648.6,778.8 649.1,777.6 649.1,776.9 649.3,776.0 649.1,774.0 649.4,773.4 649.8,772.7 649.6,771.5 649.7,770.7 649.4,768.8 649.7,767.7 649.8,766.6 650.2,765.9 650.4,765.1 650.2,764.3 650.2,763.3 650.6,762.0 650.5,760.5 650.7,760.1 650.5,759.4 650.6,758.0 651.3,757.2 651.3,755.4 651.3,755.2 651.4,753.7 651.0,752.7 651.6,751.6 652.0,750.2 651.7,750.3 651.9,748.6 652.1,750.0 652.8,750.9 652.7,751.5 653.3,752.6 653.4,753.9 653.4,754.5 653.7,755.9 653.5,757.0 653.8,757.7 653.8,759.3 654.3,760.0 653.9,760.5 654.0,762.2 654.8,762.8 654.5,764.5 654.7,765.6 654.7,765.8 655.0,767.0 654.8,768.0 654.9,769.3 655.2,768.4 655.2,767.9 655.2,766.9 655.6,765.8 655.1,764.6 655.7,763.8 655.3,761.8 655.4,760.7 656.0,760.0 655.9,759.1 655.5,757.9 655.9,756.8 656.0,756.1 656.2,755.3 656.1,754.0 656.4,753.6 656.0,751.7 656.5,750.8 656.6,750.1 657.0,749.4 656.9,747.8 656.8,746.6 657.4,745.2 657.2,745.1 657.5,743.9 657.8,742.6 657.7,741.1 658.3,742.0 658.8,742.6 659.0,744.3 659.0,745.6 659.3,746.1 659.8,745.6 659.9,743.9 659.9,743.1 659.5,742.3 660.1,741.5 659.9,740.6 660.4,739.4 660.6,738.2 660.2,737.6 660.6,736.4 660.9,735.1 660.7,733.7 661.3,733.6 661.1,731.9 661.5,731.9 661.3,730.1 661.8,729.3 662.1,727.8 662.1,727.2 662.2,726.1 662.9,725.7 662.6,723.7 663.2,723.5 663.8,722.8 663.9,721.0 663.9,722.7 664.5,722.8 664.7,724.4 665.4,724.9 665.7,724.5 665.3,723.4 665.2,722.3 665.8,721.4 665.8,720.3 666.0,719.2 666.2,717.5 666.1,716.9 666.1,715.4 666.4,714.6 666.5,713.8 666.3,715.4 666.7,715.4 666.9,717.0 666.5,718.3 666.8,719.1 666.7,720.1 666.3,720.5 666.5,722.0 666.5,722.3 666.5,723.8 666.8,724.8 666.5,725.3 666.6,727.0 666.8,727.5 666.8,729.4 667.1,730.3 667.1,730.7 667.1,732.4 666.6,733.5 666.9,734.6 667.0,735.3 667.1,736.2 666.8,737.0 667.4,737.5 666.7,739.4 667.0,739.8 667.1,740.6 667.3,741.6 667.0,743.0 667.2,744.6 667.1,745.6 666.8,746.3 667.4,747.0 667.4,748.4 667.5,749.5 666.8,750.1 667.3,751.4 667.4,750.5 668.3,749.0 668.3,748.7 668.9,747.6 668.8,746.5 669.3,745.5 669.2,744.4 668.9,743.3 669.4,742.5 669.0,740.9 669.6,741.1 669.7,740.0 669.1,738.2 669.7,737.9 669.6,737.0 669.4,735.0 669.5,734.9 670.1,733.1 670.1,732.6 670.1,731.1 670.6,730.9 670.1,729.1 670.7,728.6 670.9,727.7 671.0,725.9 671.2,725.7 670.8,724.5 670.9,724.0 671.2,722.7 672.5,723.9 672.6,722.7 672.8,722.1 673.2,720.7 673.0,719.7 673.6,718.8 674.0,717.6 673.8,716.2 674.0,714.8 674.9,714.4 675.2,712.4 675.5,713.9 675.4,714.6 675.6,715.8 675.5,717.0 675.7,718.4 676.5,719.3 676.6,719.5 676.6,721.2 676.9,722.0 676.5,723.4 676.5,724.4 676.6,725.5 676.5,726.6 676.5,727.9 677.2,728.1 677.3,729.3 676.7,730.9 676.8,732.1 676.8,733.0 677.0,733.2 677.3,734.9 677.1,735.9 677.0,736.7 677.3,738.1 677.2,738.5 677.3,739.5 677.8,740.5 677.9,742.0 678.0,743.0 677.4,744.4 677.7,745.0 677.7,746.5 677.5,746.6 678.0,747.8 677.6,748.8 678.1,749.7 678.1,751.4 678.2,751.8 678.3,752.8 678.4,753.7 678.1,755.5 678.2,756.4 678.7,756.8 678.3,758.5 678.9,759.7 678.5,760.9 678.6,762.0 678.5,762.3 678.7,762.9 678.8,764.7 678.6,765.7 678.6,766.7 678.9,767.5 679.2,768.9 678.9,770.1 679.2,770.7 679.3,771.8 679.8,772.4 679.9,774.1 679.8,774.7 680.2,775.7 679.7,777.1 680.2,778.3 680.3,779.3 680.1,777.9 680.7,777.7 680.6,776.3 680.2,775.3 680.8,774.8 680.6,773.2 680.5,772.3 681.1,770.7 681.0,769.8 681.0,769.6 681.3,768.3 681.3,767.2 681.4,765.9 681.4,764.9 681.9,764.0 681.5,763.2 681.9,762.1 681.7,760.7 682.1,760.3 681.9,758.4 682.5,757.9 682.2,757.5 682.5,755.6 682.7,755.1 682.9,753.8 683.4,753.2 683.0,751.6 683.8,750.3 683.9,750.2 684.2,748.2 684.0,747.4 684.1,749.1 684.8,749.5 685.0,751.0 685.0,751.6 685.4,752.7 685.1,751.3 685.8,750.6 685.4,749.0 685.9,748.4 685.8,748.0 686.2,746.0 686.2,745.4 686.5,745.0 687.1,744.1 687.0,742.7 686.9,741.0 687.1,740.5 687.0,738.8 687.0,738.0 687.7,737.5 688.0,735.9 687.5,734.7 687.9,734.5 688.4,733.3 688.4,732.5 688.2,731.0 688.4,730.1 689.2,728.4 689.9,727.5 690.3,726.8 689.9,725.0 689.9,724.0 690.0,723.9 690.5,721.9 690.8,721.5 690.4,720.7 690.5,719.4 690.7,718.0 690.9,716.7 691.0,715.6 691.4,715.1 690.8,714.6 691.0,712.9 691.0,712.0 691.6,710.8 691.6,710.0 692.1,711.3 692.6,711.5 692.4,712.7 693.2,713.8 693.3,714.2 693.0,715.9 693.5,717.0 693.5,717.9 693.9,718.3 693.8,719.9 694.0,720.3 693.8,721.9 694.3,722.8 694.2,724.0 694.3,724.6 694.4,725.3 694.5,726.5 694.1,727.6 694.2,728.6 694.8,729.6 694.3,730.8 694.5,732.5 695.0,732.7 695.1,734.5 695.1,735.0 694.9,735.9 695.3,737.3 695.0,738.4 694.9,738.9 695.7,739.9 695.7,741.6 695.1,742.5 695.6,743.5 695.9,743.9 695.9,745.1 695.5,746.9 695.4,747.4 695.8,748.0 696.3,749.4 695.9,750.7 696.3,750.8 696.2,752.3 695.9,753.5 696.0,754.3 696.2,754.9 696.5,756.1 696.5,757.3 696.3,758.0 696.6,759.8 697.0,760.4 696.9,761.2 696.6,762.9 696.7,764.4 696.9,764.8 697.3,766.1 696.9,767.1 696.8,768.2 697.1,769.0 697.3,770.1 697.5,769.1 698.3,768.1 698.6,767.1 698.8,766.4 698.5,767.8 698.8,767.9 698.6,769.0 699.1,770.2 699.2,771.5 699.3,772.8 699.2,773.9 699.0,773.8 699.5,775.8 699.1,776.6 699.4,777.4 699.9,778.7 699.6,779.2 699.9,780.1 700.0,781.6 699.6,782.8 700.2,783.2 699.9,784.7 700.2,785.9 700.0,787.1 700.2,787.5 700.3,788.9 700.8,789.2 700.7,790.1 700.9,792.1 701.3,792.4 701.6,793.5 701.9,794.9 701.8,795.4 702.2,796.7 702.3,795.6 702.5,794.9 703.0,793.2 702.9,792.1 703.0,791.8 703.5,790.0 703.5,790.0 703.4,787.8 703.2,787.1 703.7,786.4 703.6,785.2 704.1,783.8 704.4,783.8 704.5,782.8 704.7,781.6 704.1,779.7 704.8,779.5 704.5,777.9 704.6,776.6 704.9,776.4 705.1,774.6 705.2,774.5 705.0,773.4 705.3,771.5 705.3,771.1 705.5,770.1 706.1,769.0 706.1,767.8 705.9,766.5 706.1,765.3 706.5,764.9 706.6,763.8 706.9,762.3 707.3,761.2 708.2,761.0 708.9,760.0 708.9,761.4 709.3,761.7 709.9,762.5 710.3,763.9 710.1,763.2 710.7,761.8 711.0,760.8 711.0,759.3 711.0,758.1 711.3,757.5 711.1,758.5 711.3,759.4 711.8,760.8 712.1,762.2 712.3,762.5 712.3,763.5 712.5,765.0 712.7,765.8 712.8,767.3 713.4,768.3 713.8,769.4 714.1,770.8 714.3,771.0 714.4,772.7 714.3,771.1 715.2,771.0 714.9,768.9 715.8,767.8 715.7,767.4 715.9,765.9 716.3,765.1 716.7,766.0 717.0,766.7 717.4,768.3 717.1,769.0 717.4,770.7 717.9,771.7 718.1,772.4 720.0,772.6 720.6,773.1 720.3,775.0 721.1,775.2 721.4,776.1 721.3,777.4 722.0,778.6 722.4,780.4 722.4,781.5 723.1,782.4 723.4,782.0 723.6,780.2 724.1,779.5 724.5,779.1 724.9,777.6 724.9,778.2 725.1,779.6 725.8,780.3 726.0,781.3 726.2,782.6 727.6,782.7 728.7,783.7 729.1,782.8 729.3,781.6 729.3,780.5 729.4,779.4 729.8,778.7 729.9,777.6 729.9,776.8 730.2,775.2 729.8,775.0 730.1,773.8 730.6,773.2 730.7,771.6 730.8,770.7 731.6,770.2 731.7,768.8 731.5,769.9 732.0,770.3 731.6,771.8 732.2,773.4 732.4,774.3 732.1,774.5 732.1,776.2 732.7,777.3 732.7,777.5 732.5,778.8 732.7,779.8 733.1,781.3 733.5,781.7 733.1,783.9 733.3,784.4 733.8,785.4 733.9,786.7 734.2,786.3 734.5,784.5 734.9,783.6 734.9,783.1 735.4,782.5 735.7,780.6 735.6,780.1 736.1,778.8 736.5,777.7 737.3,777.9 737.5,776.2 737.7,774.6 737.8,774.3 738.7,773.0 738.5,772.5 739.2,771.4 739.4,769.9 739.8,769.3 739.5,768.2 739.8,766.6 739.6,765.1 740.1,764.3 739.9,763.0 740.5,762.3 740.3,761.0 740.3,762.9 740.9,763.8 741.3,763.9 741.4,765.2 741.5,766.7 741.9,767.5 742.2,766.2 742.4,765.8 742.4,764.2 742.7,763.6 742.9,762.4 743.3,760.8 743.5,760.0 744.4,761.3 745.0,762.4 745.1,761.1 745.2,760.1 745.2,758.8 745.5,757.9 745.5,756.7 745.7,755.4 745.9,754.4 746.0,753.3 746.2,752.3 746.2,751.3 746.4,750.3 746.6,749.1 746.8,747.9 747.0,746.9 747.2,745.8 747.4,744.7 747.6,743.6 747.8,742.5 747.9,741.5 748.0,740.5 748.1,739.5 748.2,738.4 748.3,737.4 748.4,736.4 748.5,735.4 748.6,734.4 748.7,733.4 748.8,732.3 748.9,731.3 749.0,730.3 749.1,729.3 749.2,728.3 749.3,727.3"/>
<polyline class="c" stroke-width="2.0" points="749.3,727.3 749.4,726.2 750.6,707.5 751.9,682.5 753.1,657.5 754.4,632.5 755.4,607.5 756.2,590.0 757.2,590.6 757.9,620.0 758.5,670.0 759.1,707.5 760.0,732.5 761.0,742.5 762.2,744.6 820.0,749.8 888.5,754.0 920.0,757.3 942.5,760.0 1552.0,760.0"/>
<rect class="s" x="224.0" y="541.0" width="1328.0" height="438.0"/>
<line class="s" x1="224" y1="979.0" x2="224" y2="987.0"/>
<text x="224" y="995.1" font-size="1.6" text-anchor="middle">0</text>
<line class="s" x1="445" y1="979.0" x2="445" y2="987.0"/>
<text x="445" y="995.1" font-size="1.6" text-anchor="middle">50</text>
<line class="s" x1="667" y1="979.0" x2="667" y2="987.0"/>
<text x="667" y="995.1" font-size="1.6" text-anchor="middle">100</text>
<line class="s" x1="888" y1="979.0" x2="888" y2="987.0"/>
<text x="888" y="995.1" font-size="1.6" text-anchor="middle">150</text>
<line class="s" x1="1109" y1="979.0" x2="1109" y2="987.0"/>
<text x="1109" y="995.1" font-size="1.6" text-anchor="middle">200</text>
<line class="s" x1="1331" y1="979.0" x2="1331" y2="987.0"/>
<text x="1331" y="995.1" font-size="1.6" text-anchor="middle">250</text>
<line class="s" x1="1552" y1="979.0" x2="1552" y2="987.0"/>
<text x="1552" y="995.1" font-size="1.6" text-anchor="middle">300</text>
<line class="s" x1="216.0" y1="638" x2="224.0" y2="638"/>
<text x="208.4" y="659.1" font-size="53.3" text-anchor="end">50</text>
<line class="s" x1="216.0" y1="760" x2="224.0" y2="760"/>
<text x="209.5" y="780.0" font-size="53.3" text-anchor="end">0</text>
<line class="s" x1="216.0" y1="882" x2="224.0" y2="882"/>
<text x="208.4" y="901.8" font-size="53.3" text-anchor="end">50</text>
<text x="96.9" y="901.8" font-size="53.3">−</text>
<text x="1287.5" y="601.7" font-size="53.3" class="i">B</text>
<text x="1333.4" y="601.7" font-size="53.3">=</text>
<text x="1388.6" y="601.7" font-size="53.3">20</text>
<text x="1474.1" y="601.7" font-size="53.3" class="m">T</text>
<text transform="translate(74.8,888.4) rotate(-90)" font-size="53.3" class="i">E</text>
<text transform="translate(83.2,855.4) rotate(-90)" font-size="37.3" class="i">x</text>
<text transform="translate(74.8,814.7) rotate(-90)" font-size="53.3" class="m">[GV/m]</text>
</g>
<g id="p2">
<line class="g" x1="445.5" y1="1440.0" x2="445.5" y2="1001.0"/>
<line class="g" x1="667.5" y1="1440.0" x2="667.5" y2="1001.0"/>
<line class="g" x1="888.5" y1="1440.0" x2="888.5" y2="1001.0"/>
<line class="g" x1="1109.5" y1="1440.0" x2="1109.5" y2="1001.0"/>
<line class="g" x1="1331.5" y1="1440.0" x2="1331.5" y2="1001.0"/>
<line class="g" x1="224.0" y1="1343.5" x2="1552.0" y2="1343.5"/>
<line class="g" x1="224.0" y1="1221.5" x2="1552.0" y2="1221.5"/>
<line class="g" x1="224.0" y1="1099.5" x2="1552.0" y2="1099.5"/>
<polyline class="c" stroke-width="2.25" points="224.0,1233.0 225.0,1203.0 226.6,1202.0 228.0,1241.0 229.6,1187.0 231.0,1135.0 232.6,1126.6 234.0,1173.0 235.6,1183.0 237.0,1186.0 238.4,1235.0 240.4,1292.0 242.0,1253.0 243.6,1247.0 245.0,1208.0 246.6,1219.0 248.0,1173.0 249.4,1147.0 250.4,1161.0 251.6,1141.0 253.0,1185.0 254.4,1191.0 255.6,1255.0 257.0,1227.0 258.6,1193.0 259.4,1235.0 260.6,1267.0 262.0,1305.0 263.6,1297.0 265.0,1257.0 266.0,1255.0 267.6,1175.0 269.0,1112.0 270.4,1098.0 272.0,1105.0 273.6,1135.0 275.0,1167.0 276.4,1235.0 277.6,1224.0 278.6,1247.0 280.0,1269.0 281.6,1272.0 283.0,1235.0 284.6,1213.0 286.0,1229.0 287.2,1223.0 288.4,1208.0 289.6,1235.0 290.4,1258.0 292.0,1257.0 293.4,1249.0 294.4,1275.0 295.6,1304.0 297.0,1285.0 298.4,1257.0 299.6,1263.0 301.0,1227.0 303.0,1219.0 304.6,1161.0 306.0,1109.0 307.4,1175.0 308.6,1279.0 309.4,1283.0 310.6,1275.0 312.0,1227.0 313.0,1203.0 314.4,1215.0 316.0,1235.0 317.0,1285.0 318.0,1327.0 319.4,1315.0 320.6,1295.0 322.0,1265.0 323.4,1211.0 324.4,1161.0 326.0,1141.0 327.4,1153.0 328.6,1193.0 330.0,1216.0 331.0,1200.0 332.0,1211.0 333.0,1205.0 334.0,1227.0 335.0,1235.0 335.6,1257.0 336.6,1215.0 337.6,1171.0 338.4,1167.0 339.4,1153.0 340.6,1177.0 341.6,1171.0 342.6,1235.0 344.0,1269.0 345.4,1284.0 347.0,1273.0 349.0,1215.0 350.0,1177.0 351.4,1155.0 353.0,1134.0 354.0,1161.0 355.0,1191.0 356.0,1229.0 357.0,1223.0 358.0,1255.0 359.4,1300.0 360.6,1269.0 361.6,1235.0 362.4,1201.0 363.6,1219.0 364.6,1203.0 366.0,1206.0 367.6,1223.0 368.4,1263.0 369.4,1275.0 370.6,1257.0 372.0,1195.0 373.6,1134.0 375.0,1137.0 376.0,1175.0 377.0,1215.0 378.0,1231.0 379.0,1215.0 380.0,1215.0 381.0,1239.0 382.4,1248.0 383.6,1215.0 384.6,1201.0 386.0,1219.0 387.0,1224.0 388.0,1245.0 389.2,1275.0 390.4,1323.0 391.4,1255.0 392.0,1161.0 393.0,1159.0 394.4,1153.0 395.6,1199.0 397.0,1219.0 398.0,1239.0 399.0,1221.0 400.0,1262.0 401.0,1241.0 402.4,1205.0 404.0,1172.0 405.0,1215.0 406.0,1255.0 406.6,1275.0 407.6,1301.0 408.6,1305.0 409.6,1333.0 411.0,1344.0 412.0,1315.0 413.0,1275.0 414.0,1209.0 415.2,1241.0 416.4,1215.0 417.2,1183.0 418.4,1191.0 419.4,1168.0 421.0,1179.0 422.0,1255.0 423.4,1326.0 424.8,1295.0 426.0,1279.0 427.0,1239.0 428.0,1233.0 429.0,1171.0 430.0,1155.0 431.0,1179.0 431.6,1203.0 433.0,1210.0 434.0,1155.0 435.4,1117.0 436.6,1143.0 437.6,1179.0 438.8,1168.0 440.0,1181.0 441.0,1215.0 442.0,1255.0 443.4,1297.0 444.4,1267.0 445.4,1243.0 446.6,1239.0 447.6,1219.0 448.6,1235.0 449.8,1233.0 450.6,1252.0 452.0,1241.0 453.4,1219.0 454.6,1215.0 455.6,1187.0 456.6,1161.0 457.6,1127.0 458.6,1105.0 460.0,1123.0 461.0,1145.0 462.4,1179.0 463.6,1207.0 464.6,1223.0 465.6,1255.0 466.4,1258.0 467.6,1227.0 468.4,1213.0 469.6,1187.0 470.6,1166.0 471.6,1193.0 472.6,1183.0 473.6,1195.0 474.6,1175.0 475.6,1199.0 476.6,1223.0 478.0,1231.0 479.0,1235.0 480.0,1255.0 481.0,1275.0 481.6,1285.0 482.6,1277.0 483.6,1287.0 484.4,1273.0 485.4,1309.0 486.6,1275.0 488.0,1266.0 489.0,1273.0 490.0,1255.0 491.0,1219.0 492.0,1187.0 493.0,1155.0 494.4,1129.0 495.4,1143.0 496.6,1125.0 497.6,1122.4 498.6,1155.0 499.4,1175.0 500.4,1179.0 501.0,1215.0 502.0,1249.0 502.6,1263.0 504.0,1255.0 505.0,1227.0 506.4,1223.0 507.4,1255.0 508.6,1283.0 510.0,1269.0 511.6,1261.0 512.6,1227.0 514.0,1219.0 515.4,1191.0 516.6,1171.0 518.0,1184.0 519.0,1235.0 519.4,1281.0 520.6,1295.0 521.6,1255.0 522.4,1229.0 523.6,1215.0 524.4,1201.0 525.6,1227.0 526.6,1195.0 527.6,1155.0 528.6,1139.0 529.6,1161.0 530.6,1197.0 532.0,1179.0 533.4,1174.0 534.4,1187.0 535.4,1197.0 536.6,1203.0 538.0,1231.0 539.4,1235.0 540.0,1255.0 541.0,1235.0 542.4,1241.0 543.6,1215.0 545.0,1185.0 546.6,1184.0 547.6,1215.0 548.4,1229.0 549.4,1221.0 550.6,1235.0 552.0,1251.0 553.4,1235.0 554.4,1215.0 555.4,1197.0 556.6,1215.0 557.4,1247.0 558.6,1239.0 559.6,1249.0 561.0,1267.0 562.0,1225.0 563.0,1175.0 564.0,1135.0 565.0,1171.0 566.0,1145.0 567.0,1171.0 568.0,1135.0 569.0,1115.0 570.0,1155.0 571.0,1215.0 572.0,1259.0 572.6,1276.0 574.0,1251.0 575.4,1227.0 576.4,1199.0 577.4,1196.0 578.4,1213.0 579.4,1219.0 580.6,1247.0 581.6,1215.0 582.4,1188.0 583.6,1235.0 584.6,1208.0 585.6,1207.0 586.6,1241.0 587.6,1275.0 588.6,1309.0 589.6,1301.0 590.6,1255.0 591.6,1195.0 592.6,1181.0 593.6,1189.0 594.4,1171.0 595.6,1191.0 596.6,1215.0 597.6,1241.0 598.6,1219.0 599.6,1249.0 600.6,1215.0 601.6,1175.0 602.6,1133.0 604.4,1126.0 605.4,1179.0 606.4,1215.0 607.2,1267.0 608.4,1275.0 609.0,1328.0 610.0,1295.0 611.0,1235.0 612.0,1155.0 613.0,1107.0 614.0,1155.0 615.0,1179.0 616.0,1231.0 617.4,1245.0 618.6,1259.0 619.6,1235.0 620.6,1211.0 621.4,1193.0 622.6,1235.0 623.6,1275.0 624.6,1287.0 625.6,1235.0 626.4,1172.0 627.6,1195.0 628.6,1178.0 629.6,1215.0 630.6,1227.0 631.6,1203.0 632.6,1175.0 633.6,1145.0 635.4,1136.0 636.6,1175.0 637.6,1224.0 638.6,1205.0 639.6,1215.0 640.6,1205.0 641.4,1247.0 642.4,1205.0 643.6,1156.0 644.6,1175.0 645.6,1195.0 646.6,1193.0 647.4,1224.0 648.6,1243.0 650.0,1213.0 651.0,1223.0 652.0,1245.0 653.0,1205.0 654.4,1223.0 655.4,1195.0 656.6,1167.0 657.6,1179.0 658.4,1165.0 659.4,1135.0 660.4,1167.0 661.4,1215.0 662.4,1250.0 663.4,1157.0 664.4,1161.0 665.4,1189.0 666.4,1188.0 667.4,1231.0 668.6,1213.0 670.0,1235.0 671.0,1215.0 672.0,1191.0 673.4,1188.0 674.4,1215.0 676.0,1243.0 677.0,1223.0 678.4,1227.0 679.6,1195.0 680.6,1235.0 681.4,1263.0 682.6,1231.0 683.4,1233.0 684.4,1271.0 685.4,1293.0 686.6,1279.0 687.6,1287.0 689.0,1245.0 690.4,1205.0 691.4,1223.0 692.6,1196.0 694.0,1255.0 695.0,1297.0 696.4,1255.0 697.4,1227.0 698.6,1227.0 699.9,1185.5 700.9,1214.3 702.0,1217.4 702.8,1196.8 703.8,1228.8 704.9,1212.3 706.1,1214.3 707.1,1228.8 708.1,1255.6 709.0,1289.6 710.2,1255.6 711.2,1210.2 712.3,1212.3 713.3,1225.7 714.3,1193.7 715.4,1173.1 716.4,1158.7 717.8,1183.4 718.9,1197.8 719.5,1212.3 720.5,1175.2 721.3,1235.0 722.0,1296.8 723.0,1369.0 724.0,1395.8 725.0,1379.3 726.1,1338.0 727.1,1276.2 728.1,1214.3 729.2,1169.0 730.2,1160.7 731.2,1138.0 732.7,1100.9 733.7,1080.3 734.7,1102.0 735.8,1103.0 736.4,1152.5 737.4,1173.1 738.9,1193.7 740.1,1214.3 741.1,1204.0 742.0,1235.0 743.0,1276.2 744.0,1293.7"/>
<polyline class="c" stroke-width="2.0" points="744.0,1293.7 745.3,1284.4 746.3,1255.6 747.3,1226.7 748.8,1193.7 750.2,1162.8 751.4,1148.3 752.5,1141.1 755.0,1139.1 757.0,1137.0 759.1,1138.0 760.1,1142.2 761.8,1152.5 764.2,1160.7 767.3,1171.0 771.4,1182.4 774.5,1187.5 778.7,1193.7 781.8,1197.2 785.3,1200.3 789.0,1201.5 792.1,1200.5 796.2,1199.9 799.3,1202.0 802.4,1205.0 805.5,1205.7 813.7,1206.1 824.0,1206.9 834.3,1207.1 844.6,1207.5 850.0,1208.6 863.5,1208.3 869.5,1209.2 880.0,1209.0 893.5,1208.8 904.0,1210.2 917.5,1211.8 932.5,1214.0 947.5,1216.5 956.5,1217.3 967.0,1216.7 976.0,1218.0 982.0,1218.0 992.5,1219.2 1007.5,1220.0 1030.0,1220.6 1552.0,1220.7"/>
<rect class="s" x="224.0" y="1001.0" width="1328.0" height="439.0"/>
<line class="s" x1="224" y1="1440.0" x2="224" y2="1448.0"/>
<line class="s" x1="445" y1="1440.0" x2="445" y2="1448.0"/>
<line class="s" x1="667" y1="1440.0" x2="667" y2="1448.0"/>
<line class="s" x1="888" y1="1440.0" x2="888" y2="1448.0"/>
<line class="s" x1="1109" y1="1440.0" x2="1109" y2="1448.0"/>
<line class="s" x1="1331" y1="1440.0" x2="1331" y2="1448.0"/>
<line class="s" x1="1552" y1="1440.0" x2="1552" y2="1448.0"/>
<line class="s" x1="216.0" y1="1099" x2="224.0" y2="1099"/>
<text x="208.4" y="1118.8" font-size="53.3" text-anchor="end">50</text>
<line class="s" x1="216.0" y1="1221" x2="224.0" y2="1221"/>
<text x="209.5" y="1240.7" font-size="53.3" text-anchor="end">0</text>
<line class="s" x1="216.0" y1="1343" x2="224.0" y2="1343"/>
<text x="208.4" y="1362.5" font-size="53.3" text-anchor="end">50</text>
<text x="96.9" y="1362.5" font-size="53.3">−</text>
<text x="1287.5" y="1061.7" font-size="53.3" class="i">B</text>
<text x="1333.4" y="1061.7" font-size="53.3">=</text>
<text x="1388.6" y="1061.7" font-size="53.3">100</text>
<text x="1508.0" y="1061.7" font-size="53.3" class="m">T</text>
<text transform="translate(74.8,1348.4) rotate(-90)" font-size="53.3" class="i">E</text>
<text transform="translate(83.2,1315.4) rotate(-90)" font-size="37.3" class="i">x</text>
<text transform="translate(74.8,1274.7) rotate(-90)" font-size="53.3" class="m">[GV/m]</text>
</g>
<text x="224.7" y="1497.2" font-size="53.3" text-anchor="middle">0</text>
<text x="446.0" y="1497.2" font-size="53.3" text-anchor="middle">50</text>
<text x="667.4" y="1497.2" font-size="53.3" text-anchor="middle">100</text>
<text x="888.7" y="1497.2" font-size="53.3" text-anchor="middle">150</text>
<text x="1110.0" y="1497.2" font-size="53.3" text-anchor="middle">200</text>
<text x="1331.4" y="1497.2" font-size="53.3" text-anchor="middle">250</text>
<text x="1551.2" y="1497.2" font-size="53.3" text-anchor="middle">300</text>
</svg>
</body></html>
